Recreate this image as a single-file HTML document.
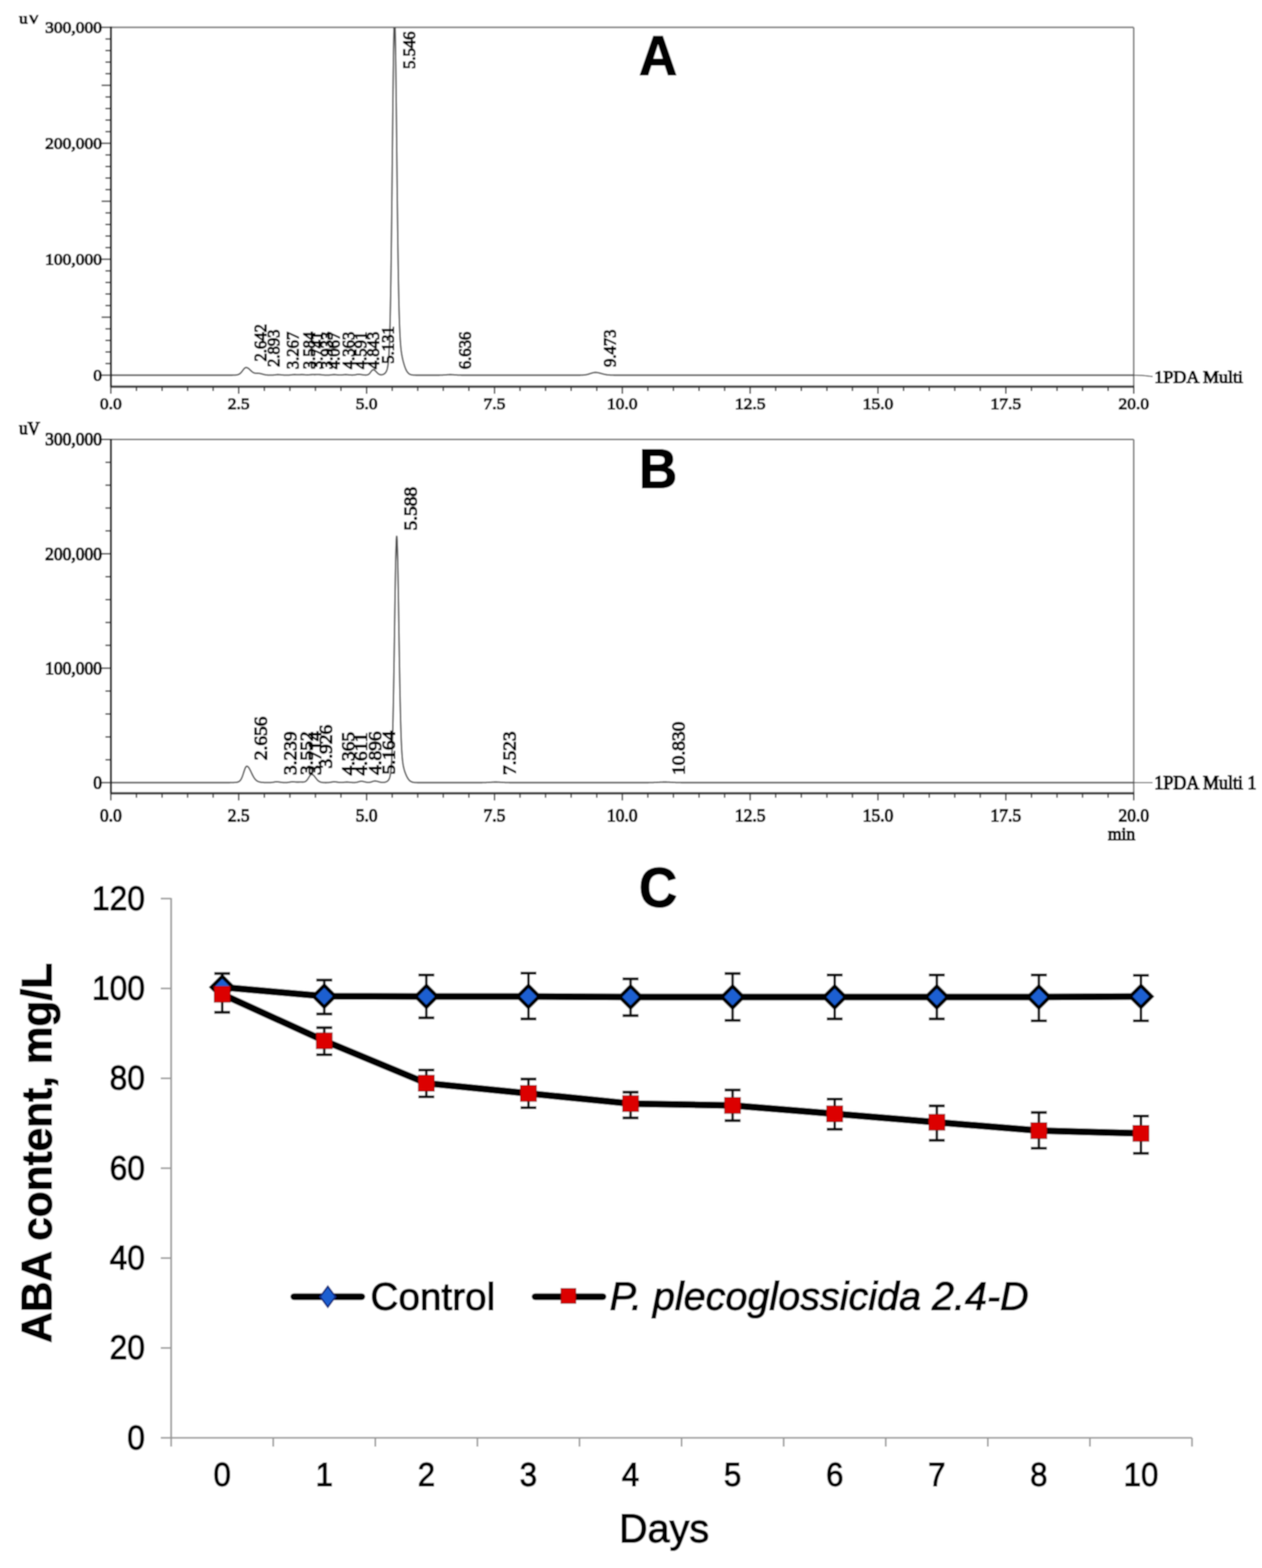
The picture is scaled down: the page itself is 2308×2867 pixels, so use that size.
<!DOCTYPE html>
<html><head><meta charset="utf-8"><title>ABA chromatograms and content</title>
<style>html,body{margin:0;padding:0;background:#fff;} svg{display:block;}</style>
</head><body>
<svg width="2308" height="2867" viewBox="0 0 2308 2867">
<defs><filter id="soft" x="0" y="0" width="1" height="1" filterUnits="objectBoundingBox"><feGaussianBlur stdDeviation="0.9"/></filter></defs>
<g filter="url(#soft)">
<rect width="2308" height="2867" fill="#fff"/>
<line x1="202.80" y1="50.00" x2="2073.40" y2="50.00" stroke="#7a7a7a" stroke-width="3"/>
<line x1="2073.40" y1="50.00" x2="2073.40" y2="707.00" stroke="#7a7a7a" stroke-width="3"/>
<clipPath id="clip50"><rect x="202.8" y="50.0" width="1870.6000000000001" height="657.0"/></clipPath>
<polyline points="202.8,686.0 203.3,686.0 203.8,686.0 204.3,686.0 204.8,686.0 205.3,686.0 205.8,686.0 206.3,686.0 206.8,686.0 207.3,686.0 207.8,686.0 208.3,686.0 208.8,686.0 209.3,686.0 209.8,686.0 210.3,686.0 210.8,686.0 211.3,686.0 211.8,686.0 212.3,686.0 212.8,686.0 213.3,686.0 213.8,686.0 214.3,686.0 214.8,686.0 215.3,686.0 215.8,686.0 216.3,686.0 216.8,686.0 217.3,686.0 217.8,686.0 218.3,686.0 218.8,686.0 219.3,686.0 219.8,686.0 220.3,686.0 220.8,686.0 221.3,686.0 221.8,686.0 222.3,686.0 222.8,686.0 223.3,686.0 223.8,686.0 224.3,686.0 224.8,686.0 225.3,686.0 225.8,686.0 226.3,686.0 226.8,686.0 227.3,686.0 227.8,686.0 228.3,686.0 228.8,686.0 229.3,686.0 229.8,686.0 230.3,686.0 230.8,686.0 231.3,686.0 231.8,686.0 232.3,686.0 232.8,686.0 233.3,686.0 233.8,686.0 234.3,686.0 234.8,686.0 235.3,686.0 235.8,686.0 236.3,686.0 236.8,686.0 237.3,686.0 237.8,686.0 238.3,686.0 238.8,686.0 239.3,686.0 239.8,686.0 240.3,686.0 240.8,686.0 241.3,686.0 241.8,686.0 242.3,686.0 242.8,686.0 243.3,686.0 243.8,686.0 244.3,686.0 244.8,686.0 245.3,686.0 245.8,686.0 246.3,686.0 246.8,686.0 247.3,686.0 247.8,686.0 248.3,686.0 248.8,686.0 249.3,686.0 249.8,686.0 250.3,686.0 250.8,686.0 251.3,686.0 251.8,686.0 252.3,686.0 252.8,686.0 253.3,686.0 253.8,686.0 254.3,686.0 254.8,686.0 255.3,686.0 255.8,686.0 256.3,686.0 256.8,686.0 257.3,686.0 257.8,686.0 258.3,686.0 258.8,686.0 259.3,686.0 259.8,686.0 260.3,686.0 260.8,686.0 261.3,686.0 261.8,686.0 262.3,686.0 262.8,686.0 263.3,686.0 263.8,686.0 264.3,686.0 264.8,686.0 265.3,686.0 265.8,686.0 266.3,686.0 266.8,686.0 267.3,686.0 267.8,686.0 268.3,686.0 268.8,686.0 269.3,686.0 269.8,686.0 270.3,686.0 270.8,686.0 271.3,686.0 271.8,686.0 272.3,686.0 272.8,686.0 273.3,686.0 273.8,686.0 274.3,686.0 274.8,686.0 275.3,686.0 275.8,686.0 276.3,686.0 276.8,686.0 277.3,686.0 277.8,686.0 278.3,686.0 278.8,686.0 279.3,686.0 279.8,686.0 280.3,686.0 280.8,686.0 281.3,686.0 281.8,686.0 282.3,686.0 282.8,686.0 283.3,686.0 283.8,686.0 284.3,686.0 284.8,686.0 285.3,686.0 285.8,686.0 286.3,686.0 286.8,686.0 287.3,686.0 287.8,686.0 288.3,686.0 288.8,686.0 289.3,686.0 289.8,686.0 290.3,686.0 290.8,686.0 291.3,686.0 291.8,686.0 292.3,686.0 292.8,686.0 293.3,686.0 293.8,686.0 294.3,686.0 294.8,686.0 295.3,686.0 295.8,686.0 296.3,686.0 296.8,686.0 297.3,686.0 297.8,686.0 298.3,686.0 298.8,686.0 299.3,686.0 299.8,686.0 300.3,686.0 300.8,686.0 301.3,686.0 301.8,686.0 302.3,686.0 302.8,686.0 303.3,686.0 303.8,686.0 304.3,686.0 304.8,686.0 305.3,686.0 305.8,686.0 306.3,686.0 306.8,686.0 307.3,686.0 307.8,686.0 308.3,686.0 308.8,686.0 309.3,686.0 309.8,686.0 310.3,686.0 310.8,686.0 311.3,686.0 311.8,686.0 312.3,686.0 312.8,686.0 313.3,686.0 313.8,686.0 314.3,686.0 314.8,686.0 315.3,686.0 315.8,686.0 316.3,686.0 316.8,686.0 317.3,686.0 317.8,686.0 318.3,686.0 318.8,686.0 319.3,686.0 319.8,686.0 320.3,686.0 320.8,686.0 321.3,686.0 321.8,686.0 322.3,686.0 322.8,686.0 323.3,686.0 323.8,686.0 324.3,686.0 324.8,686.0 325.3,686.0 325.8,686.0 326.3,686.0 326.8,686.0 327.3,686.0 327.8,686.0 328.3,686.0 328.8,686.0 329.3,686.0 329.8,686.0 330.3,686.0 330.8,686.0 331.3,686.0 331.8,686.0 332.3,686.0 332.8,686.0 333.3,686.0 333.8,686.0 334.3,686.0 334.8,686.0 335.3,686.0 335.8,686.0 336.3,686.0 336.8,686.0 337.3,686.0 337.8,686.0 338.3,686.0 338.8,686.0 339.3,686.0 339.8,686.0 340.3,686.0 340.8,686.0 341.3,686.0 341.8,686.0 342.3,686.0 342.8,686.0 343.3,686.0 343.8,686.0 344.3,686.0 344.8,686.0 345.3,686.0 345.8,686.0 346.3,686.0 346.8,686.0 347.3,686.0 347.8,686.0 348.3,686.0 348.8,686.0 349.3,686.0 349.8,686.0 350.3,686.0 350.8,686.0 351.3,686.0 351.8,686.0 352.3,686.0 352.8,686.0 353.3,686.0 353.8,686.0 354.3,686.0 354.8,686.0 355.3,686.0 355.8,686.0 356.3,686.0 356.8,686.0 357.3,686.0 357.8,686.0 358.3,686.0 358.8,686.0 359.3,686.0 359.8,686.0 360.3,686.0 360.8,686.0 361.3,686.0 361.8,686.0 362.3,686.0 362.8,686.0 363.3,686.0 363.8,686.0 364.3,686.0 364.8,686.0 365.3,686.0 365.8,686.0 366.3,686.0 366.8,686.0 367.3,686.0 367.8,686.0 368.3,686.0 368.8,686.0 369.3,686.0 369.8,686.0 370.3,686.0 370.8,686.0 371.3,686.0 371.8,686.0 372.3,686.0 372.8,686.0 373.3,686.0 373.8,686.0 374.3,686.0 374.8,686.0 375.3,686.0 375.8,686.0 376.3,686.0 376.8,686.0 377.3,686.0 377.8,686.0 378.3,686.0 378.8,686.0 379.3,686.0 379.8,686.0 380.3,686.0 380.8,686.0 381.3,686.0 381.8,686.0 382.3,686.0 382.8,686.0 383.3,686.0 383.8,686.0 384.3,686.0 384.8,686.0 385.3,686.0 385.8,686.0 386.3,686.0 386.8,686.0 387.3,686.0 387.8,686.0 388.3,686.0 388.8,686.0 389.3,686.0 389.8,686.0 390.3,686.0 390.8,686.0 391.3,686.0 391.8,686.0 392.3,686.0 392.8,686.0 393.3,686.0 393.8,686.0 394.3,686.0 394.8,686.0 395.3,686.0 395.8,686.0 396.3,686.0 396.8,686.0 397.3,686.0 397.8,686.0 398.3,686.0 398.8,686.0 399.3,686.0 399.8,686.0 400.3,686.0 400.8,686.0 401.3,686.0 401.8,686.0 402.3,686.0 402.8,686.0 403.3,686.0 403.8,686.0 404.3,686.0 404.8,686.0 405.3,686.0 405.8,686.0 406.3,686.0 406.8,686.0 407.3,686.0 407.8,686.0 408.3,686.0 408.8,686.0 409.3,686.0 409.8,686.0 410.3,686.0 410.8,686.0 411.3,686.0 411.8,686.0 412.3,686.0 412.8,686.0 413.3,686.0 413.8,686.0 414.3,686.0 414.8,686.0 415.3,686.0 415.8,686.0 416.3,686.0 416.8,686.0 417.3,686.0 417.8,686.0 418.3,686.0 418.8,686.0 419.3,686.0 419.8,686.0 420.3,686.0 420.8,686.0 421.3,686.0 421.8,686.0 422.3,686.0 422.8,686.0 423.3,686.0 423.8,686.0 424.3,686.0 424.8,686.0 425.3,686.0 425.8,685.9 426.3,685.9 426.8,685.9 427.3,685.9 427.8,685.9 428.3,685.9 428.8,685.9 429.3,685.9 429.8,685.8 430.3,685.8 430.8,685.8 431.3,685.7 431.8,685.7 432.3,685.6 432.8,685.5 433.3,685.5 433.8,685.4 434.3,685.3 434.8,685.1 435.3,685.0 435.8,684.8 436.3,684.6 436.8,684.4 437.3,684.1 437.8,683.8 438.3,683.5 438.8,683.1 439.3,682.7 439.8,682.3 440.3,681.8 440.8,681.2 441.3,680.7 441.8,680.1 442.3,679.5 442.8,678.8 443.3,678.2 443.8,677.5 444.3,676.8 444.8,676.2 445.3,675.5 445.8,674.9 446.3,674.3 446.8,673.8 447.3,673.3 447.8,672.9 448.3,672.5 448.8,672.3 449.3,672.1 449.8,672.0 450.3,672.0 450.8,672.0 451.3,672.1 451.8,672.3 452.3,672.5 452.8,672.7 453.3,673.0 453.8,673.3 454.3,673.6 454.8,674.0 455.3,674.4 455.8,674.9 456.3,675.3 456.8,675.8 457.3,676.3 457.8,676.7 458.3,677.2 458.8,677.7 459.3,678.2 459.8,678.6 460.3,679.1 460.8,679.5 461.3,679.9 461.8,680.2 462.3,680.6 462.8,680.9 463.3,681.2 463.8,681.4 464.3,681.7 464.8,681.9 465.3,682.0 465.8,682.1 466.3,682.3 466.8,682.3 467.3,682.4 467.8,682.4 468.3,682.5 468.8,682.5 469.3,682.5 469.8,682.5 470.3,682.5 470.8,682.5 471.3,682.5 471.8,682.5 472.3,682.5 472.8,682.6 473.3,682.6 473.8,682.7 474.3,682.7 474.8,682.8 475.3,682.9 475.8,683.0 476.3,683.1 476.8,683.2 477.3,683.3 477.8,683.4 478.3,683.6 478.8,683.7 479.3,683.8 479.8,684.0 480.3,684.1 480.8,684.2 481.3,684.4 481.8,684.5 482.3,684.6 482.8,684.8 483.3,684.9 483.8,685.0 484.3,685.1 484.8,685.2 485.3,685.3 485.8,685.4 486.3,685.4 486.8,685.5 487.3,685.6 487.8,685.6 488.3,685.7 488.8,685.7 489.3,685.8 489.8,685.8 490.3,685.8 490.8,685.9 491.3,685.9 491.8,685.9 492.3,685.9 492.8,685.9 493.3,685.9 493.8,685.9 494.3,685.9 494.8,685.9 495.3,685.9 495.8,685.9 496.3,685.9 496.8,685.9 497.3,685.9 497.8,685.9 498.3,685.9 498.8,685.8 499.3,685.8 499.8,685.8 500.3,685.7 500.8,685.7 501.3,685.6 501.8,685.6 502.3,685.5 502.8,685.5 503.3,685.4 503.8,685.3 504.3,685.3 504.8,685.2 505.3,685.2 505.8,685.1 506.3,685.1 506.8,685.0 507.3,685.0 507.8,685.0 508.3,685.0 508.8,685.0 509.3,685.0 509.8,685.0 510.3,685.1 510.8,685.1 511.3,685.1 511.8,685.2 512.3,685.2 512.8,685.2 513.3,685.3 513.8,685.3 514.3,685.4 514.8,685.4 515.3,685.5 515.8,685.5 516.3,685.6 516.8,685.6 517.3,685.7 517.8,685.7 518.3,685.7 518.8,685.8 519.3,685.8 519.8,685.8 520.3,685.9 520.8,685.9 521.3,685.9 521.8,685.9 522.3,685.9 522.8,685.9 523.3,685.9 523.8,685.9 524.3,685.9 524.8,685.9 525.3,685.9 525.8,685.9 526.3,685.9 526.8,685.9 527.3,685.9 527.8,685.9 528.3,685.8 528.8,685.8 529.3,685.8 529.8,685.7 530.3,685.7 530.8,685.6 531.3,685.6 531.8,685.5 532.3,685.5 532.8,685.4 533.3,685.4 533.8,685.3 534.3,685.2 534.8,685.2 535.3,685.1 535.8,685.1 536.3,685.1 536.8,685.0 537.3,685.0 537.8,685.0 538.3,685.0 538.8,685.0 539.3,685.0 539.8,685.0 540.3,685.0 540.8,685.0 541.3,685.1 541.8,685.1 542.3,685.1 542.8,685.1 543.3,685.2 543.8,685.2 544.3,685.2 544.8,685.2 545.3,685.2 545.8,685.2 546.3,685.2 546.8,685.2 547.3,685.1 547.8,685.1 548.3,685.1 548.8,685.1 549.3,685.0 549.8,685.0 550.3,685.0 550.8,685.0 551.3,685.0 551.8,684.9 552.3,684.9 552.8,685.0 553.3,685.0 553.8,685.0 554.3,685.0 554.8,685.0 555.3,685.1 555.8,685.1 556.3,685.1 556.8,685.2 557.3,685.2 557.8,685.3 558.3,685.3 558.8,685.3 559.3,685.4 559.8,685.4 560.3,685.4 560.8,685.5 561.3,685.5 561.8,685.5 562.3,685.5 562.8,685.5 563.3,685.5 563.8,685.4 564.3,685.4 564.8,685.4 565.3,685.3 565.8,685.3 566.3,685.2 566.8,685.2 567.3,685.1 567.8,685.1 568.3,685.1 568.8,685.0 569.3,685.0 569.8,685.0 570.3,685.0 570.8,684.9 571.3,684.9 571.8,684.9 572.3,684.9 572.8,684.9 573.3,684.9 573.8,685.0 574.3,685.0 574.8,685.0 575.3,685.0 575.8,685.0 576.3,685.0 576.8,685.0 577.3,685.0 577.8,684.9 578.3,684.9 578.8,684.9 579.3,684.9 579.8,684.9 580.3,684.9 580.8,684.9 581.3,684.9 581.8,684.9 582.3,684.9 582.8,684.9 583.3,684.9 583.8,684.9 584.3,684.9 584.8,685.0 585.3,685.0 585.8,685.0 586.3,685.1 586.8,685.1 587.3,685.2 587.8,685.2 588.3,685.3 588.8,685.3 589.3,685.4 589.8,685.4 590.3,685.5 590.8,685.5 591.3,685.6 591.8,685.6 592.3,685.7 592.8,685.7 593.3,685.8 593.8,685.8 594.3,685.8 594.8,685.8 595.3,685.9 595.8,685.9 596.3,685.9 596.8,685.9 597.3,685.9 597.8,685.9 598.3,685.9 598.8,685.9 599.3,685.9 599.8,685.9 600.3,685.9 600.8,685.9 601.3,685.8 601.8,685.8 602.3,685.8 602.8,685.7 603.3,685.7 603.8,685.6 604.3,685.6 604.8,685.5 605.3,685.5 605.8,685.4 606.3,685.3 606.8,685.3 607.3,685.2 607.8,685.2 608.3,685.1 608.8,685.1 609.3,685.0 609.8,685.0 610.3,685.0 610.8,685.0 611.3,685.0 611.8,685.0 612.3,685.0 612.8,685.0 613.3,685.1 613.8,685.1 614.3,685.1 614.8,685.2 615.3,685.2 615.8,685.3 616.3,685.3 616.8,685.4 617.3,685.4 617.8,685.5 618.3,685.5 618.8,685.6 619.3,685.6 619.8,685.6 620.3,685.7 620.8,685.7 621.3,685.7 621.8,685.7 622.3,685.7 622.8,685.7 623.3,685.7 623.8,685.7 624.3,685.6 624.8,685.6 625.3,685.6 625.8,685.5 626.3,685.5 626.8,685.4 627.3,685.4 627.8,685.3 628.3,685.2 628.8,685.2 629.3,685.1 629.8,685.1 630.3,685.1 630.8,685.0 631.3,685.0 631.8,685.0 632.3,685.0 632.8,685.0 633.3,685.0 633.8,685.0 634.3,685.1 634.8,685.1 635.3,685.1 635.8,685.2 636.3,685.2 636.8,685.3 637.3,685.3 637.8,685.4 638.3,685.4 638.8,685.4 639.3,685.5 639.8,685.5 640.3,685.6 640.8,685.6 641.3,685.7 641.8,685.7 642.3,685.7 642.8,685.7 643.3,685.8 643.8,685.8 644.3,685.8 644.8,685.8 645.3,685.7 645.8,685.7 646.3,685.7 646.8,685.6 647.3,685.6 647.8,685.5 648.3,685.5 648.8,685.4 649.3,685.3 649.8,685.3 650.3,685.2 650.8,685.1 651.3,685.0 651.8,684.9 652.3,684.8 652.8,684.7 653.3,684.7 653.8,684.6 654.3,684.6 654.8,684.5 655.3,684.5 655.8,684.5 656.3,684.5 656.8,684.5 657.3,684.5 657.8,684.6 658.3,684.6 658.8,684.7 659.3,684.7 659.8,684.8 660.3,684.9 660.8,684.9 661.3,685.0 661.8,685.1 662.3,685.2 662.8,685.2 663.3,685.3 663.8,685.4 664.3,685.5 664.8,685.5 665.3,685.6 665.8,685.6 666.3,685.7 666.8,685.7 667.3,685.7 667.8,685.8 668.3,685.8 668.8,685.8 669.3,685.8 669.8,685.7 670.3,685.7 670.8,685.6 671.3,685.5 671.8,685.4 672.3,685.3 672.8,685.1 673.3,684.9 673.8,684.6 674.3,684.2 674.8,683.9 675.3,683.4 675.8,682.9 676.3,682.4 676.8,681.8 677.3,681.1 677.8,680.5 678.3,679.8 678.8,679.1 679.3,678.5 679.8,677.9 680.3,677.3 680.8,676.9 681.3,676.5 681.8,676.2 682.3,676.0 682.8,676.0 683.3,676.1 683.8,676.2 684.3,676.4 684.8,676.7 685.3,677.1 685.8,677.5 686.3,677.9 686.8,678.4 687.3,678.9 687.8,679.5 688.3,680.0 688.8,680.6 689.3,681.1 689.8,681.6 690.3,682.1 690.8,682.6 691.3,683.0 691.8,683.4 692.3,683.8 692.8,684.1 693.3,684.3 693.8,684.6 694.3,684.8 694.8,684.9 695.3,685.1 695.8,685.2 696.3,685.2 696.8,685.3 697.3,685.3 697.8,685.2 698.3,685.2 698.8,685.1 699.3,685.0 699.8,684.9 700.3,684.8 700.8,684.6 701.3,684.4 701.8,684.1 702.3,683.8 702.8,683.5 703.3,683.1 703.8,682.7 704.3,682.2 704.8,681.7 705.3,681.0 705.8,680.3 706.3,679.5 706.8,678.5 707.3,677.3 707.8,675.9 708.3,674.1 708.8,671.9 709.3,669.1 709.8,665.5 710.3,660.9 710.8,655.0 711.3,647.5 711.8,638.0 712.3,626.0 712.8,611.2 713.3,593.0 713.8,571.0 714.3,545.0 714.8,514.7 715.3,480.1 715.8,441.4 716.3,399.0 716.8,353.6 717.3,306.2 717.8,258.1 718.3,210.7 718.8,165.7 719.3,124.8 719.8,89.6 720.3,61.5 720.8,41.9 721.3,31.5 721.8,30.8 722.3,39.8 722.8,57.9 723.3,84.4 723.8,117.9 724.3,157.1 724.8,200.2 725.3,245.6 725.8,291.7 726.3,337.1 726.8,380.5 727.3,421.0 727.8,458.0 728.3,490.9 728.8,519.8 729.3,544.6 729.8,565.5 730.3,583.0 730.8,597.3 731.3,609.1 731.8,618.5 732.3,626.2 732.8,632.5 733.3,637.6 733.8,641.8 734.3,645.4 734.8,648.6 735.3,651.3 735.8,653.8 736.3,656.1 736.8,658.2 737.3,660.3 737.8,662.2 738.3,664.0 738.8,665.7 739.3,667.4 739.8,668.9 740.3,670.4 740.8,671.8 741.3,673.1 741.8,674.3 742.3,675.4 742.8,676.5 743.3,677.5 743.8,678.4 744.3,679.2 744.8,679.9 745.3,680.6 745.8,681.3 746.3,681.8 746.8,682.3 747.3,682.8 747.8,683.2 748.3,683.6 748.8,683.9 749.3,684.2 749.8,684.4 750.3,684.6 750.8,684.8 751.3,685.0 751.8,685.2 752.3,685.3 752.8,685.4 753.3,685.5 753.8,685.6 754.3,685.6 754.8,685.7 755.3,685.7 755.8,685.8 756.3,685.8 756.8,685.9 757.3,685.9 757.8,685.9 758.3,685.9 758.8,685.9 759.3,685.9 759.8,686.0 760.3,686.0 760.8,686.0 761.3,686.0 761.8,686.0 762.3,686.0 762.8,686.0 763.3,686.0 763.8,686.0 764.3,686.0 764.8,686.0 765.3,686.0 765.8,686.0 766.3,686.0 766.8,686.0 767.3,686.0 767.8,686.0 768.3,686.0 768.8,686.0 769.3,686.0 769.8,686.0 770.3,686.0 770.8,686.0 771.3,686.0 771.8,686.0 772.3,686.0 772.8,686.0 773.3,686.0 773.8,686.0 774.3,686.0 774.8,686.0 775.3,686.0 775.8,686.0 776.3,686.0 776.8,686.0 777.3,686.0 777.8,686.0 778.3,686.0 778.8,686.0 779.3,686.0 779.8,686.0 780.3,686.0 780.8,686.0 781.3,686.0 781.8,686.0 782.3,686.0 782.8,686.0 783.3,686.0 783.8,686.0 784.3,686.0 784.8,686.0 785.3,686.0 785.8,686.0 786.3,686.0 786.8,686.0 787.3,686.0 787.8,686.0 788.3,686.0 788.8,686.0 789.3,686.0 789.8,686.0 790.3,686.0 790.8,686.0 791.3,686.0 791.8,686.0 792.3,686.0 792.8,686.0 793.3,686.0 793.8,686.0 794.3,686.0 794.8,686.0 795.3,686.0 795.8,686.0 796.3,686.0 796.8,686.0 797.3,686.0 797.8,686.0 798.3,686.0 798.8,686.0 799.3,686.0 799.8,686.0 800.3,686.0 800.8,686.0 801.3,686.0 801.8,686.0 802.3,686.0 802.8,686.0 803.3,686.0 803.8,686.0 804.3,685.9 804.8,685.9 805.3,685.9 805.8,685.9 806.3,685.9 806.8,685.9 807.3,685.9 807.8,685.9 808.3,685.8 808.8,685.8 809.3,685.8 809.8,685.8 810.3,685.7 810.8,685.7 811.3,685.7 811.8,685.7 812.3,685.6 812.8,685.6 813.3,685.6 813.8,685.5 814.3,685.5 814.8,685.4 815.3,685.4 815.8,685.4 816.3,685.3 816.8,685.3 817.3,685.3 817.8,685.2 818.3,685.2 818.8,685.2 819.3,685.1 819.8,685.1 820.3,685.1 820.8,685.1 821.3,685.0 821.8,685.0 822.3,685.0 822.8,685.0 823.3,685.0 823.8,685.0 824.3,685.0 824.8,685.0 825.3,685.0 825.8,685.0 826.3,685.1 826.8,685.1 827.3,685.1 827.8,685.1 828.3,685.2 828.8,685.2 829.3,685.2 829.8,685.3 830.3,685.3 830.8,685.3 831.3,685.4 831.8,685.4 832.3,685.5 832.8,685.5 833.3,685.5 833.8,685.6 834.3,685.6 834.8,685.6 835.3,685.7 835.8,685.7 836.3,685.7 836.8,685.8 837.3,685.8 837.8,685.8 838.3,685.8 838.8,685.8 839.3,685.9 839.8,685.9 840.3,685.9 840.8,685.9 841.3,685.9 841.8,685.9 842.3,685.9 842.8,685.9 843.3,686.0 843.8,686.0 844.3,686.0 844.8,686.0 845.3,686.0 845.8,686.0 846.3,686.0 846.8,686.0 847.3,686.0 847.8,686.0 848.3,686.0 848.8,686.0 849.3,686.0 849.8,686.0 850.3,686.0 850.8,686.0 851.3,686.0 851.8,686.0 852.3,686.0 852.8,686.0 853.3,686.0 853.8,686.0 854.3,686.0 854.8,686.0 855.3,686.0 855.8,686.0 856.3,686.0 856.8,686.0 857.3,686.0 857.8,686.0 858.3,686.0 858.8,686.0 859.3,686.0 859.8,686.0 860.3,686.0 860.8,686.0 861.3,686.0 861.8,686.0 862.3,686.0 862.8,686.0 863.3,686.0 863.8,686.0 864.3,686.0 864.8,686.0 865.3,686.0 865.8,686.0 866.3,686.0 866.8,686.0 867.3,686.0 867.8,686.0 868.3,686.0 868.8,686.0 869.3,686.0 869.8,686.0 870.3,686.0 870.8,686.0 871.3,686.0 871.8,686.0 872.3,686.0 872.8,686.0 873.3,686.0 873.8,686.0 874.3,686.0 874.8,686.0 875.3,686.0 875.8,686.0 876.3,686.0 876.8,686.0 877.3,686.0 877.8,686.0 878.3,686.0 878.8,686.0 879.3,686.0 879.8,686.0 880.3,686.0 880.8,686.0 881.3,686.0 881.8,686.0 882.3,686.0 882.8,686.0 883.3,686.0 883.8,686.0 884.3,686.0 884.8,686.0 885.3,686.0 885.8,686.0 886.3,686.0 886.8,686.0 887.3,686.0 887.8,686.0 888.3,686.0 888.8,686.0 889.3,686.0 889.8,686.0 890.3,686.0 890.8,686.0 891.3,686.0 891.8,686.0 892.3,686.0 892.8,686.0 893.3,686.0 893.8,686.0 894.3,686.0 894.8,686.0 895.3,686.0 895.8,686.0 896.3,686.0 896.8,686.0 897.3,686.0 897.8,686.0 898.3,686.0 898.8,686.0 899.3,686.0 899.8,686.0 900.3,686.0 900.8,686.0 901.3,686.0 901.8,686.0 902.3,686.0 902.8,686.0 903.3,686.0 903.8,686.0 904.3,686.0 904.8,686.0 905.3,686.0 905.8,686.0 906.3,686.0 906.8,686.0 907.3,686.0 907.8,686.0 908.3,686.0 908.8,686.0 909.3,686.0 909.8,686.0 910.3,686.0 910.8,686.0 911.3,686.0 911.8,686.0 912.3,686.0 912.8,686.0 913.3,686.0 913.8,686.0 914.3,686.0 914.8,686.0 915.3,686.0 915.8,686.0 916.3,686.0 916.8,686.0 917.3,686.0 917.8,686.0 918.3,686.0 918.8,686.0 919.3,686.0 919.8,686.0 920.3,686.0 920.8,686.0 921.3,686.0 921.8,686.0 922.3,686.0 922.8,686.0 923.3,686.0 923.8,686.0 924.3,686.0 924.8,686.0 925.3,686.0 925.8,686.0 926.3,686.0 926.8,686.0 927.3,686.0 927.8,686.0 928.3,686.0 928.8,686.0 929.3,686.0 929.8,686.0 930.3,686.0 930.8,686.0 931.3,686.0 931.8,686.0 932.3,686.0 932.8,686.0 933.3,686.0 933.8,686.0 934.3,686.0 934.8,686.0 935.3,686.0 935.8,686.0 936.3,686.0 936.8,686.0 937.3,686.0 937.8,686.0 938.3,686.0 938.8,686.0 939.3,686.0 939.8,686.0 940.3,686.0 940.8,686.0 941.3,686.0 941.8,686.0 942.3,686.0 942.8,686.0 943.3,686.0 943.8,686.0 944.3,686.0 944.8,686.0 945.3,686.0 945.8,686.0 946.3,686.0 946.8,686.0 947.3,686.0 947.8,686.0 948.3,686.0 948.8,686.0 949.3,686.0 949.8,686.0 950.3,686.0 950.8,686.0 951.3,686.0 951.8,686.0 952.3,686.0 952.8,686.0 953.3,686.0 953.8,686.0 954.3,686.0 954.8,686.0 955.3,686.0 955.8,686.0 956.3,686.0 956.8,686.0 957.3,686.0 957.8,686.0 958.3,686.0 958.8,686.0 959.3,686.0 959.8,686.0 960.3,686.0 960.8,686.0 961.3,686.0 961.8,686.0 962.3,686.0 962.8,686.0 963.3,686.0 963.8,686.0 964.3,686.0 964.8,686.0 965.3,686.0 965.8,686.0 966.3,686.0 966.8,686.0 967.3,686.0 967.8,686.0 968.3,686.0 968.8,686.0 969.3,686.0 969.8,686.0 970.3,686.0 970.8,686.0 971.3,686.0 971.8,686.0 972.3,686.0 972.8,686.0 973.3,686.0 973.8,686.0 974.3,686.0 974.8,686.0 975.3,686.0 975.8,686.0 976.3,686.0 976.8,686.0 977.3,686.0 977.8,686.0 978.3,686.0 978.8,686.0 979.3,686.0 979.8,686.0 980.3,686.0 980.8,686.0 981.3,686.0 981.8,686.0 982.3,686.0 982.8,686.0 983.3,686.0 983.8,686.0 984.3,686.0 984.8,686.0 985.3,686.0 985.8,686.0 986.3,686.0 986.8,686.0 987.3,686.0 987.8,686.0 988.3,686.0 988.8,686.0 989.3,686.0 989.8,686.0 990.3,686.0 990.8,686.0 991.3,686.0 991.8,686.0 992.3,686.0 992.8,686.0 993.3,686.0 993.8,686.0 994.3,686.0 994.8,686.0 995.3,686.0 995.8,686.0 996.3,686.0 996.8,686.0 997.3,686.0 997.8,686.0 998.3,686.0 998.8,686.0 999.3,686.0 999.8,686.0 1000.3,686.0 1000.8,686.0 1001.3,686.0 1001.8,686.0 1002.3,686.0 1002.8,686.0 1003.3,686.0 1003.8,686.0 1004.3,686.0 1004.8,686.0 1005.3,686.0 1005.8,686.0 1006.3,686.0 1006.8,686.0 1007.3,686.0 1007.8,686.0 1008.3,686.0 1008.8,686.0 1009.3,686.0 1009.8,686.0 1010.3,686.0 1010.8,686.0 1011.3,686.0 1011.8,686.0 1012.3,686.0 1012.8,686.0 1013.3,686.0 1013.8,686.0 1014.3,686.0 1014.8,686.0 1015.3,686.0 1015.8,686.0 1016.3,686.0 1016.8,686.0 1017.3,686.0 1017.8,686.0 1018.3,686.0 1018.8,686.0 1019.3,686.0 1019.8,686.0 1020.3,686.0 1020.8,686.0 1021.3,686.0 1021.8,686.0 1022.3,686.0 1022.8,686.0 1023.3,686.0 1023.8,686.0 1024.3,686.0 1024.8,686.0 1025.3,686.0 1025.8,686.0 1026.3,686.0 1026.8,686.0 1027.3,686.0 1027.8,686.0 1028.3,686.0 1028.8,686.0 1029.3,686.0 1029.8,686.0 1030.3,686.0 1030.8,686.0 1031.3,686.0 1031.8,686.0 1032.3,686.0 1032.8,686.0 1033.3,686.0 1033.8,686.0 1034.3,686.0 1034.8,686.0 1035.3,686.0 1035.8,686.0 1036.3,686.0 1036.8,686.0 1037.3,686.0 1037.8,686.0 1038.3,686.0 1038.8,686.0 1039.3,686.0 1039.8,686.0 1040.3,686.0 1040.8,686.0 1041.3,686.0 1041.8,686.0 1042.3,686.0 1042.8,686.0 1043.3,686.0 1043.8,686.0 1044.3,686.0 1044.8,686.0 1045.3,686.0 1045.8,686.0 1046.3,686.0 1046.8,686.0 1047.3,686.0 1047.8,686.0 1048.3,686.0 1048.8,686.0 1049.3,686.0 1049.8,686.0 1050.3,686.0 1050.8,686.0 1051.3,686.0 1051.8,686.0 1052.3,686.0 1052.8,686.0 1053.3,686.0 1053.8,686.0 1054.3,686.0 1054.8,686.0 1055.3,686.0 1055.8,686.0 1056.3,686.0 1056.8,686.0 1057.3,686.0 1057.8,686.0 1058.3,686.0 1058.8,686.0 1059.3,686.0 1059.8,686.0 1060.3,686.0 1060.8,686.0 1061.3,686.0 1061.8,685.9 1062.3,685.9 1062.8,685.9 1063.3,685.9 1063.8,685.9 1064.3,685.9 1064.8,685.9 1065.3,685.8 1065.8,685.8 1066.3,685.8 1066.8,685.7 1067.3,685.7 1067.8,685.7 1068.3,685.6 1068.8,685.6 1069.3,685.5 1069.8,685.5 1070.3,685.4 1070.8,685.3 1071.3,685.2 1071.8,685.2 1072.3,685.1 1072.8,685.0 1073.3,684.9 1073.8,684.8 1074.3,684.6 1074.8,684.5 1075.3,684.4 1075.8,684.2 1076.3,684.1 1076.8,683.9 1077.3,683.8 1077.8,683.6 1078.3,683.5 1078.8,683.3 1079.3,683.1 1079.8,683.0 1080.3,682.8 1080.8,682.6 1081.3,682.5 1081.8,682.3 1082.3,682.2 1082.8,682.0 1083.3,681.9 1083.8,681.7 1084.3,681.6 1084.8,681.5 1085.3,681.4 1085.8,681.3 1086.3,681.2 1086.8,681.1 1087.3,681.1 1087.8,681.0 1088.3,681.0 1088.8,681.0 1089.3,681.0 1089.8,681.0 1090.3,681.0 1090.8,681.1 1091.3,681.1 1091.8,681.2 1092.3,681.2 1092.8,681.3 1093.3,681.4 1093.8,681.5 1094.3,681.6 1094.8,681.7 1095.3,681.8 1095.8,681.9 1096.3,682.0 1096.8,682.2 1097.3,682.3 1097.8,682.4 1098.3,682.6 1098.8,682.7 1099.3,682.8 1099.8,683.0 1100.3,683.1 1100.8,683.2 1101.3,683.4 1101.8,683.5 1102.3,683.6 1102.8,683.8 1103.3,683.9 1103.8,684.0 1104.3,684.1 1104.8,684.3 1105.3,684.4 1105.8,684.5 1106.3,684.6 1106.8,684.7 1107.3,684.8 1107.8,684.9 1108.3,685.0 1108.8,685.0 1109.3,685.1 1109.8,685.2 1110.3,685.3 1110.8,685.3 1111.3,685.4 1111.8,685.4 1112.3,685.5 1112.8,685.5 1113.3,685.6 1113.8,685.6 1114.3,685.7 1114.8,685.7 1115.3,685.7 1115.8,685.8 1116.3,685.8 1116.8,685.8 1117.3,685.8 1117.8,685.8 1118.3,685.9 1118.8,685.9 1119.3,685.9 1119.8,685.9 1120.3,685.9 1120.8,685.9 1121.3,685.9 1121.8,685.9 1122.3,686.0 1122.8,686.0 1123.3,686.0 1123.8,686.0 1124.3,686.0 1124.8,686.0 1125.3,686.0 1125.8,686.0 1126.3,686.0 1126.8,686.0 1127.3,686.0 1127.8,686.0 1128.3,686.0 1128.8,686.0 1129.3,686.0 1129.8,686.0 1130.3,686.0 1130.8,686.0 1131.3,686.0 1131.8,686.0 1132.3,686.0 1132.8,686.0 1133.3,686.0 1133.8,686.0 1134.3,686.0 1134.8,686.0 1135.3,686.0 1135.8,686.0 1136.3,686.0 1136.8,686.0 1137.3,686.0 1137.8,686.0 1138.3,686.0 1138.8,686.0 1139.3,686.0 1139.8,686.0 1140.3,686.0 1140.8,686.0 1141.3,686.0 1141.8,686.0 1142.3,686.0 1142.8,686.0 1143.3,686.0 1143.8,686.0 1144.3,686.0 1144.8,686.0 1145.3,686.0 1145.8,686.0 1146.3,686.0 1146.8,686.0 1147.3,686.0 1147.8,686.0 1148.3,686.0 1148.8,686.0 1149.3,686.0 1149.8,686.0 1150.3,686.0 1150.8,686.0 1151.3,686.0 1151.8,686.0 1152.3,686.0 1152.8,686.0 1153.3,686.0 1153.8,686.0 1154.3,686.0 1154.8,686.0 1155.3,686.0 1155.8,686.0 1156.3,686.0 1156.8,686.0 1157.3,686.0 1157.8,686.0 1158.3,686.0 1158.8,686.0 1159.3,686.0 1159.8,686.0 1160.3,686.0 1160.8,686.0 1161.3,686.0 1161.8,686.0 1162.3,686.0 1162.8,686.0 1163.3,686.0 1163.8,686.0 1164.3,686.0 1164.8,686.0 1165.3,686.0 1165.8,686.0 1166.3,686.0 1166.8,686.0 1167.3,686.0 1167.8,686.0 1168.3,686.0 1168.8,686.0 1169.3,686.0 1169.8,686.0 1170.3,686.0 1170.8,686.0 1171.3,686.0 1171.8,686.0 1172.3,686.0 1172.8,686.0 1173.3,686.0 1173.8,686.0 1174.3,686.0 1174.8,686.0 1175.3,686.0 1175.8,686.0 1176.3,686.0 1176.8,686.0 1177.3,686.0 1177.8,686.0 1178.3,686.0 1178.8,686.0 1179.3,686.0 1179.8,686.0 1180.3,686.0 1180.8,686.0 1181.3,686.0 1181.8,686.0 1182.3,686.0 1182.8,686.0 1183.3,686.0 1183.8,686.0 1184.3,686.0 1184.8,686.0 1185.3,686.0 1185.8,686.0 1186.3,686.0 1186.8,686.0 1187.3,686.0 1187.8,686.0 1188.3,686.0 1188.8,686.0 1189.3,686.0 1189.8,686.0 1190.3,686.0 1190.8,686.0 1191.3,686.0 1191.8,686.0 1192.3,686.0 1192.8,686.0 1193.3,686.0 1193.8,686.0 1194.3,686.0 1194.8,686.0 1195.3,686.0 1195.8,686.0 1196.3,686.0 1196.8,686.0 1197.3,686.0 1197.8,686.0 1198.3,686.0 1198.8,686.0 1199.3,686.0 1199.8,686.0 1200.3,686.0 1200.8,686.0 1201.3,686.0 1201.8,686.0 1202.3,686.0 1202.8,686.0 1203.3,686.0 1203.8,686.0 1204.3,686.0 1204.8,686.0 1205.3,686.0 1205.8,686.0 1206.3,686.0 1206.8,686.0 1207.3,686.0 1207.8,686.0 1208.3,686.0 1208.8,686.0 1209.3,686.0 1209.8,686.0 1210.3,686.0 1210.8,686.0 1211.3,686.0 1211.8,686.0 1212.3,686.0 1212.8,686.0 1213.3,686.0 1213.8,686.0 1214.3,686.0 1214.8,686.0 1215.3,686.0 1215.8,686.0 1216.3,686.0 1216.8,686.0 1217.3,686.0 1217.8,686.0 1218.3,686.0 1218.8,686.0 1219.3,686.0 1219.8,686.0 1220.3,686.0 1220.8,686.0 1221.3,686.0 1221.8,686.0 1222.3,686.0 1222.8,686.0 1223.3,686.0 1223.8,686.0 1224.3,686.0 1224.8,686.0 1225.3,686.0 1225.8,686.0 1226.3,686.0 1226.8,686.0 1227.3,686.0 1227.8,686.0 1228.3,686.0 1228.8,686.0 1229.3,686.0 1229.8,686.0 1230.3,686.0 1230.8,686.0 1231.3,686.0 1231.8,686.0 1232.3,686.0 1232.8,686.0 1233.3,686.0 1233.8,686.0 1234.3,686.0 1234.8,686.0 1235.3,686.0 1235.8,686.0 1236.3,686.0 1236.8,686.0 1237.3,686.0 1237.8,686.0 1238.3,686.0 1238.8,686.0 1239.3,686.0 1239.8,686.0 1240.3,686.0 1240.8,686.0 1241.3,686.0 1241.8,686.0 1242.3,686.0 1242.8,686.0 1243.3,686.0 1243.8,686.0 1244.3,686.0 1244.8,686.0 1245.3,686.0 1245.8,686.0 1246.3,686.0 1246.8,686.0 1247.3,686.0 1247.8,686.0 1248.3,686.0 1248.8,686.0 1249.3,686.0 1249.8,686.0 1250.3,686.0 1250.8,686.0 1251.3,686.0 1251.8,686.0 1252.3,686.0 1252.8,686.0 1253.3,686.0 1253.8,686.0 1254.3,686.0 1254.8,686.0 1255.3,686.0 1255.8,686.0 1256.3,686.0 1256.8,686.0 1257.3,686.0 1257.8,686.0 1258.3,686.0 1258.8,686.0 1259.3,686.0 1259.8,686.0 1260.3,686.0 1260.8,686.0 1261.3,686.0 1261.8,686.0 1262.3,686.0 1262.8,686.0 1263.3,686.0 1263.8,686.0 1264.3,686.0 1264.8,686.0 1265.3,686.0 1265.8,686.0 1266.3,686.0 1266.8,686.0 1267.3,686.0 1267.8,686.0 1268.3,686.0 1268.8,686.0 1269.3,686.0 1269.8,686.0 1270.3,686.0 1270.8,686.0 1271.3,686.0 1271.8,686.0 1272.3,686.0 1272.8,686.0 1273.3,686.0 1273.8,686.0 1274.3,686.0 1274.8,686.0 1275.3,686.0 1275.8,686.0 1276.3,686.0 1276.8,686.0 1277.3,686.0 1277.8,686.0 1278.3,686.0 1278.8,686.0 1279.3,686.0 1279.8,686.0 1280.3,686.0 1280.8,686.0 1281.3,686.0 1281.8,686.0 1282.3,686.0 1282.8,686.0 1283.3,686.0 1283.8,686.0 1284.3,686.0 1284.8,686.0 1285.3,686.0 1285.8,686.0 1286.3,686.0 1286.8,686.0 1287.3,686.0 1287.8,686.0 1288.3,686.0 1288.8,686.0 1289.3,686.0 1289.8,686.0 1290.3,686.0 1290.8,686.0 1291.3,686.0 1291.8,686.0 1292.3,686.0 1292.8,686.0 1293.3,686.0 1293.8,686.0 1294.3,686.0 1294.8,686.0 1295.3,686.0 1295.8,686.0 1296.3,686.0 1296.8,686.0 1297.3,686.0 1297.8,686.0 1298.3,686.0 1298.8,686.0 1299.3,686.0 1299.8,686.0 1300.3,686.0 1300.8,686.0 1301.3,686.0 1301.8,686.0 1302.3,686.0 1302.8,686.0 1303.3,686.0 1303.8,686.0 1304.3,686.0 1304.8,686.0 1305.3,686.0 1305.8,686.0 1306.3,686.0 1306.8,686.0 1307.3,686.0 1307.8,686.0 1308.3,686.0 1308.8,686.0 1309.3,686.0 1309.8,686.0 1310.3,686.0 1310.8,686.0 1311.3,686.0 1311.8,686.0 1312.3,686.0 1312.8,686.0 1313.3,686.0 1313.8,686.0 1314.3,686.0 1314.8,686.0 1315.3,686.0 1315.8,686.0 1316.3,686.0 1316.8,686.0 1317.3,686.0 1317.8,686.0 1318.3,686.0 1318.8,686.0 1319.3,686.0 1319.8,686.0 1320.3,686.0 1320.8,686.0 1321.3,686.0 1321.8,686.0 1322.3,686.0 1322.8,686.0 1323.3,686.0 1323.8,686.0 1324.3,686.0 1324.8,686.0 1325.3,686.0 1325.8,686.0 1326.3,686.0 1326.8,686.0 1327.3,686.0 1327.8,686.0 1328.3,686.0 1328.8,686.0 1329.3,686.0 1329.8,686.0 1330.3,686.0 1330.8,686.0 1331.3,686.0 1331.8,686.0 1332.3,686.0 1332.8,686.0 1333.3,686.0 1333.8,686.0 1334.3,686.0 1334.8,686.0 1335.3,686.0 1335.8,686.0 1336.3,686.0 1336.8,686.0 1337.3,686.0 1337.8,686.0 1338.3,686.0 1338.8,686.0 1339.3,686.0 1339.8,686.0 1340.3,686.0 1340.8,686.0 1341.3,686.0 1341.8,686.0 1342.3,686.0 1342.8,686.0 1343.3,686.0 1343.8,686.0 1344.3,686.0 1344.8,686.0 1345.3,686.0 1345.8,686.0 1346.3,686.0 1346.8,686.0 1347.3,686.0 1347.8,686.0 1348.3,686.0 1348.8,686.0 1349.3,686.0 1349.8,686.0 1350.3,686.0 1350.8,686.0 1351.3,686.0 1351.8,686.0 1352.3,686.0 1352.8,686.0 1353.3,686.0 1353.8,686.0 1354.3,686.0 1354.8,686.0 1355.3,686.0 1355.8,686.0 1356.3,686.0 1356.8,686.0 1357.3,686.0 1357.8,686.0 1358.3,686.0 1358.8,686.0 1359.3,686.0 1359.8,686.0 1360.3,686.0 1360.8,686.0 1361.3,686.0 1361.8,686.0 1362.3,686.0 1362.8,686.0 1363.3,686.0 1363.8,686.0 1364.3,686.0 1364.8,686.0 1365.3,686.0 1365.8,686.0 1366.3,686.0 1366.8,686.0 1367.3,686.0 1367.8,686.0 1368.3,686.0 1368.8,686.0 1369.3,686.0 1369.8,686.0 1370.3,686.0 1370.8,686.0 1371.3,686.0 1371.8,686.0 1372.3,686.0 1372.8,686.0 1373.3,686.0 1373.8,686.0 1374.3,686.0 1374.8,686.0 1375.3,686.0 1375.8,686.0 1376.3,686.0 1376.8,686.0 1377.3,686.0 1377.8,686.0 1378.3,686.0 1378.8,686.0 1379.3,686.0 1379.8,686.0 1380.3,686.0 1380.8,686.0 1381.3,686.0 1381.8,686.0 1382.3,686.0 1382.8,686.0 1383.3,686.0 1383.8,686.0 1384.3,686.0 1384.8,686.0 1385.3,686.0 1385.8,686.0 1386.3,686.0 1386.8,686.0 1387.3,686.0 1387.8,686.0 1388.3,686.0 1388.8,686.0 1389.3,686.0 1389.8,686.0 1390.3,686.0 1390.8,686.0 1391.3,686.0 1391.8,686.0 1392.3,686.0 1392.8,686.0 1393.3,686.0 1393.8,686.0 1394.3,686.0 1394.8,686.0 1395.3,686.0 1395.8,686.0 1396.3,686.0 1396.8,686.0 1397.3,686.0 1397.8,686.0 1398.3,686.0 1398.8,686.0 1399.3,686.0 1399.8,686.0 1400.3,686.0 1400.8,686.0 1401.3,686.0 1401.8,686.0 1402.3,686.0 1402.8,686.0 1403.3,686.0 1403.8,686.0 1404.3,686.0 1404.8,686.0 1405.3,686.0 1405.8,686.0 1406.3,686.0 1406.8,686.0 1407.3,686.0 1407.8,686.0 1408.3,686.0 1408.8,686.0 1409.3,686.0 1409.8,686.0 1410.3,686.0 1410.8,686.0 1411.3,686.0 1411.8,686.0 1412.3,686.0 1412.8,686.0 1413.3,686.0 1413.8,686.0 1414.3,686.0 1414.8,686.0 1415.3,686.0 1415.8,686.0 1416.3,686.0 1416.8,686.0 1417.3,686.0 1417.8,686.0 1418.3,686.0 1418.8,686.0 1419.3,686.0 1419.8,686.0 1420.3,686.0 1420.8,686.0 1421.3,686.0 1421.8,686.0 1422.3,686.0 1422.8,686.0 1423.3,686.0 1423.8,686.0 1424.3,686.0 1424.8,686.0 1425.3,686.0 1425.8,686.0 1426.3,686.0 1426.8,686.0 1427.3,686.0 1427.8,686.0 1428.3,686.0 1428.8,686.0 1429.3,686.0 1429.8,686.0 1430.3,686.0 1430.8,686.0 1431.3,686.0 1431.8,686.0 1432.3,686.0 1432.8,686.0 1433.3,686.0 1433.8,686.0 1434.3,686.0 1434.8,686.0 1435.3,686.0 1435.8,686.0 1436.3,686.0 1436.8,686.0 1437.3,686.0 1437.8,686.0 1438.3,686.0 1438.8,686.0 1439.3,686.0 1439.8,686.0 1440.3,686.0 1440.8,686.0 1441.3,686.0 1441.8,686.0 1442.3,686.0 1442.8,686.0 1443.3,686.0 1443.8,686.0 1444.3,686.0 1444.8,686.0 1445.3,686.0 1445.8,686.0 1446.3,686.0 1446.8,686.0 1447.3,686.0 1447.8,686.0 1448.3,686.0 1448.8,686.0 1449.3,686.0 1449.8,686.0 1450.3,686.0 1450.8,686.0 1451.3,686.0 1451.8,686.0 1452.3,686.0 1452.8,686.0 1453.3,686.0 1453.8,686.0 1454.3,686.0 1454.8,686.0 1455.3,686.0 1455.8,686.0 1456.3,686.0 1456.8,686.0 1457.3,686.0 1457.8,686.0 1458.3,686.0 1458.8,686.0 1459.3,686.0 1459.8,686.0 1460.3,686.0 1460.8,686.0 1461.3,686.0 1461.8,686.0 1462.3,686.0 1462.8,686.0 1463.3,686.0 1463.8,686.0 1464.3,686.0 1464.8,686.0 1465.3,686.0 1465.8,686.0 1466.3,686.0 1466.8,686.0 1467.3,686.0 1467.8,686.0 1468.3,686.0 1468.8,686.0 1469.3,686.0 1469.8,686.0 1470.3,686.0 1470.8,686.0 1471.3,686.0 1471.8,686.0 1472.3,686.0 1472.8,686.0 1473.3,686.0 1473.8,686.0 1474.3,686.0 1474.8,686.0 1475.3,686.0 1475.8,686.0 1476.3,686.0 1476.8,686.0 1477.3,686.0 1477.8,686.0 1478.3,686.0 1478.8,686.0 1479.3,686.0 1479.8,686.0 1480.3,686.0 1480.8,686.0 1481.3,686.0 1481.8,686.0 1482.3,686.0 1482.8,686.0 1483.3,686.0 1483.8,686.0 1484.3,686.0 1484.8,686.0 1485.3,686.0 1485.8,686.0 1486.3,686.0 1486.8,686.0 1487.3,686.0 1487.8,686.0 1488.3,686.0 1488.8,686.0 1489.3,686.0 1489.8,686.0 1490.3,686.0 1490.8,686.0 1491.3,686.0 1491.8,686.0 1492.3,686.0 1492.8,686.0 1493.3,686.0 1493.8,686.0 1494.3,686.0 1494.8,686.0 1495.3,686.0 1495.8,686.0 1496.3,686.0 1496.8,686.0 1497.3,686.0 1497.8,686.0 1498.3,686.0 1498.8,686.0 1499.3,686.0 1499.8,686.0 1500.3,686.0 1500.8,686.0 1501.3,686.0 1501.8,686.0 1502.3,686.0 1502.8,686.0 1503.3,686.0 1503.8,686.0 1504.3,686.0 1504.8,686.0 1505.3,686.0 1505.8,686.0 1506.3,686.0 1506.8,686.0 1507.3,686.0 1507.8,686.0 1508.3,686.0 1508.8,686.0 1509.3,686.0 1509.8,686.0 1510.3,686.0 1510.8,686.0 1511.3,686.0 1511.8,686.0 1512.3,686.0 1512.8,686.0 1513.3,686.0 1513.8,686.0 1514.3,686.0 1514.8,686.0 1515.3,686.0 1515.8,686.0 1516.3,686.0 1516.8,686.0 1517.3,686.0 1517.8,686.0 1518.3,686.0 1518.8,686.0 1519.3,686.0 1519.8,686.0 1520.3,686.0 1520.8,686.0 1521.3,686.0 1521.8,686.0 1522.3,686.0 1522.8,686.0 1523.3,686.0 1523.8,686.0 1524.3,686.0 1524.8,686.0 1525.3,686.0 1525.8,686.0 1526.3,686.0 1526.8,686.0 1527.3,686.0 1527.8,686.0 1528.3,686.0 1528.8,686.0 1529.3,686.0 1529.8,686.0 1530.3,686.0 1530.8,686.0 1531.3,686.0 1531.8,686.0 1532.3,686.0 1532.8,686.0 1533.3,686.0 1533.8,686.0 1534.3,686.0 1534.8,686.0 1535.3,686.0 1535.8,686.0 1536.3,686.0 1536.8,686.0 1537.3,686.0 1537.8,686.0 1538.3,686.0 1538.8,686.0 1539.3,686.0 1539.8,686.0 1540.3,686.0 1540.8,686.0 1541.3,686.0 1541.8,686.0 1542.3,686.0 1542.8,686.0 1543.3,686.0 1543.8,686.0 1544.3,686.0 1544.8,686.0 1545.3,686.0 1545.8,686.0 1546.3,686.0 1546.8,686.0 1547.3,686.0 1547.8,686.0 1548.3,686.0 1548.8,686.0 1549.3,686.0 1549.8,686.0 1550.3,686.0 1550.8,686.0 1551.3,686.0 1551.8,686.0 1552.3,686.0 1552.8,686.0 1553.3,686.0 1553.8,686.0 1554.3,686.0 1554.8,686.0 1555.3,686.0 1555.8,686.0 1556.3,686.0 1556.8,686.0 1557.3,686.0 1557.8,686.0 1558.3,686.0 1558.8,686.0 1559.3,686.0 1559.8,686.0 1560.3,686.0 1560.8,686.0 1561.3,686.0 1561.8,686.0 1562.3,686.0 1562.8,686.0 1563.3,686.0 1563.8,686.0 1564.3,686.0 1564.8,686.0 1565.3,686.0 1565.8,686.0 1566.3,686.0 1566.8,686.0 1567.3,686.0 1567.8,686.0 1568.3,686.0 1568.8,686.0 1569.3,686.0 1569.8,686.0 1570.3,686.0 1570.8,686.0 1571.3,686.0 1571.8,686.0 1572.3,686.0 1572.8,686.0 1573.3,686.0 1573.8,686.0 1574.3,686.0 1574.8,686.0 1575.3,686.0 1575.8,686.0 1576.3,686.0 1576.8,686.0 1577.3,686.0 1577.8,686.0 1578.3,686.0 1578.8,686.0 1579.3,686.0 1579.8,686.0 1580.3,686.0 1580.8,686.0 1581.3,686.0 1581.8,686.0 1582.3,686.0 1582.8,686.0 1583.3,686.0 1583.8,686.0 1584.3,686.0 1584.8,686.0 1585.3,686.0 1585.8,686.0 1586.3,686.0 1586.8,686.0 1587.3,686.0 1587.8,686.0 1588.3,686.0 1588.8,686.0 1589.3,686.0 1589.8,686.0 1590.3,686.0 1590.8,686.0 1591.3,686.0 1591.8,686.0 1592.3,686.0 1592.8,686.0 1593.3,686.0 1593.8,686.0 1594.3,686.0 1594.8,686.0 1595.3,686.0 1595.8,686.0 1596.3,686.0 1596.8,686.0 1597.3,686.0 1597.8,686.0 1598.3,686.0 1598.8,686.0 1599.3,686.0 1599.8,686.0 1600.3,686.0 1600.8,686.0 1601.3,686.0 1601.8,686.0 1602.3,686.0 1602.8,686.0 1603.3,686.0 1603.8,686.0 1604.3,686.0 1604.8,686.0 1605.3,686.0 1605.8,686.0 1606.3,686.0 1606.8,686.0 1607.3,686.0 1607.8,686.0 1608.3,686.0 1608.8,686.0 1609.3,686.0 1609.8,686.0 1610.3,686.0 1610.8,686.0 1611.3,686.0 1611.8,686.0 1612.3,686.0 1612.8,686.0 1613.3,686.0 1613.8,686.0 1614.3,686.0 1614.8,686.0 1615.3,686.0 1615.8,686.0 1616.3,686.0 1616.8,686.0 1617.3,686.0 1617.8,686.0 1618.3,686.0 1618.8,686.0 1619.3,686.0 1619.8,686.0 1620.3,686.0 1620.8,686.0 1621.3,686.0 1621.8,686.0 1622.3,686.0 1622.8,686.0 1623.3,686.0 1623.8,686.0 1624.3,686.0 1624.8,686.0 1625.3,686.0 1625.8,686.0 1626.3,686.0 1626.8,686.0 1627.3,686.0 1627.8,686.0 1628.3,686.0 1628.8,686.0 1629.3,686.0 1629.8,686.0 1630.3,686.0 1630.8,686.0 1631.3,686.0 1631.8,686.0 1632.3,686.0 1632.8,686.0 1633.3,686.0 1633.8,686.0 1634.3,686.0 1634.8,686.0 1635.3,686.0 1635.8,686.0 1636.3,686.0 1636.8,686.0 1637.3,686.0 1637.8,686.0 1638.3,686.0 1638.8,686.0 1639.3,686.0 1639.8,686.0 1640.3,686.0 1640.8,686.0 1641.3,686.0 1641.8,686.0 1642.3,686.0 1642.8,686.0 1643.3,686.0 1643.8,686.0 1644.3,686.0 1644.8,686.0 1645.3,686.0 1645.8,686.0 1646.3,686.0 1646.8,686.0 1647.3,686.0 1647.8,686.0 1648.3,686.0 1648.8,686.0 1649.3,686.0 1649.8,686.0 1650.3,686.0 1650.8,686.0 1651.3,686.0 1651.8,686.0 1652.3,686.0 1652.8,686.0 1653.3,686.0 1653.8,686.0 1654.3,686.0 1654.8,686.0 1655.3,686.0 1655.8,686.0 1656.3,686.0 1656.8,686.0 1657.3,686.0 1657.8,686.0 1658.3,686.0 1658.8,686.0 1659.3,686.0 1659.8,686.0 1660.3,686.0 1660.8,686.0 1661.3,686.0 1661.8,686.0 1662.3,686.0 1662.8,686.0 1663.3,686.0 1663.8,686.0 1664.3,686.0 1664.8,686.0 1665.3,686.0 1665.8,686.0 1666.3,686.0 1666.8,686.0 1667.3,686.0 1667.8,686.0 1668.3,686.0 1668.8,686.0 1669.3,686.0 1669.8,686.0 1670.3,686.0 1670.8,686.0 1671.3,686.0 1671.8,686.0 1672.3,686.0 1672.8,686.0 1673.3,686.0 1673.8,686.0 1674.3,686.0 1674.8,686.0 1675.3,686.0 1675.8,686.0 1676.3,686.0 1676.8,686.0 1677.3,686.0 1677.8,686.0 1678.3,686.0 1678.8,686.0 1679.3,686.0 1679.8,686.0 1680.3,686.0 1680.8,686.0 1681.3,686.0 1681.8,686.0 1682.3,686.0 1682.8,686.0 1683.3,686.0 1683.8,686.0 1684.3,686.0 1684.8,686.0 1685.3,686.0 1685.8,686.0 1686.3,686.0 1686.8,686.0 1687.3,686.0 1687.8,686.0 1688.3,686.0 1688.8,686.0 1689.3,686.0 1689.8,686.0 1690.3,686.0 1690.8,686.0 1691.3,686.0 1691.8,686.0 1692.3,686.0 1692.8,686.0 1693.3,686.0 1693.8,686.0 1694.3,686.0 1694.8,686.0 1695.3,686.0 1695.8,686.0 1696.3,686.0 1696.8,686.0 1697.3,686.0 1697.8,686.0 1698.3,686.0 1698.8,686.0 1699.3,686.0 1699.8,686.0 1700.3,686.0 1700.8,686.0 1701.3,686.0 1701.8,686.0 1702.3,686.0 1702.8,686.0 1703.3,686.0 1703.8,686.0 1704.3,686.0 1704.8,686.0 1705.3,686.0 1705.8,686.0 1706.3,686.0 1706.8,686.0 1707.3,686.0 1707.8,686.0 1708.3,686.0 1708.8,686.0 1709.3,686.0 1709.8,686.0 1710.3,686.0 1710.8,686.0 1711.3,686.0 1711.8,686.0 1712.3,686.0 1712.8,686.0 1713.3,686.0 1713.8,686.0 1714.3,686.0 1714.8,686.0 1715.3,686.0 1715.8,686.0 1716.3,686.0 1716.8,686.0 1717.3,686.0 1717.8,686.0 1718.3,686.0 1718.8,686.0 1719.3,686.0 1719.8,686.0 1720.3,686.0 1720.8,686.0 1721.3,686.0 1721.8,686.0 1722.3,686.0 1722.8,686.0 1723.3,686.0 1723.8,686.0 1724.3,686.0 1724.8,686.0 1725.3,686.0 1725.8,686.0 1726.3,686.0 1726.8,686.0 1727.3,686.0 1727.8,686.0 1728.3,686.0 1728.8,686.0 1729.3,686.0 1729.8,686.0 1730.3,686.0 1730.8,686.0 1731.3,686.0 1731.8,686.0 1732.3,686.0 1732.8,686.0 1733.3,686.0 1733.8,686.0 1734.3,686.0 1734.8,686.0 1735.3,686.0 1735.8,686.0 1736.3,686.0 1736.8,686.0 1737.3,686.0 1737.8,686.0 1738.3,686.0 1738.8,686.0 1739.3,686.0 1739.8,686.0 1740.3,686.0 1740.8,686.0 1741.3,686.0 1741.8,686.0 1742.3,686.0 1742.8,686.0 1743.3,686.0 1743.8,686.0 1744.3,686.0 1744.8,686.0 1745.3,686.0 1745.8,686.0 1746.3,686.0 1746.8,686.0 1747.3,686.0 1747.8,686.0 1748.3,686.0 1748.8,686.0 1749.3,686.0 1749.8,686.0 1750.3,686.0 1750.8,686.0 1751.3,686.0 1751.8,686.0 1752.3,686.0 1752.8,686.0 1753.3,686.0 1753.8,686.0 1754.3,686.0 1754.8,686.0 1755.3,686.0 1755.8,686.0 1756.3,686.0 1756.8,686.0 1757.3,686.0 1757.8,686.0 1758.3,686.0 1758.8,686.0 1759.3,686.0 1759.8,686.0 1760.3,686.0 1760.8,686.0 1761.3,686.0 1761.8,686.0 1762.3,686.0 1762.8,686.0 1763.3,686.0 1763.8,686.0 1764.3,686.0 1764.8,686.0 1765.3,686.0 1765.8,686.0 1766.3,686.0 1766.8,686.0 1767.3,686.0 1767.8,686.0 1768.3,686.0 1768.8,686.0 1769.3,686.0 1769.8,686.0 1770.3,686.0 1770.8,686.0 1771.3,686.0 1771.8,686.0 1772.3,686.0 1772.8,686.0 1773.3,686.0 1773.8,686.0 1774.3,686.0 1774.8,686.0 1775.3,686.0 1775.8,686.0 1776.3,686.0 1776.8,686.0 1777.3,686.0 1777.8,686.0 1778.3,686.0 1778.8,686.0 1779.3,686.0 1779.8,686.0 1780.3,686.0 1780.8,686.0 1781.3,686.0 1781.8,686.0 1782.3,686.0 1782.8,686.0 1783.3,686.0 1783.8,686.0 1784.3,686.0 1784.8,686.0 1785.3,686.0 1785.8,686.0 1786.3,686.0 1786.8,686.0 1787.3,686.0 1787.8,686.0 1788.3,686.0 1788.8,686.0 1789.3,686.0 1789.8,686.0 1790.3,686.0 1790.8,686.0 1791.3,686.0 1791.8,686.0 1792.3,686.0 1792.8,686.0 1793.3,686.0 1793.8,686.0 1794.3,686.0 1794.8,686.0 1795.3,686.0 1795.8,686.0 1796.3,686.0 1796.8,686.0 1797.3,686.0 1797.8,686.0 1798.3,686.0 1798.8,686.0 1799.3,686.0 1799.8,686.0 1800.3,686.0 1800.8,686.0 1801.3,686.0 1801.8,686.0 1802.3,686.0 1802.8,686.0 1803.3,686.0 1803.8,686.0 1804.3,686.0 1804.8,686.0 1805.3,686.0 1805.8,686.0 1806.3,686.0 1806.8,686.0 1807.3,686.0 1807.8,686.0 1808.3,686.0 1808.8,686.0 1809.3,686.0 1809.8,686.0 1810.3,686.0 1810.8,686.0 1811.3,686.0 1811.8,686.0 1812.3,686.0 1812.8,686.0 1813.3,686.0 1813.8,686.0 1814.3,686.0 1814.8,686.0 1815.3,686.0 1815.8,686.0 1816.3,686.0 1816.8,686.0 1817.3,686.0 1817.8,686.0 1818.3,686.0 1818.8,686.0 1819.3,686.0 1819.8,686.0 1820.3,686.0 1820.8,686.0 1821.3,686.0 1821.8,686.0 1822.3,686.0 1822.8,686.0 1823.3,686.0 1823.8,686.0 1824.3,686.0 1824.8,686.0 1825.3,686.0 1825.8,686.0 1826.3,686.0 1826.8,686.0 1827.3,686.0 1827.8,686.0 1828.3,686.0 1828.8,686.0 1829.3,686.0 1829.8,686.0 1830.3,686.0 1830.8,686.0 1831.3,686.0 1831.8,686.0 1832.3,686.0 1832.8,686.0 1833.3,686.0 1833.8,686.0 1834.3,686.0 1834.8,686.0 1835.3,686.0 1835.8,686.0 1836.3,686.0 1836.8,686.0 1837.3,686.0 1837.8,686.0 1838.3,686.0 1838.8,686.0 1839.3,686.0 1839.8,686.0 1840.3,686.0 1840.8,686.0 1841.3,686.0 1841.8,686.0 1842.3,686.0 1842.8,686.0 1843.3,686.0 1843.8,686.0 1844.3,686.0 1844.8,686.0 1845.3,686.0 1845.8,686.0 1846.3,686.0 1846.8,686.0 1847.3,686.0 1847.8,686.0 1848.3,686.0 1848.8,686.0 1849.3,686.0 1849.8,686.0 1850.3,686.0 1850.8,686.0 1851.3,686.0 1851.8,686.0 1852.3,686.0 1852.8,686.0 1853.3,686.0 1853.8,686.0 1854.3,686.0 1854.8,686.0 1855.3,686.0 1855.8,686.0 1856.3,686.0 1856.8,686.0 1857.3,686.0 1857.8,686.0 1858.3,686.0 1858.8,686.0 1859.3,686.0 1859.8,686.0 1860.3,686.0 1860.8,686.0 1861.3,686.0 1861.8,686.0 1862.3,686.0 1862.8,686.0 1863.3,686.0 1863.8,686.0 1864.3,686.0 1864.8,686.0 1865.3,686.0 1865.8,686.0 1866.3,686.0 1866.8,686.0 1867.3,686.0 1867.8,686.0 1868.3,686.0 1868.8,686.0 1869.3,686.0 1869.8,686.0 1870.3,686.0 1870.8,686.0 1871.3,686.0 1871.8,686.0 1872.3,686.0 1872.8,686.0 1873.3,686.0 1873.8,686.0 1874.3,686.0 1874.8,686.0 1875.3,686.0 1875.8,686.0 1876.3,686.0 1876.8,686.0 1877.3,686.0 1877.8,686.0 1878.3,686.0 1878.8,686.0 1879.3,686.0 1879.8,686.0 1880.3,686.0 1880.8,686.0 1881.3,686.0 1881.8,686.0 1882.3,686.0 1882.8,686.0 1883.3,686.0 1883.8,686.0 1884.3,686.0 1884.8,686.0 1885.3,686.0 1885.8,686.0 1886.3,686.0 1886.8,686.0 1887.3,686.0 1887.8,686.0 1888.3,686.0 1888.8,686.0 1889.3,686.0 1889.8,686.0 1890.3,686.0 1890.8,686.0 1891.3,686.0 1891.8,686.0 1892.3,686.0 1892.8,686.0 1893.3,686.0 1893.8,686.0 1894.3,686.0 1894.8,686.0 1895.3,686.0 1895.8,686.0 1896.3,686.0 1896.8,686.0 1897.3,686.0 1897.8,686.0 1898.3,686.0 1898.8,686.0 1899.3,686.0 1899.8,686.0 1900.3,686.0 1900.8,686.0 1901.3,686.0 1901.8,686.0 1902.3,686.0 1902.8,686.0 1903.3,686.0 1903.8,686.0 1904.3,686.0 1904.8,686.0 1905.3,686.0 1905.8,686.0 1906.3,686.0 1906.8,686.0 1907.3,686.0 1907.8,686.0 1908.3,686.0 1908.8,686.0 1909.3,686.0 1909.8,686.0 1910.3,686.0 1910.8,686.0 1911.3,686.0 1911.8,686.0 1912.3,686.0 1912.8,686.0 1913.3,686.0 1913.8,686.0 1914.3,686.0 1914.8,686.0 1915.3,686.0 1915.8,686.0 1916.3,686.0 1916.8,686.0 1917.3,686.0 1917.8,686.0 1918.3,686.0 1918.8,686.0 1919.3,686.0 1919.8,686.0 1920.3,686.0 1920.8,686.0 1921.3,686.0 1921.8,686.0 1922.3,686.0 1922.8,686.0 1923.3,686.0 1923.8,686.0 1924.3,686.0 1924.8,686.0 1925.3,686.0 1925.8,686.0 1926.3,686.0 1926.8,686.0 1927.3,686.0 1927.8,686.0 1928.3,686.0 1928.8,686.0 1929.3,686.0 1929.8,686.0 1930.3,686.0 1930.8,686.0 1931.3,686.0 1931.8,686.0 1932.3,686.0 1932.8,686.0 1933.3,686.0 1933.8,686.0 1934.3,686.0 1934.8,686.0 1935.3,686.0 1935.8,686.0 1936.3,686.0 1936.8,686.0 1937.3,686.0 1937.8,686.0 1938.3,686.0 1938.8,686.0 1939.3,686.0 1939.8,686.0 1940.3,686.0 1940.8,686.0 1941.3,686.0 1941.8,686.0 1942.3,686.0 1942.8,686.0 1943.3,686.0 1943.8,686.0 1944.3,686.0 1944.8,686.0 1945.3,686.0 1945.8,686.0 1946.3,686.0 1946.8,686.0 1947.3,686.0 1947.8,686.0 1948.3,686.0 1948.8,686.0 1949.3,686.0 1949.8,686.0 1950.3,686.0 1950.8,686.0 1951.3,686.0 1951.8,686.0 1952.3,686.0 1952.8,686.0 1953.3,686.0 1953.8,686.0 1954.3,686.0 1954.8,686.0 1955.3,686.0 1955.8,686.0 1956.3,686.0 1956.8,686.0 1957.3,686.0 1957.8,686.0 1958.3,686.0 1958.8,686.0 1959.3,686.0 1959.8,686.0 1960.3,686.0 1960.8,686.0 1961.3,686.0 1961.8,686.0 1962.3,686.0 1962.8,686.0 1963.3,686.0 1963.8,686.0 1964.3,686.0 1964.8,686.0 1965.3,686.0 1965.8,686.0 1966.3,686.0 1966.8,686.0 1967.3,686.0 1967.8,686.0 1968.3,686.0 1968.8,686.0 1969.3,686.0 1969.8,686.0 1970.3,686.0 1970.8,686.0 1971.3,686.0 1971.8,686.0 1972.3,686.0 1972.8,686.0 1973.3,686.0 1973.8,686.0 1974.3,686.0 1974.8,686.0 1975.3,686.0 1975.8,686.0 1976.3,686.0 1976.8,686.0 1977.3,686.0 1977.8,686.0 1978.3,686.0 1978.8,686.0 1979.3,686.0 1979.8,686.0 1980.3,686.0 1980.8,686.0 1981.3,686.0 1981.8,686.0 1982.3,686.0 1982.8,686.0 1983.3,686.0 1983.8,686.0 1984.3,686.0 1984.8,686.0 1985.3,686.0 1985.8,686.0 1986.3,686.0 1986.8,686.0 1987.3,686.0 1987.8,686.0 1988.3,686.0 1988.8,686.0 1989.3,686.0 1989.8,686.0 1990.3,686.0 1990.8,686.0 1991.3,686.0 1991.8,686.0 1992.3,686.0 1992.8,686.0 1993.3,686.0 1993.8,686.0 1994.3,686.0 1994.8,686.0 1995.3,686.0 1995.8,686.0 1996.3,686.0 1996.8,686.0 1997.3,686.0 1997.8,686.0 1998.3,686.0 1998.8,686.0 1999.3,686.0 1999.8,686.0 2000.3,686.0 2000.8,686.0 2001.3,686.0 2001.8,686.0 2002.3,686.0 2002.8,686.0 2003.3,686.0 2003.8,686.0 2004.3,686.0 2004.8,686.0 2005.3,686.0 2005.8,686.0 2006.3,686.0 2006.8,686.0 2007.3,686.0 2007.8,686.0 2008.3,686.0 2008.8,686.0 2009.3,686.0 2009.8,686.0 2010.3,686.0 2010.8,686.0 2011.3,686.0 2011.8,686.0 2012.3,686.0 2012.8,686.0 2013.3,686.0 2013.8,686.0 2014.3,686.0 2014.8,686.0 2015.3,686.0 2015.8,686.0 2016.3,686.0 2016.8,686.0 2017.3,686.0 2017.8,686.0 2018.3,686.0 2018.8,686.0 2019.3,686.0 2019.8,686.0 2020.3,686.0 2020.8,686.0 2021.3,686.0 2021.8,686.0 2022.3,686.0 2022.8,686.0 2023.3,686.0 2023.8,686.0 2024.3,686.0 2024.8,686.0 2025.3,686.0 2025.8,686.0 2026.3,686.0 2026.8,686.0 2027.3,686.0 2027.8,686.0 2028.3,686.0 2028.8,686.0 2029.3,686.0 2029.8,686.0 2030.3,686.0 2030.8,686.0 2031.3,686.0 2031.8,686.0 2032.3,686.0 2032.8,686.0 2033.3,686.0 2033.8,686.0 2034.3,686.0 2034.8,686.0 2035.3,686.0 2035.8,686.0 2036.3,686.0 2036.8,686.0 2037.3,686.0 2037.8,686.0 2038.3,686.0 2038.8,686.0 2039.3,686.0 2039.8,686.0 2040.3,686.0 2040.8,686.0 2041.3,686.0 2041.8,686.0 2042.3,686.0 2042.8,686.0 2043.3,686.0 2043.8,686.0 2044.3,686.0 2044.8,686.0 2045.3,686.0 2045.8,686.0 2046.3,686.0 2046.8,686.0 2047.3,686.0 2047.8,686.0 2048.3,686.0 2048.8,686.0 2049.3,686.0 2049.8,686.0 2050.3,686.0 2050.8,686.0 2051.3,686.0 2051.8,686.0 2052.3,686.0 2052.8,686.0 2053.3,686.0 2053.8,686.0 2054.3,686.0 2054.8,686.0 2055.3,686.0 2055.8,686.0 2056.3,686.0 2056.8,686.0 2057.3,686.0 2057.8,686.0 2058.3,686.0 2058.8,686.0 2059.3,686.0 2059.8,686.0 2060.3,686.0 2060.8,686.0 2061.3,686.0 2061.8,686.0 2062.3,686.0 2062.8,686.0 2063.3,686.0 2063.8,686.0 2064.3,686.0 2064.8,686.0 2065.3,686.0 2065.8,686.0 2066.3,686.0 2066.8,686.0 2067.3,686.0 2067.8,686.0 2068.3,686.0 2068.8,686.0 2069.3,686.0 2069.8,686.0 2070.3,686.0 2070.8,686.0 2071.3,686.0 2071.8,686.0 2072.3,686.0 2072.8,686.0 2073.3,686.0" fill="none" stroke="#505050" stroke-width="2.8" stroke-linejoin="round" clip-path="url(#clip50)"/>
<polyline points="2073.4,686.0 2090.0,686.5 2108.0,688.5" fill="none" stroke="#4a4a4a" stroke-width="2.2" stroke-linejoin="round"/>
<line x1="202.80" y1="48.50" x2="202.80" y2="708.00" stroke="#151515" stroke-width="3.8"/>
<line x1="202.80" y1="707.00" x2="2074.90" y2="707.00" stroke="#3c3c3c" stroke-width="4.5"/>
<line x1="185.80" y1="686.00" x2="202.80" y2="686.00" stroke="#303030" stroke-width="2.6"/>
<line x1="192.80" y1="664.80" x2="202.80" y2="664.80" stroke="#303030" stroke-width="2.6"/>
<line x1="192.80" y1="643.60" x2="202.80" y2="643.60" stroke="#303030" stroke-width="2.6"/>
<line x1="192.80" y1="622.40" x2="202.80" y2="622.40" stroke="#303030" stroke-width="2.6"/>
<line x1="192.80" y1="601.20" x2="202.80" y2="601.20" stroke="#303030" stroke-width="2.6"/>
<line x1="185.80" y1="580.00" x2="202.80" y2="580.00" stroke="#303030" stroke-width="2.6"/>
<line x1="192.80" y1="558.80" x2="202.80" y2="558.80" stroke="#303030" stroke-width="2.6"/>
<line x1="192.80" y1="537.60" x2="202.80" y2="537.60" stroke="#303030" stroke-width="2.6"/>
<line x1="192.80" y1="516.40" x2="202.80" y2="516.40" stroke="#303030" stroke-width="2.6"/>
<line x1="192.80" y1="495.20" x2="202.80" y2="495.20" stroke="#303030" stroke-width="2.6"/>
<line x1="185.80" y1="474.00" x2="202.80" y2="474.00" stroke="#303030" stroke-width="2.6"/>
<line x1="192.80" y1="452.80" x2="202.80" y2="452.80" stroke="#303030" stroke-width="2.6"/>
<line x1="192.80" y1="431.60" x2="202.80" y2="431.60" stroke="#303030" stroke-width="2.6"/>
<line x1="192.80" y1="410.40" x2="202.80" y2="410.40" stroke="#303030" stroke-width="2.6"/>
<line x1="192.80" y1="389.20" x2="202.80" y2="389.20" stroke="#303030" stroke-width="2.6"/>
<line x1="185.80" y1="368.00" x2="202.80" y2="368.00" stroke="#303030" stroke-width="2.6"/>
<line x1="192.80" y1="346.80" x2="202.80" y2="346.80" stroke="#303030" stroke-width="2.6"/>
<line x1="192.80" y1="325.60" x2="202.80" y2="325.60" stroke="#303030" stroke-width="2.6"/>
<line x1="192.80" y1="304.40" x2="202.80" y2="304.40" stroke="#303030" stroke-width="2.6"/>
<line x1="192.80" y1="283.20" x2="202.80" y2="283.20" stroke="#303030" stroke-width="2.6"/>
<line x1="185.80" y1="262.00" x2="202.80" y2="262.00" stroke="#303030" stroke-width="2.6"/>
<line x1="192.80" y1="240.80" x2="202.80" y2="240.80" stroke="#303030" stroke-width="2.6"/>
<line x1="192.80" y1="219.60" x2="202.80" y2="219.60" stroke="#303030" stroke-width="2.6"/>
<line x1="192.80" y1="198.40" x2="202.80" y2="198.40" stroke="#303030" stroke-width="2.6"/>
<line x1="192.80" y1="177.20" x2="202.80" y2="177.20" stroke="#303030" stroke-width="2.6"/>
<line x1="185.80" y1="156.00" x2="202.80" y2="156.00" stroke="#303030" stroke-width="2.6"/>
<line x1="192.80" y1="134.80" x2="202.80" y2="134.80" stroke="#303030" stroke-width="2.6"/>
<line x1="192.80" y1="113.60" x2="202.80" y2="113.60" stroke="#303030" stroke-width="2.6"/>
<line x1="192.80" y1="92.40" x2="202.80" y2="92.40" stroke="#303030" stroke-width="2.6"/>
<line x1="192.80" y1="71.20" x2="202.80" y2="71.20" stroke="#303030" stroke-width="2.6"/>
<line x1="185.80" y1="50.00" x2="202.80" y2="50.00" stroke="#303030" stroke-width="2.6"/>
<line x1="202.80" y1="707.00" x2="202.80" y2="720.00" stroke="#303030" stroke-width="2.6"/>
<line x1="249.56" y1="707.00" x2="249.56" y2="715.00" stroke="#303030" stroke-width="2.6"/>
<line x1="296.33" y1="707.00" x2="296.33" y2="715.00" stroke="#303030" stroke-width="2.6"/>
<line x1="343.10" y1="707.00" x2="343.10" y2="715.00" stroke="#303030" stroke-width="2.6"/>
<line x1="389.86" y1="707.00" x2="389.86" y2="715.00" stroke="#303030" stroke-width="2.6"/>
<line x1="436.62" y1="707.00" x2="436.62" y2="720.00" stroke="#303030" stroke-width="2.6"/>
<line x1="483.39" y1="707.00" x2="483.39" y2="715.00" stroke="#303030" stroke-width="2.6"/>
<line x1="530.15" y1="707.00" x2="530.15" y2="715.00" stroke="#303030" stroke-width="2.6"/>
<line x1="576.92" y1="707.00" x2="576.92" y2="715.00" stroke="#303030" stroke-width="2.6"/>
<line x1="623.68" y1="707.00" x2="623.68" y2="715.00" stroke="#303030" stroke-width="2.6"/>
<line x1="670.45" y1="707.00" x2="670.45" y2="720.00" stroke="#303030" stroke-width="2.6"/>
<line x1="717.21" y1="707.00" x2="717.21" y2="715.00" stroke="#303030" stroke-width="2.6"/>
<line x1="763.98" y1="707.00" x2="763.98" y2="715.00" stroke="#303030" stroke-width="2.6"/>
<line x1="810.75" y1="707.00" x2="810.75" y2="715.00" stroke="#303030" stroke-width="2.6"/>
<line x1="857.51" y1="707.00" x2="857.51" y2="715.00" stroke="#303030" stroke-width="2.6"/>
<line x1="904.28" y1="707.00" x2="904.28" y2="720.00" stroke="#303030" stroke-width="2.6"/>
<line x1="951.04" y1="707.00" x2="951.04" y2="715.00" stroke="#303030" stroke-width="2.6"/>
<line x1="997.81" y1="707.00" x2="997.81" y2="715.00" stroke="#303030" stroke-width="2.6"/>
<line x1="1044.57" y1="707.00" x2="1044.57" y2="715.00" stroke="#303030" stroke-width="2.6"/>
<line x1="1091.34" y1="707.00" x2="1091.34" y2="715.00" stroke="#303030" stroke-width="2.6"/>
<line x1="1138.10" y1="707.00" x2="1138.10" y2="720.00" stroke="#303030" stroke-width="2.6"/>
<line x1="1184.87" y1="707.00" x2="1184.87" y2="715.00" stroke="#303030" stroke-width="2.6"/>
<line x1="1231.63" y1="707.00" x2="1231.63" y2="715.00" stroke="#303030" stroke-width="2.6"/>
<line x1="1278.39" y1="707.00" x2="1278.39" y2="715.00" stroke="#303030" stroke-width="2.6"/>
<line x1="1325.16" y1="707.00" x2="1325.16" y2="715.00" stroke="#303030" stroke-width="2.6"/>
<line x1="1371.92" y1="707.00" x2="1371.92" y2="720.00" stroke="#303030" stroke-width="2.6"/>
<line x1="1418.69" y1="707.00" x2="1418.69" y2="715.00" stroke="#303030" stroke-width="2.6"/>
<line x1="1465.45" y1="707.00" x2="1465.45" y2="715.00" stroke="#303030" stroke-width="2.6"/>
<line x1="1512.22" y1="707.00" x2="1512.22" y2="715.00" stroke="#303030" stroke-width="2.6"/>
<line x1="1558.98" y1="707.00" x2="1558.98" y2="715.00" stroke="#303030" stroke-width="2.6"/>
<line x1="1605.75" y1="707.00" x2="1605.75" y2="720.00" stroke="#303030" stroke-width="2.6"/>
<line x1="1652.51" y1="707.00" x2="1652.51" y2="715.00" stroke="#303030" stroke-width="2.6"/>
<line x1="1699.28" y1="707.00" x2="1699.28" y2="715.00" stroke="#303030" stroke-width="2.6"/>
<line x1="1746.05" y1="707.00" x2="1746.05" y2="715.00" stroke="#303030" stroke-width="2.6"/>
<line x1="1792.81" y1="707.00" x2="1792.81" y2="715.00" stroke="#303030" stroke-width="2.6"/>
<line x1="1839.58" y1="707.00" x2="1839.58" y2="720.00" stroke="#303030" stroke-width="2.6"/>
<line x1="1886.34" y1="707.00" x2="1886.34" y2="715.00" stroke="#303030" stroke-width="2.6"/>
<line x1="1933.11" y1="707.00" x2="1933.11" y2="715.00" stroke="#303030" stroke-width="2.6"/>
<line x1="1979.87" y1="707.00" x2="1979.87" y2="715.00" stroke="#303030" stroke-width="2.6"/>
<line x1="2026.63" y1="707.00" x2="2026.63" y2="715.00" stroke="#303030" stroke-width="2.6"/>
<line x1="2073.40" y1="707.00" x2="2073.40" y2="720.00" stroke="#303030" stroke-width="2.6"/>
<text transform="translate(186.50,59.58) scale(1.0,0.93)" font-family="'Liberation Serif', 'Times New Roman', serif" font-size="32" text-anchor="end" font-weight="normal" font-style="normal" fill="#000" stroke="#000" stroke-width="2.0">300,000</text>
<text transform="translate(186.50,271.58) scale(1.0,0.93)" font-family="'Liberation Serif', 'Times New Roman', serif" font-size="32" text-anchor="end" font-weight="normal" font-style="normal" fill="#000" stroke="#000" stroke-width="2.0">200,000</text>
<text transform="translate(186.50,483.58) scale(1.0,0.93)" font-family="'Liberation Serif', 'Times New Roman', serif" font-size="32" text-anchor="end" font-weight="normal" font-style="normal" fill="#000" stroke="#000" stroke-width="2.0">100,000</text>
<text transform="translate(186.50,695.58) scale(1.0,0.93)" font-family="'Liberation Serif', 'Times New Roman', serif" font-size="32" text-anchor="end" font-weight="normal" font-style="normal" fill="#000" stroke="#000" stroke-width="2.0">0</text>
<text transform="translate(202.80,748.00) scale(1.0,0.93)" font-family="'Liberation Serif', 'Times New Roman', serif" font-size="32" text-anchor="middle" font-weight="normal" font-style="normal" fill="#000" stroke="#000" stroke-width="2.0">0.0</text>
<text transform="translate(436.62,748.00) scale(1.0,0.93)" font-family="'Liberation Serif', 'Times New Roman', serif" font-size="32" text-anchor="middle" font-weight="normal" font-style="normal" fill="#000" stroke="#000" stroke-width="2.0">2.5</text>
<text transform="translate(670.45,748.00) scale(1.0,0.93)" font-family="'Liberation Serif', 'Times New Roman', serif" font-size="32" text-anchor="middle" font-weight="normal" font-style="normal" fill="#000" stroke="#000" stroke-width="2.0">5.0</text>
<text transform="translate(904.28,748.00) scale(1.0,0.93)" font-family="'Liberation Serif', 'Times New Roman', serif" font-size="32" text-anchor="middle" font-weight="normal" font-style="normal" fill="#000" stroke="#000" stroke-width="2.0">7.5</text>
<text transform="translate(1138.10,748.00) scale(1.0,0.93)" font-family="'Liberation Serif', 'Times New Roman', serif" font-size="32" text-anchor="middle" font-weight="normal" font-style="normal" fill="#000" stroke="#000" stroke-width="2.0">10.0</text>
<text transform="translate(1371.92,748.00) scale(1.0,0.93)" font-family="'Liberation Serif', 'Times New Roman', serif" font-size="32" text-anchor="middle" font-weight="normal" font-style="normal" fill="#000" stroke="#000" stroke-width="2.0">12.5</text>
<text transform="translate(1605.75,748.00) scale(1.0,0.93)" font-family="'Liberation Serif', 'Times New Roman', serif" font-size="32" text-anchor="middle" font-weight="normal" font-style="normal" fill="#000" stroke="#000" stroke-width="2.0">15.0</text>
<text transform="translate(1839.58,748.00) scale(1.0,0.93)" font-family="'Liberation Serif', 'Times New Roman', serif" font-size="32" text-anchor="middle" font-weight="normal" font-style="normal" fill="#000" stroke="#000" stroke-width="2.0">17.5</text>
<text transform="translate(2073.40,748.00) scale(1.0,0.93)" font-family="'Liberation Serif', 'Times New Roman', serif" font-size="32" text-anchor="middle" font-weight="normal" font-style="normal" fill="#000" stroke="#000" stroke-width="2.0">20.0</text>
<text transform="translate(2111.00,700.00) scale(1.0,0.93)" font-family="'Liberation Serif', 'Times New Roman', serif" font-size="33" text-anchor="start" font-weight="normal" font-style="normal" fill="#000" stroke="#000" stroke-width="2.0">1PDA Multi</text>
<text transform="translate(487.41,661.00) rotate(-90) scale(0.95,1.0)" font-family="'Liberation Serif', 'Times New Roman', serif" font-size="32" text-anchor="start" font-weight="normal" font-style="normal" fill="#000" stroke="#000" stroke-width="2.0">2.642</text>
<text transform="translate(510.88,671.00) rotate(-90) scale(0.95,1.0)" font-family="'Liberation Serif', 'Times New Roman', serif" font-size="32" text-anchor="start" font-weight="normal" font-style="normal" fill="#000" stroke="#000" stroke-width="2.0">2.893</text>
<text transform="translate(545.86,675.00) rotate(-90) scale(0.95,1.0)" font-family="'Liberation Serif', 'Times New Roman', serif" font-size="32" text-anchor="start" font-weight="normal" font-style="normal" fill="#000" stroke="#000" stroke-width="2.0">3.267</text>
<text transform="translate(575.51,675.00) rotate(-90) scale(0.95,1.0)" font-family="'Liberation Serif', 'Times New Roman', serif" font-size="32" text-anchor="start" font-weight="normal" font-style="normal" fill="#000" stroke="#000" stroke-width="2.0">3.584</text>
<text transform="translate(590.20,675.00) rotate(-90) scale(0.95,1.0)" font-family="'Liberation Serif', 'Times New Roman', serif" font-size="32" text-anchor="start" font-weight="normal" font-style="normal" fill="#000" stroke="#000" stroke-width="2.0">3.741</text>
<text transform="translate(608.15,675.00) rotate(-90) scale(0.95,1.0)" font-family="'Liberation Serif', 'Times New Roman', serif" font-size="32" text-anchor="start" font-weight="normal" font-style="normal" fill="#000" stroke="#000" stroke-width="2.0">3.933</text>
<text transform="translate(620.69,675.00) rotate(-90) scale(0.95,1.0)" font-family="'Liberation Serif', 'Times New Roman', serif" font-size="32" text-anchor="start" font-weight="normal" font-style="normal" fill="#000" stroke="#000" stroke-width="2.0">4.067</text>
<text transform="translate(648.37,675.00) rotate(-90) scale(0.95,1.0)" font-family="'Liberation Serif', 'Times New Roman', serif" font-size="32" text-anchor="start" font-weight="normal" font-style="normal" fill="#000" stroke="#000" stroke-width="2.0">4.363</text>
<text transform="translate(669.70,675.00) rotate(-90) scale(0.95,1.0)" font-family="'Liberation Serif', 'Times New Roman', serif" font-size="32" text-anchor="start" font-weight="normal" font-style="normal" fill="#000" stroke="#000" stroke-width="2.0">4.591</text>
<text transform="translate(693.27,675.00) rotate(-90) scale(0.95,1.0)" font-family="'Liberation Serif', 'Times New Roman', serif" font-size="32" text-anchor="start" font-weight="normal" font-style="normal" fill="#000" stroke="#000" stroke-width="2.0">4.843</text>
<text transform="translate(720.20,665.00) rotate(-90) scale(0.95,1.0)" font-family="'Liberation Serif', 'Times New Roman', serif" font-size="32" text-anchor="start" font-weight="normal" font-style="normal" fill="#000" stroke="#000" stroke-width="2.0">5.131</text>
<text transform="translate(759.02,126.00) rotate(-90) scale(0.95,1.0)" font-family="'Liberation Serif', 'Times New Roman', serif" font-size="32" text-anchor="start" font-weight="normal" font-style="normal" fill="#000" stroke="#000" stroke-width="2.0">5.546</text>
<text transform="translate(860.97,675.00) rotate(-90) scale(0.95,1.0)" font-family="'Liberation Serif', 'Times New Roman', serif" font-size="32" text-anchor="start" font-weight="normal" font-style="normal" fill="#000" stroke="#000" stroke-width="2.0">6.636</text>
<text transform="translate(1126.31,671.00) rotate(-90) scale(0.95,1.0)" font-family="'Liberation Serif', 'Times New Roman', serif" font-size="32" text-anchor="start" font-weight="normal" font-style="normal" fill="#000" stroke="#000" stroke-width="2.0">9.473</text>
<line x1="202.80" y1="803.40" x2="2073.40" y2="803.40" stroke="#7a7a7a" stroke-width="3"/>
<line x1="2073.40" y1="803.40" x2="2073.40" y2="1450.50" stroke="#7a7a7a" stroke-width="3"/>
<clipPath id="clip803"><rect x="202.8" y="803.4" width="1870.6000000000001" height="647.1"/></clipPath>
<polyline points="202.8,1431.0 203.3,1431.0 203.8,1431.0 204.3,1431.0 204.8,1431.0 205.3,1431.0 205.8,1431.0 206.3,1431.0 206.8,1431.0 207.3,1431.0 207.8,1431.0 208.3,1431.0 208.8,1431.0 209.3,1431.0 209.8,1431.0 210.3,1431.0 210.8,1431.0 211.3,1431.0 211.8,1431.0 212.3,1431.0 212.8,1431.0 213.3,1431.0 213.8,1431.0 214.3,1431.0 214.8,1431.0 215.3,1431.0 215.8,1431.0 216.3,1431.0 216.8,1431.0 217.3,1431.0 217.8,1431.0 218.3,1431.0 218.8,1431.0 219.3,1431.0 219.8,1431.0 220.3,1431.0 220.8,1431.0 221.3,1431.0 221.8,1431.0 222.3,1431.0 222.8,1431.0 223.3,1431.0 223.8,1431.0 224.3,1431.0 224.8,1431.0 225.3,1431.0 225.8,1431.0 226.3,1431.0 226.8,1431.0 227.3,1431.0 227.8,1431.0 228.3,1431.0 228.8,1431.0 229.3,1431.0 229.8,1431.0 230.3,1431.0 230.8,1431.0 231.3,1431.0 231.8,1431.0 232.3,1431.0 232.8,1431.0 233.3,1431.0 233.8,1431.0 234.3,1431.0 234.8,1431.0 235.3,1431.0 235.8,1431.0 236.3,1431.0 236.8,1431.0 237.3,1431.0 237.8,1431.0 238.3,1431.0 238.8,1431.0 239.3,1431.0 239.8,1431.0 240.3,1431.0 240.8,1431.0 241.3,1431.0 241.8,1431.0 242.3,1431.0 242.8,1431.0 243.3,1431.0 243.8,1431.0 244.3,1431.0 244.8,1431.0 245.3,1431.0 245.8,1431.0 246.3,1431.0 246.8,1431.0 247.3,1431.0 247.8,1431.0 248.3,1431.0 248.8,1431.0 249.3,1431.0 249.8,1431.0 250.3,1431.0 250.8,1431.0 251.3,1431.0 251.8,1431.0 252.3,1431.0 252.8,1431.0 253.3,1431.0 253.8,1431.0 254.3,1431.0 254.8,1431.0 255.3,1431.0 255.8,1431.0 256.3,1431.0 256.8,1431.0 257.3,1431.0 257.8,1431.0 258.3,1431.0 258.8,1431.0 259.3,1431.0 259.8,1431.0 260.3,1431.0 260.8,1431.0 261.3,1431.0 261.8,1431.0 262.3,1431.0 262.8,1431.0 263.3,1431.0 263.8,1431.0 264.3,1431.0 264.8,1431.0 265.3,1431.0 265.8,1431.0 266.3,1431.0 266.8,1431.0 267.3,1431.0 267.8,1431.0 268.3,1431.0 268.8,1431.0 269.3,1431.0 269.8,1431.0 270.3,1431.0 270.8,1431.0 271.3,1431.0 271.8,1431.0 272.3,1431.0 272.8,1431.0 273.3,1431.0 273.8,1431.0 274.3,1431.0 274.8,1431.0 275.3,1431.0 275.8,1431.0 276.3,1431.0 276.8,1431.0 277.3,1431.0 277.8,1431.0 278.3,1431.0 278.8,1431.0 279.3,1431.0 279.8,1431.0 280.3,1431.0 280.8,1431.0 281.3,1431.0 281.8,1431.0 282.3,1431.0 282.8,1431.0 283.3,1431.0 283.8,1431.0 284.3,1431.0 284.8,1431.0 285.3,1431.0 285.8,1431.0 286.3,1431.0 286.8,1431.0 287.3,1431.0 287.8,1431.0 288.3,1431.0 288.8,1431.0 289.3,1431.0 289.8,1431.0 290.3,1431.0 290.8,1431.0 291.3,1431.0 291.8,1431.0 292.3,1431.0 292.8,1431.0 293.3,1431.0 293.8,1431.0 294.3,1431.0 294.8,1431.0 295.3,1431.0 295.8,1431.0 296.3,1431.0 296.8,1431.0 297.3,1431.0 297.8,1431.0 298.3,1431.0 298.8,1431.0 299.3,1431.0 299.8,1431.0 300.3,1431.0 300.8,1431.0 301.3,1431.0 301.8,1431.0 302.3,1431.0 302.8,1431.0 303.3,1431.0 303.8,1431.0 304.3,1431.0 304.8,1431.0 305.3,1431.0 305.8,1431.0 306.3,1431.0 306.8,1431.0 307.3,1431.0 307.8,1431.0 308.3,1431.0 308.8,1431.0 309.3,1431.0 309.8,1431.0 310.3,1431.0 310.8,1431.0 311.3,1431.0 311.8,1431.0 312.3,1431.0 312.8,1431.0 313.3,1431.0 313.8,1431.0 314.3,1431.0 314.8,1431.0 315.3,1431.0 315.8,1431.0 316.3,1431.0 316.8,1431.0 317.3,1431.0 317.8,1431.0 318.3,1431.0 318.8,1431.0 319.3,1431.0 319.8,1431.0 320.3,1431.0 320.8,1431.0 321.3,1431.0 321.8,1431.0 322.3,1431.0 322.8,1431.0 323.3,1431.0 323.8,1431.0 324.3,1431.0 324.8,1431.0 325.3,1431.0 325.8,1431.0 326.3,1431.0 326.8,1431.0 327.3,1431.0 327.8,1431.0 328.3,1431.0 328.8,1431.0 329.3,1431.0 329.8,1431.0 330.3,1431.0 330.8,1431.0 331.3,1431.0 331.8,1431.0 332.3,1431.0 332.8,1431.0 333.3,1431.0 333.8,1431.0 334.3,1431.0 334.8,1431.0 335.3,1431.0 335.8,1431.0 336.3,1431.0 336.8,1431.0 337.3,1431.0 337.8,1431.0 338.3,1431.0 338.8,1431.0 339.3,1431.0 339.8,1431.0 340.3,1431.0 340.8,1431.0 341.3,1431.0 341.8,1431.0 342.3,1431.0 342.8,1431.0 343.3,1431.0 343.8,1431.0 344.3,1431.0 344.8,1431.0 345.3,1431.0 345.8,1431.0 346.3,1431.0 346.8,1431.0 347.3,1431.0 347.8,1431.0 348.3,1431.0 348.8,1431.0 349.3,1431.0 349.8,1431.0 350.3,1431.0 350.8,1431.0 351.3,1431.0 351.8,1431.0 352.3,1431.0 352.8,1431.0 353.3,1431.0 353.8,1431.0 354.3,1431.0 354.8,1431.0 355.3,1431.0 355.8,1431.0 356.3,1431.0 356.8,1431.0 357.3,1431.0 357.8,1431.0 358.3,1431.0 358.8,1431.0 359.3,1431.0 359.8,1431.0 360.3,1431.0 360.8,1431.0 361.3,1431.0 361.8,1431.0 362.3,1431.0 362.8,1431.0 363.3,1431.0 363.8,1431.0 364.3,1431.0 364.8,1431.0 365.3,1431.0 365.8,1431.0 366.3,1431.0 366.8,1431.0 367.3,1431.0 367.8,1431.0 368.3,1431.0 368.8,1431.0 369.3,1431.0 369.8,1431.0 370.3,1431.0 370.8,1431.0 371.3,1431.0 371.8,1431.0 372.3,1431.0 372.8,1431.0 373.3,1431.0 373.8,1431.0 374.3,1431.0 374.8,1431.0 375.3,1431.0 375.8,1431.0 376.3,1431.0 376.8,1431.0 377.3,1431.0 377.8,1431.0 378.3,1431.0 378.8,1431.0 379.3,1431.0 379.8,1431.0 380.3,1431.0 380.8,1431.0 381.3,1431.0 381.8,1431.0 382.3,1431.0 382.8,1431.0 383.3,1431.0 383.8,1431.0 384.3,1431.0 384.8,1431.0 385.3,1431.0 385.8,1431.0 386.3,1431.0 386.8,1431.0 387.3,1431.0 387.8,1431.0 388.3,1431.0 388.8,1431.0 389.3,1431.0 389.8,1431.0 390.3,1431.0 390.8,1431.0 391.3,1431.0 391.8,1431.0 392.3,1431.0 392.8,1431.0 393.3,1431.0 393.8,1431.0 394.3,1431.0 394.8,1431.0 395.3,1431.0 395.8,1431.0 396.3,1431.0 396.8,1431.0 397.3,1431.0 397.8,1431.0 398.3,1431.0 398.8,1431.0 399.3,1431.0 399.8,1431.0 400.3,1431.0 400.8,1431.0 401.3,1431.0 401.8,1431.0 402.3,1431.0 402.8,1431.0 403.3,1431.0 403.8,1431.0 404.3,1431.0 404.8,1431.0 405.3,1431.0 405.8,1431.0 406.3,1431.0 406.8,1431.0 407.3,1431.0 407.8,1431.0 408.3,1431.0 408.8,1431.0 409.3,1431.0 409.8,1431.0 410.3,1431.0 410.8,1431.0 411.3,1431.0 411.8,1431.0 412.3,1431.0 412.8,1431.0 413.3,1431.0 413.8,1431.0 414.3,1431.0 414.8,1431.0 415.3,1431.0 415.8,1431.0 416.3,1431.0 416.8,1431.0 417.3,1431.0 417.8,1431.0 418.3,1431.0 418.8,1431.0 419.3,1431.0 419.8,1431.0 420.3,1431.0 420.8,1430.9 421.3,1430.9 421.8,1430.9 422.3,1430.9 422.8,1430.9 423.3,1430.9 423.8,1430.9 424.3,1430.9 424.8,1430.9 425.3,1430.9 425.8,1430.8 426.3,1430.8 426.8,1430.8 427.3,1430.8 427.8,1430.8 428.3,1430.7 428.8,1430.7 429.3,1430.7 429.8,1430.6 430.3,1430.6 430.8,1430.6 431.3,1430.5 431.8,1430.5 432.3,1430.4 432.8,1430.3 433.3,1430.3 433.8,1430.2 434.3,1430.1 434.8,1429.9 435.3,1429.8 435.8,1429.6 436.3,1429.4 436.8,1429.1 437.3,1428.8 437.8,1428.5 438.3,1428.1 438.8,1427.6 439.3,1427.1 439.8,1426.5 440.3,1425.7 440.8,1424.9 441.3,1424.0 441.8,1423.0 442.3,1421.9 442.8,1420.8 443.3,1419.5 443.8,1418.1 444.3,1416.6 444.8,1415.1 445.3,1413.6 445.8,1412.0 446.3,1410.5 446.8,1409.0 447.3,1407.5 447.8,1406.1 448.3,1404.9 448.8,1403.7 449.3,1402.8 449.8,1402.0 450.3,1401.5 450.8,1401.1 451.3,1401.0 451.8,1401.0 452.3,1401.2 452.8,1401.4 453.3,1401.8 453.8,1402.2 454.3,1402.8 454.8,1403.4 455.3,1404.1 455.8,1404.9 456.3,1405.8 456.8,1406.7 457.3,1407.6 457.8,1408.6 458.3,1409.7 458.8,1410.7 459.3,1411.8 459.8,1412.8 460.3,1413.9 460.8,1415.0 461.3,1416.0 461.8,1417.0 462.3,1418.0 462.8,1418.9 463.3,1419.8 463.8,1420.7 464.3,1421.5 464.8,1422.3 465.3,1423.0 465.8,1423.7 466.3,1424.3 466.8,1424.9 467.3,1425.5 467.8,1426.0 468.3,1426.5 468.8,1426.9 469.3,1427.3 469.8,1427.6 470.3,1428.0 470.8,1428.3 471.3,1428.5 471.8,1428.8 472.3,1429.0 472.8,1429.2 473.3,1429.4 473.8,1429.5 474.3,1429.7 474.8,1429.8 475.3,1429.9 475.8,1430.0 476.3,1430.1 476.8,1430.2 477.3,1430.3 477.8,1430.3 478.3,1430.4 478.8,1430.5 479.3,1430.5 479.8,1430.6 480.3,1430.6 480.8,1430.6 481.3,1430.7 481.8,1430.7 482.3,1430.7 482.8,1430.8 483.3,1430.8 483.8,1430.8 484.3,1430.8 484.8,1430.8 485.3,1430.9 485.8,1430.9 486.3,1430.9 486.8,1430.9 487.3,1430.9 487.8,1430.9 488.3,1430.9 488.8,1430.9 489.3,1430.9 489.8,1430.9 490.3,1430.9 490.8,1430.9 491.3,1430.9 491.8,1430.9 492.3,1430.9 492.8,1430.9 493.3,1430.9 493.8,1430.9 494.3,1430.9 494.8,1430.8 495.3,1430.8 495.8,1430.8 496.3,1430.7 496.8,1430.7 497.3,1430.6 497.8,1430.6 498.3,1430.5 498.8,1430.4 499.3,1430.3 499.8,1430.3 500.3,1430.2 500.8,1430.1 501.3,1430.0 501.8,1429.9 502.3,1429.8 502.8,1429.7 503.3,1429.7 503.8,1429.6 504.3,1429.6 504.8,1429.5 505.3,1429.5 505.8,1429.5 506.3,1429.5 506.8,1429.5 507.3,1429.5 507.8,1429.6 508.3,1429.6 508.8,1429.7 509.3,1429.7 509.8,1429.8 510.3,1429.9 510.8,1429.9 511.3,1430.0 511.8,1430.1 512.3,1430.2 512.8,1430.2 513.3,1430.3 513.8,1430.4 514.3,1430.5 514.8,1430.5 515.3,1430.6 515.8,1430.6 516.3,1430.7 516.8,1430.7 517.3,1430.8 517.8,1430.8 518.3,1430.8 518.8,1430.9 519.3,1430.9 519.8,1430.9 520.3,1430.9 520.8,1430.9 521.3,1430.9 521.8,1430.9 522.3,1430.9 522.8,1430.9 523.3,1430.9 523.8,1430.9 524.3,1430.8 524.8,1430.8 525.3,1430.8 525.8,1430.7 526.3,1430.7 526.8,1430.6 527.3,1430.5 527.8,1430.5 528.3,1430.4 528.8,1430.3 529.3,1430.2 529.8,1430.1 530.3,1430.0 530.8,1429.9 531.3,1429.9 531.8,1429.8 532.3,1429.7 532.8,1429.6 533.3,1429.6 533.8,1429.5 534.3,1429.5 534.8,1429.5 535.3,1429.5 535.8,1429.5 536.3,1429.5 536.8,1429.5 537.3,1429.6 537.8,1429.6 538.3,1429.6 538.8,1429.7 539.3,1429.7 539.8,1429.8 540.3,1429.8 540.8,1429.9 541.3,1429.9 541.8,1430.0 542.3,1430.0 542.8,1430.0 543.3,1430.0 543.8,1430.0 544.3,1430.0 544.8,1430.0 545.3,1430.0 545.8,1430.0 546.3,1430.0 546.8,1430.0 547.3,1430.0 547.8,1429.9 548.3,1429.9 548.8,1429.9 549.3,1429.9 549.8,1429.9 550.3,1429.9 550.8,1429.9 551.3,1429.9 551.8,1429.9 552.3,1430.0 552.8,1430.0 553.3,1430.0 553.8,1430.0 554.3,1429.9 554.8,1429.9 555.3,1429.9 555.8,1429.8 556.3,1429.7 556.8,1429.6 557.3,1429.5 557.8,1429.3 558.3,1429.0 558.8,1428.8 559.3,1428.4 559.8,1428.0 560.3,1427.6 560.8,1427.1 561.3,1426.5 561.8,1425.9 562.3,1425.2 562.8,1424.5 563.3,1423.8 563.8,1423.0 564.3,1422.2 564.8,1421.4 565.3,1420.5 565.8,1419.8 566.3,1419.0 566.8,1418.3 567.3,1417.7 567.8,1417.1 568.3,1416.7 568.8,1416.3 569.3,1416.1 569.8,1416.0 570.3,1416.0 570.8,1416.1 571.3,1416.3 571.8,1416.5 572.3,1416.8 572.8,1417.2 573.3,1417.6 573.8,1418.1 574.3,1418.6 574.8,1419.1 575.3,1419.7 575.8,1420.4 576.3,1421.0 576.8,1421.6 577.3,1422.3 577.8,1422.9 578.3,1423.6 578.8,1424.2 579.3,1424.8 579.8,1425.4 580.3,1425.9 580.8,1426.4 581.3,1426.9 581.8,1427.4 582.3,1427.8 582.8,1428.2 583.3,1428.5 583.8,1428.9 584.3,1429.1 584.8,1429.4 585.3,1429.6 585.8,1429.8 586.3,1430.0 586.8,1430.2 587.3,1430.3 587.8,1430.4 588.3,1430.5 588.8,1430.6 589.3,1430.7 589.8,1430.7 590.3,1430.8 590.8,1430.8 591.3,1430.9 591.8,1430.9 592.3,1430.9 592.8,1430.9 593.3,1430.9 593.8,1430.9 594.3,1431.0 594.8,1431.0 595.3,1431.0 595.8,1431.0 596.3,1431.0 596.8,1431.0 597.3,1431.0 597.8,1430.9 598.3,1430.9 598.8,1430.9 599.3,1430.9 599.8,1430.9 600.3,1430.9 600.8,1430.8 601.3,1430.8 601.8,1430.7 602.3,1430.7 602.8,1430.6 603.3,1430.5 603.8,1430.5 604.3,1430.4 604.8,1430.3 605.3,1430.2 605.8,1430.1 606.3,1430.0 606.8,1430.0 607.3,1429.9 607.8,1429.8 608.3,1429.7 608.8,1429.6 609.3,1429.6 609.8,1429.5 610.3,1429.5 610.8,1429.5 611.3,1429.5 611.8,1429.5 612.3,1429.5 612.8,1429.6 613.3,1429.6 613.8,1429.6 614.3,1429.7 614.8,1429.8 615.3,1429.8 615.8,1429.9 616.3,1430.0 616.8,1430.0 617.3,1430.1 617.8,1430.2 618.3,1430.3 618.8,1430.3 619.3,1430.4 619.8,1430.5 620.3,1430.5 620.8,1430.6 621.3,1430.6 621.8,1430.6 622.3,1430.7 622.8,1430.7 623.3,1430.7 623.8,1430.7 624.3,1430.7 624.8,1430.7 625.3,1430.7 625.8,1430.7 626.3,1430.6 626.8,1430.6 627.3,1430.6 627.8,1430.5 628.3,1430.5 628.8,1430.4 629.3,1430.4 629.8,1430.3 630.3,1430.2 630.8,1430.2 631.3,1430.1 631.8,1430.1 632.3,1430.1 632.8,1430.0 633.3,1430.0 633.8,1430.0 634.3,1430.0 634.8,1430.0 635.3,1430.0 635.8,1430.0 636.3,1430.1 636.8,1430.1 637.3,1430.1 637.8,1430.2 638.3,1430.2 638.8,1430.3 639.3,1430.3 639.8,1430.4 640.3,1430.4 640.8,1430.5 641.3,1430.5 641.8,1430.6 642.3,1430.6 642.8,1430.6 643.3,1430.7 643.8,1430.7 644.3,1430.8 644.8,1430.8 645.3,1430.8 645.8,1430.8 646.3,1430.8 646.8,1430.8 647.3,1430.8 647.8,1430.8 648.3,1430.8 648.8,1430.8 649.3,1430.8 649.8,1430.7 650.3,1430.7 650.8,1430.6 651.3,1430.6 651.8,1430.5 652.3,1430.4 652.8,1430.3 653.3,1430.2 653.8,1430.0 654.3,1429.9 654.8,1429.8 655.3,1429.6 655.8,1429.5 656.3,1429.3 656.8,1429.2 657.3,1429.0 657.8,1428.9 658.3,1428.8 658.8,1428.7 659.3,1428.6 659.8,1428.5 660.3,1428.5 660.8,1428.5 661.3,1428.5 661.8,1428.5 662.3,1428.6 662.8,1428.6 663.3,1428.7 663.8,1428.8 664.3,1428.9 664.8,1429.0 665.3,1429.1 665.8,1429.3 666.3,1429.4 666.8,1429.5 667.3,1429.6 667.8,1429.7 668.3,1429.9 668.8,1430.0 669.3,1430.1 669.8,1430.2 670.3,1430.3 670.8,1430.4 671.3,1430.4 671.8,1430.5 672.3,1430.5 672.8,1430.6 673.3,1430.6 673.8,1430.6 674.3,1430.6 674.8,1430.6 675.3,1430.5 675.8,1430.5 676.3,1430.4 676.8,1430.3 677.3,1430.2 677.8,1430.1 678.3,1430.0 678.8,1429.8 679.3,1429.7 679.8,1429.5 680.3,1429.3 680.8,1429.2 681.3,1429.0 681.8,1428.8 682.3,1428.6 682.8,1428.5 683.3,1428.3 683.8,1428.2 684.3,1428.1 684.8,1428.1 685.3,1428.0 685.8,1428.0 686.3,1428.0 686.8,1428.0 687.3,1428.1 687.8,1428.2 688.3,1428.3 688.8,1428.4 689.3,1428.5 689.8,1428.6 690.3,1428.7 690.8,1428.9 691.3,1429.0 691.8,1429.2 692.3,1429.3 692.8,1429.5 693.3,1429.6 693.8,1429.8 694.3,1429.9 694.8,1430.0 695.3,1430.1 695.8,1430.2 696.3,1430.3 696.8,1430.4 697.3,1430.5 697.8,1430.5 698.3,1430.6 698.8,1430.6 699.3,1430.6 699.8,1430.6 700.3,1430.6 700.8,1430.6 701.3,1430.6 701.8,1430.5 702.3,1430.5 702.8,1430.4 703.3,1430.3 703.8,1430.3 704.3,1430.1 704.8,1430.0 705.3,1429.9 705.8,1429.7 706.3,1429.5 706.8,1429.2 707.3,1429.0 707.8,1428.7 708.3,1428.4 708.8,1428.0 709.3,1427.5 709.8,1427.0 710.3,1426.5 710.8,1425.8 711.3,1425.0 711.8,1424.0 712.3,1422.9 712.8,1421.4 713.3,1419.5 713.8,1417.1 714.3,1414.0 714.8,1410.0 715.3,1404.9 715.8,1398.5 716.3,1390.3 716.8,1380.2 717.3,1367.7 717.8,1352.6 718.3,1334.6 718.8,1313.6 719.3,1289.6 719.8,1262.7 720.3,1233.1 720.8,1201.5 721.3,1168.5 721.8,1135.0 722.3,1102.1 722.8,1071.0 723.3,1042.8 723.8,1018.7 724.3,999.8 724.8,986.9 725.3,980.6 725.8,981.1 726.3,988.4 726.8,1002.1 727.3,1021.5 727.8,1045.7 728.3,1073.6 728.8,1104.1 729.3,1135.9 729.8,1167.9 730.3,1199.2 730.8,1229.0 731.3,1256.5 731.8,1281.4 732.3,1303.4 732.8,1322.5 733.3,1338.8 733.8,1352.5 734.3,1363.8 734.8,1373.1 735.3,1380.5 735.8,1386.6 736.3,1391.5 736.8,1395.4 737.3,1398.7 737.8,1401.4 738.3,1403.7 738.8,1405.7 739.3,1407.5 739.8,1409.2 740.3,1410.7 740.8,1412.2 741.3,1413.5 741.8,1414.8 742.3,1416.1 742.8,1417.2 743.3,1418.3 743.8,1419.4 744.3,1420.4 744.8,1421.3 745.3,1422.2 745.8,1423.1 746.3,1423.8 746.8,1424.6 747.3,1425.2 747.8,1425.8 748.3,1426.4 748.8,1426.9 749.3,1427.4 749.8,1427.8 750.3,1428.2 750.8,1428.5 751.3,1428.8 751.8,1429.1 752.3,1429.4 752.8,1429.6 753.3,1429.8 753.8,1429.9 754.3,1430.1 754.8,1430.2 755.3,1430.3 755.8,1430.4 756.3,1430.5 756.8,1430.6 757.3,1430.7 757.8,1430.7 758.3,1430.8 758.8,1430.8 759.3,1430.8 759.8,1430.9 760.3,1430.9 760.8,1430.9 761.3,1430.9 761.8,1430.9 762.3,1430.9 762.8,1431.0 763.3,1431.0 763.8,1431.0 764.3,1431.0 764.8,1431.0 765.3,1431.0 765.8,1431.0 766.3,1431.0 766.8,1431.0 767.3,1431.0 767.8,1431.0 768.3,1431.0 768.8,1431.0 769.3,1431.0 769.8,1431.0 770.3,1431.0 770.8,1431.0 771.3,1431.0 771.8,1431.0 772.3,1431.0 772.8,1431.0 773.3,1431.0 773.8,1431.0 774.3,1431.0 774.8,1431.0 775.3,1431.0 775.8,1431.0 776.3,1431.0 776.8,1431.0 777.3,1431.0 777.8,1431.0 778.3,1431.0 778.8,1431.0 779.3,1431.0 779.8,1431.0 780.3,1431.0 780.8,1431.0 781.3,1431.0 781.8,1431.0 782.3,1431.0 782.8,1431.0 783.3,1431.0 783.8,1431.0 784.3,1431.0 784.8,1431.0 785.3,1431.0 785.8,1431.0 786.3,1431.0 786.8,1431.0 787.3,1431.0 787.8,1431.0 788.3,1431.0 788.8,1431.0 789.3,1431.0 789.8,1431.0 790.3,1431.0 790.8,1431.0 791.3,1431.0 791.8,1431.0 792.3,1431.0 792.8,1431.0 793.3,1431.0 793.8,1431.0 794.3,1431.0 794.8,1431.0 795.3,1431.0 795.8,1431.0 796.3,1431.0 796.8,1431.0 797.3,1431.0 797.8,1431.0 798.3,1431.0 798.8,1431.0 799.3,1431.0 799.8,1431.0 800.3,1431.0 800.8,1431.0 801.3,1431.0 801.8,1431.0 802.3,1431.0 802.8,1431.0 803.3,1431.0 803.8,1431.0 804.3,1431.0 804.8,1431.0 805.3,1431.0 805.8,1431.0 806.3,1431.0 806.8,1431.0 807.3,1431.0 807.8,1431.0 808.3,1431.0 808.8,1431.0 809.3,1431.0 809.8,1431.0 810.3,1431.0 810.8,1431.0 811.3,1431.0 811.8,1431.0 812.3,1431.0 812.8,1431.0 813.3,1431.0 813.8,1431.0 814.3,1431.0 814.8,1431.0 815.3,1431.0 815.8,1431.0 816.3,1431.0 816.8,1431.0 817.3,1431.0 817.8,1431.0 818.3,1431.0 818.8,1431.0 819.3,1431.0 819.8,1431.0 820.3,1431.0 820.8,1431.0 821.3,1431.0 821.8,1431.0 822.3,1431.0 822.8,1431.0 823.3,1431.0 823.8,1431.0 824.3,1431.0 824.8,1431.0 825.3,1431.0 825.8,1431.0 826.3,1431.0 826.8,1431.0 827.3,1431.0 827.8,1431.0 828.3,1431.0 828.8,1431.0 829.3,1431.0 829.8,1431.0 830.3,1431.0 830.8,1431.0 831.3,1431.0 831.8,1431.0 832.3,1431.0 832.8,1431.0 833.3,1431.0 833.8,1431.0 834.3,1431.0 834.8,1431.0 835.3,1431.0 835.8,1431.0 836.3,1431.0 836.8,1431.0 837.3,1431.0 837.8,1431.0 838.3,1431.0 838.8,1431.0 839.3,1431.0 839.8,1431.0 840.3,1431.0 840.8,1431.0 841.3,1431.0 841.8,1431.0 842.3,1431.0 842.8,1431.0 843.3,1431.0 843.8,1431.0 844.3,1431.0 844.8,1431.0 845.3,1431.0 845.8,1431.0 846.3,1431.0 846.8,1431.0 847.3,1431.0 847.8,1431.0 848.3,1431.0 848.8,1431.0 849.3,1431.0 849.8,1431.0 850.3,1431.0 850.8,1431.0 851.3,1431.0 851.8,1431.0 852.3,1431.0 852.8,1431.0 853.3,1431.0 853.8,1431.0 854.3,1431.0 854.8,1431.0 855.3,1431.0 855.8,1431.0 856.3,1431.0 856.8,1431.0 857.3,1431.0 857.8,1431.0 858.3,1431.0 858.8,1431.0 859.3,1431.0 859.8,1431.0 860.3,1431.0 860.8,1431.0 861.3,1431.0 861.8,1431.0 862.3,1431.0 862.8,1431.0 863.3,1431.0 863.8,1431.0 864.3,1431.0 864.8,1431.0 865.3,1431.0 865.8,1431.0 866.3,1431.0 866.8,1431.0 867.3,1431.0 867.8,1431.0 868.3,1431.0 868.8,1431.0 869.3,1431.0 869.8,1431.0 870.3,1431.0 870.8,1431.0 871.3,1431.0 871.8,1431.0 872.3,1431.0 872.8,1431.0 873.3,1431.0 873.8,1431.0 874.3,1431.0 874.8,1431.0 875.3,1431.0 875.8,1431.0 876.3,1431.0 876.8,1431.0 877.3,1431.0 877.8,1431.0 878.3,1431.0 878.8,1431.0 879.3,1431.0 879.8,1431.0 880.3,1431.0 880.8,1431.0 881.3,1431.0 881.8,1431.0 882.3,1430.9 882.8,1430.9 883.3,1430.9 883.8,1430.9 884.3,1430.9 884.8,1430.9 885.3,1430.9 885.8,1430.9 886.3,1430.9 886.8,1430.9 887.3,1430.8 887.8,1430.8 888.3,1430.8 888.8,1430.8 889.3,1430.8 889.8,1430.7 890.3,1430.7 890.8,1430.7 891.3,1430.7 891.8,1430.7 892.3,1430.6 892.8,1430.6 893.3,1430.6 893.8,1430.5 894.3,1430.5 894.8,1430.5 895.3,1430.5 895.8,1430.4 896.3,1430.4 896.8,1430.4 897.3,1430.3 897.8,1430.3 898.3,1430.3 898.8,1430.3 899.3,1430.2 899.8,1430.2 900.3,1430.2 900.8,1430.1 901.3,1430.1 901.8,1430.1 902.3,1430.1 902.8,1430.1 903.3,1430.0 903.8,1430.0 904.3,1430.0 904.8,1430.0 905.3,1430.0 905.8,1430.0 906.3,1430.0 906.8,1430.0 907.3,1430.0 907.8,1430.0 908.3,1430.0 908.8,1430.0 909.3,1430.0 909.8,1430.1 910.3,1430.1 910.8,1430.1 911.3,1430.1 911.8,1430.1 912.3,1430.2 912.8,1430.2 913.3,1430.2 913.8,1430.2 914.3,1430.3 914.8,1430.3 915.3,1430.3 915.8,1430.4 916.3,1430.4 916.8,1430.4 917.3,1430.4 917.8,1430.5 918.3,1430.5 918.8,1430.5 919.3,1430.6 919.8,1430.6 920.3,1430.6 920.8,1430.6 921.3,1430.7 921.8,1430.7 922.3,1430.7 922.8,1430.7 923.3,1430.8 923.8,1430.8 924.3,1430.8 924.8,1430.8 925.3,1430.8 925.8,1430.8 926.3,1430.9 926.8,1430.9 927.3,1430.9 927.8,1430.9 928.3,1430.9 928.8,1430.9 929.3,1430.9 929.8,1430.9 930.3,1430.9 930.8,1430.9 931.3,1431.0 931.8,1431.0 932.3,1431.0 932.8,1431.0 933.3,1431.0 933.8,1431.0 934.3,1431.0 934.8,1431.0 935.3,1431.0 935.8,1431.0 936.3,1431.0 936.8,1431.0 937.3,1431.0 937.8,1431.0 938.3,1431.0 938.8,1431.0 939.3,1431.0 939.8,1431.0 940.3,1431.0 940.8,1431.0 941.3,1431.0 941.8,1431.0 942.3,1431.0 942.8,1431.0 943.3,1431.0 943.8,1431.0 944.3,1431.0 944.8,1431.0 945.3,1431.0 945.8,1431.0 946.3,1431.0 946.8,1431.0 947.3,1431.0 947.8,1431.0 948.3,1431.0 948.8,1431.0 949.3,1431.0 949.8,1431.0 950.3,1431.0 950.8,1431.0 951.3,1431.0 951.8,1431.0 952.3,1431.0 952.8,1431.0 953.3,1431.0 953.8,1431.0 954.3,1431.0 954.8,1431.0 955.3,1431.0 955.8,1431.0 956.3,1431.0 956.8,1431.0 957.3,1431.0 957.8,1431.0 958.3,1431.0 958.8,1431.0 959.3,1431.0 959.8,1431.0 960.3,1431.0 960.8,1431.0 961.3,1431.0 961.8,1431.0 962.3,1431.0 962.8,1431.0 963.3,1431.0 963.8,1431.0 964.3,1431.0 964.8,1431.0 965.3,1431.0 965.8,1431.0 966.3,1431.0 966.8,1431.0 967.3,1431.0 967.8,1431.0 968.3,1431.0 968.8,1431.0 969.3,1431.0 969.8,1431.0 970.3,1431.0 970.8,1431.0 971.3,1431.0 971.8,1431.0 972.3,1431.0 972.8,1431.0 973.3,1431.0 973.8,1431.0 974.3,1431.0 974.8,1431.0 975.3,1431.0 975.8,1431.0 976.3,1431.0 976.8,1431.0 977.3,1431.0 977.8,1431.0 978.3,1431.0 978.8,1431.0 979.3,1431.0 979.8,1431.0 980.3,1431.0 980.8,1431.0 981.3,1431.0 981.8,1431.0 982.3,1431.0 982.8,1431.0 983.3,1431.0 983.8,1431.0 984.3,1431.0 984.8,1431.0 985.3,1431.0 985.8,1431.0 986.3,1431.0 986.8,1431.0 987.3,1431.0 987.8,1431.0 988.3,1431.0 988.8,1431.0 989.3,1431.0 989.8,1431.0 990.3,1431.0 990.8,1431.0 991.3,1431.0 991.8,1431.0 992.3,1431.0 992.8,1431.0 993.3,1431.0 993.8,1431.0 994.3,1431.0 994.8,1431.0 995.3,1431.0 995.8,1431.0 996.3,1431.0 996.8,1431.0 997.3,1431.0 997.8,1431.0 998.3,1431.0 998.8,1431.0 999.3,1431.0 999.8,1431.0 1000.3,1431.0 1000.8,1431.0 1001.3,1431.0 1001.8,1431.0 1002.3,1431.0 1002.8,1431.0 1003.3,1431.0 1003.8,1431.0 1004.3,1431.0 1004.8,1431.0 1005.3,1431.0 1005.8,1431.0 1006.3,1431.0 1006.8,1431.0 1007.3,1431.0 1007.8,1431.0 1008.3,1431.0 1008.8,1431.0 1009.3,1431.0 1009.8,1431.0 1010.3,1431.0 1010.8,1431.0 1011.3,1431.0 1011.8,1431.0 1012.3,1431.0 1012.8,1431.0 1013.3,1431.0 1013.8,1431.0 1014.3,1431.0 1014.8,1431.0 1015.3,1431.0 1015.8,1431.0 1016.3,1431.0 1016.8,1431.0 1017.3,1431.0 1017.8,1431.0 1018.3,1431.0 1018.8,1431.0 1019.3,1431.0 1019.8,1431.0 1020.3,1431.0 1020.8,1431.0 1021.3,1431.0 1021.8,1431.0 1022.3,1431.0 1022.8,1431.0 1023.3,1431.0 1023.8,1431.0 1024.3,1431.0 1024.8,1431.0 1025.3,1431.0 1025.8,1431.0 1026.3,1431.0 1026.8,1431.0 1027.3,1431.0 1027.8,1431.0 1028.3,1431.0 1028.8,1431.0 1029.3,1431.0 1029.8,1431.0 1030.3,1431.0 1030.8,1431.0 1031.3,1431.0 1031.8,1431.0 1032.3,1431.0 1032.8,1431.0 1033.3,1431.0 1033.8,1431.0 1034.3,1431.0 1034.8,1431.0 1035.3,1431.0 1035.8,1431.0 1036.3,1431.0 1036.8,1431.0 1037.3,1431.0 1037.8,1431.0 1038.3,1431.0 1038.8,1431.0 1039.3,1431.0 1039.8,1431.0 1040.3,1431.0 1040.8,1431.0 1041.3,1431.0 1041.8,1431.0 1042.3,1431.0 1042.8,1431.0 1043.3,1431.0 1043.8,1431.0 1044.3,1431.0 1044.8,1431.0 1045.3,1431.0 1045.8,1431.0 1046.3,1431.0 1046.8,1431.0 1047.3,1431.0 1047.8,1431.0 1048.3,1431.0 1048.8,1431.0 1049.3,1431.0 1049.8,1431.0 1050.3,1431.0 1050.8,1431.0 1051.3,1431.0 1051.8,1431.0 1052.3,1431.0 1052.8,1431.0 1053.3,1431.0 1053.8,1431.0 1054.3,1431.0 1054.8,1431.0 1055.3,1431.0 1055.8,1431.0 1056.3,1431.0 1056.8,1431.0 1057.3,1431.0 1057.8,1431.0 1058.3,1431.0 1058.8,1431.0 1059.3,1431.0 1059.8,1431.0 1060.3,1431.0 1060.8,1431.0 1061.3,1431.0 1061.8,1431.0 1062.3,1431.0 1062.8,1431.0 1063.3,1431.0 1063.8,1431.0 1064.3,1431.0 1064.8,1431.0 1065.3,1431.0 1065.8,1431.0 1066.3,1431.0 1066.8,1431.0 1067.3,1431.0 1067.8,1431.0 1068.3,1431.0 1068.8,1431.0 1069.3,1431.0 1069.8,1431.0 1070.3,1431.0 1070.8,1431.0 1071.3,1431.0 1071.8,1431.0 1072.3,1431.0 1072.8,1431.0 1073.3,1431.0 1073.8,1431.0 1074.3,1431.0 1074.8,1431.0 1075.3,1431.0 1075.8,1431.0 1076.3,1431.0 1076.8,1431.0 1077.3,1431.0 1077.8,1431.0 1078.3,1431.0 1078.8,1431.0 1079.3,1431.0 1079.8,1431.0 1080.3,1431.0 1080.8,1431.0 1081.3,1431.0 1081.8,1431.0 1082.3,1431.0 1082.8,1431.0 1083.3,1431.0 1083.8,1431.0 1084.3,1431.0 1084.8,1431.0 1085.3,1431.0 1085.8,1431.0 1086.3,1431.0 1086.8,1431.0 1087.3,1431.0 1087.8,1431.0 1088.3,1431.0 1088.8,1431.0 1089.3,1431.0 1089.8,1431.0 1090.3,1431.0 1090.8,1431.0 1091.3,1431.0 1091.8,1431.0 1092.3,1431.0 1092.8,1431.0 1093.3,1431.0 1093.8,1431.0 1094.3,1431.0 1094.8,1431.0 1095.3,1431.0 1095.8,1431.0 1096.3,1431.0 1096.8,1431.0 1097.3,1431.0 1097.8,1431.0 1098.3,1431.0 1098.8,1431.0 1099.3,1431.0 1099.8,1431.0 1100.3,1431.0 1100.8,1431.0 1101.3,1431.0 1101.8,1431.0 1102.3,1431.0 1102.8,1431.0 1103.3,1431.0 1103.8,1431.0 1104.3,1431.0 1104.8,1431.0 1105.3,1431.0 1105.8,1431.0 1106.3,1431.0 1106.8,1431.0 1107.3,1431.0 1107.8,1431.0 1108.3,1431.0 1108.8,1431.0 1109.3,1431.0 1109.8,1431.0 1110.3,1431.0 1110.8,1431.0 1111.3,1431.0 1111.8,1431.0 1112.3,1431.0 1112.8,1431.0 1113.3,1431.0 1113.8,1431.0 1114.3,1431.0 1114.8,1431.0 1115.3,1431.0 1115.8,1431.0 1116.3,1431.0 1116.8,1431.0 1117.3,1431.0 1117.8,1431.0 1118.3,1431.0 1118.8,1431.0 1119.3,1431.0 1119.8,1431.0 1120.3,1431.0 1120.8,1431.0 1121.3,1431.0 1121.8,1431.0 1122.3,1431.0 1122.8,1431.0 1123.3,1431.0 1123.8,1431.0 1124.3,1431.0 1124.8,1431.0 1125.3,1431.0 1125.8,1431.0 1126.3,1431.0 1126.8,1431.0 1127.3,1431.0 1127.8,1431.0 1128.3,1431.0 1128.8,1431.0 1129.3,1431.0 1129.8,1431.0 1130.3,1431.0 1130.8,1431.0 1131.3,1431.0 1131.8,1431.0 1132.3,1431.0 1132.8,1431.0 1133.3,1431.0 1133.8,1431.0 1134.3,1431.0 1134.8,1431.0 1135.3,1431.0 1135.8,1431.0 1136.3,1431.0 1136.8,1431.0 1137.3,1431.0 1137.8,1431.0 1138.3,1431.0 1138.8,1431.0 1139.3,1431.0 1139.8,1431.0 1140.3,1431.0 1140.8,1431.0 1141.3,1431.0 1141.8,1431.0 1142.3,1431.0 1142.8,1431.0 1143.3,1431.0 1143.8,1431.0 1144.3,1431.0 1144.8,1431.0 1145.3,1431.0 1145.8,1431.0 1146.3,1431.0 1146.8,1431.0 1147.3,1431.0 1147.8,1431.0 1148.3,1431.0 1148.8,1431.0 1149.3,1431.0 1149.8,1431.0 1150.3,1431.0 1150.8,1431.0 1151.3,1431.0 1151.8,1431.0 1152.3,1431.0 1152.8,1431.0 1153.3,1431.0 1153.8,1431.0 1154.3,1431.0 1154.8,1431.0 1155.3,1431.0 1155.8,1431.0 1156.3,1431.0 1156.8,1431.0 1157.3,1431.0 1157.8,1431.0 1158.3,1431.0 1158.8,1431.0 1159.3,1431.0 1159.8,1431.0 1160.3,1431.0 1160.8,1431.0 1161.3,1431.0 1161.8,1431.0 1162.3,1431.0 1162.8,1431.0 1163.3,1431.0 1163.8,1431.0 1164.3,1431.0 1164.8,1431.0 1165.3,1431.0 1165.8,1431.0 1166.3,1431.0 1166.8,1431.0 1167.3,1431.0 1167.8,1431.0 1168.3,1431.0 1168.8,1431.0 1169.3,1431.0 1169.8,1431.0 1170.3,1431.0 1170.8,1431.0 1171.3,1431.0 1171.8,1431.0 1172.3,1431.0 1172.8,1431.0 1173.3,1431.0 1173.8,1431.0 1174.3,1431.0 1174.8,1431.0 1175.3,1431.0 1175.8,1431.0 1176.3,1431.0 1176.8,1431.0 1177.3,1431.0 1177.8,1431.0 1178.3,1431.0 1178.8,1431.0 1179.3,1431.0 1179.8,1431.0 1180.3,1431.0 1180.8,1431.0 1181.3,1431.0 1181.8,1431.0 1182.3,1431.0 1182.8,1431.0 1183.3,1431.0 1183.8,1431.0 1184.3,1431.0 1184.8,1431.0 1185.3,1431.0 1185.8,1431.0 1186.3,1431.0 1186.8,1430.9 1187.3,1430.9 1187.8,1430.9 1188.3,1430.9 1188.8,1430.9 1189.3,1430.9 1189.8,1430.9 1190.3,1430.9 1190.8,1430.9 1191.3,1430.9 1191.8,1430.9 1192.3,1430.9 1192.8,1430.8 1193.3,1430.8 1193.8,1430.8 1194.3,1430.8 1194.8,1430.8 1195.3,1430.8 1195.8,1430.7 1196.3,1430.7 1196.8,1430.7 1197.3,1430.7 1197.8,1430.7 1198.3,1430.7 1198.8,1430.6 1199.3,1430.6 1199.8,1430.6 1200.3,1430.6 1200.8,1430.5 1201.3,1430.5 1201.8,1430.5 1202.3,1430.5 1202.8,1430.4 1203.3,1430.4 1203.8,1430.4 1204.3,1430.4 1204.8,1430.3 1205.3,1430.3 1205.8,1430.3 1206.3,1430.3 1206.8,1430.2 1207.3,1430.2 1207.8,1430.2 1208.3,1430.2 1208.8,1430.2 1209.3,1430.1 1209.8,1430.1 1210.3,1430.1 1210.8,1430.1 1211.3,1430.1 1211.8,1430.1 1212.3,1430.0 1212.8,1430.0 1213.3,1430.0 1213.8,1430.0 1214.3,1430.0 1214.8,1430.0 1215.3,1430.0 1215.8,1430.0 1216.3,1430.0 1216.8,1430.0 1217.3,1430.0 1217.8,1430.0 1218.3,1430.0 1218.8,1430.0 1219.3,1430.0 1219.8,1430.1 1220.3,1430.1 1220.8,1430.1 1221.3,1430.1 1221.8,1430.1 1222.3,1430.1 1222.8,1430.2 1223.3,1430.2 1223.8,1430.2 1224.3,1430.2 1224.8,1430.2 1225.3,1430.3 1225.8,1430.3 1226.3,1430.3 1226.8,1430.3 1227.3,1430.4 1227.8,1430.4 1228.3,1430.4 1228.8,1430.4 1229.3,1430.5 1229.8,1430.5 1230.3,1430.5 1230.8,1430.5 1231.3,1430.6 1231.8,1430.6 1232.3,1430.6 1232.8,1430.6 1233.3,1430.7 1233.8,1430.7 1234.3,1430.7 1234.8,1430.7 1235.3,1430.7 1235.8,1430.8 1236.3,1430.8 1236.8,1430.8 1237.3,1430.8 1237.8,1430.8 1238.3,1430.8 1238.8,1430.8 1239.3,1430.9 1239.8,1430.9 1240.3,1430.9 1240.8,1430.9 1241.3,1430.9 1241.8,1430.9 1242.3,1430.9 1242.8,1430.9 1243.3,1430.9 1243.8,1430.9 1244.3,1430.9 1244.8,1430.9 1245.3,1431.0 1245.8,1431.0 1246.3,1431.0 1246.8,1431.0 1247.3,1431.0 1247.8,1431.0 1248.3,1431.0 1248.8,1431.0 1249.3,1431.0 1249.8,1431.0 1250.3,1431.0 1250.8,1431.0 1251.3,1431.0 1251.8,1431.0 1252.3,1431.0 1252.8,1431.0 1253.3,1431.0 1253.8,1431.0 1254.3,1431.0 1254.8,1431.0 1255.3,1431.0 1255.8,1431.0 1256.3,1431.0 1256.8,1431.0 1257.3,1431.0 1257.8,1431.0 1258.3,1431.0 1258.8,1431.0 1259.3,1431.0 1259.8,1431.0 1260.3,1431.0 1260.8,1431.0 1261.3,1431.0 1261.8,1431.0 1262.3,1431.0 1262.8,1431.0 1263.3,1431.0 1263.8,1431.0 1264.3,1431.0 1264.8,1431.0 1265.3,1431.0 1265.8,1431.0 1266.3,1431.0 1266.8,1431.0 1267.3,1431.0 1267.8,1431.0 1268.3,1431.0 1268.8,1431.0 1269.3,1431.0 1269.8,1431.0 1270.3,1431.0 1270.8,1431.0 1271.3,1431.0 1271.8,1431.0 1272.3,1431.0 1272.8,1431.0 1273.3,1431.0 1273.8,1431.0 1274.3,1431.0 1274.8,1431.0 1275.3,1431.0 1275.8,1431.0 1276.3,1431.0 1276.8,1431.0 1277.3,1431.0 1277.8,1431.0 1278.3,1431.0 1278.8,1431.0 1279.3,1431.0 1279.8,1431.0 1280.3,1431.0 1280.8,1431.0 1281.3,1431.0 1281.8,1431.0 1282.3,1431.0 1282.8,1431.0 1283.3,1431.0 1283.8,1431.0 1284.3,1431.0 1284.8,1431.0 1285.3,1431.0 1285.8,1431.0 1286.3,1431.0 1286.8,1431.0 1287.3,1431.0 1287.8,1431.0 1288.3,1431.0 1288.8,1431.0 1289.3,1431.0 1289.8,1431.0 1290.3,1431.0 1290.8,1431.0 1291.3,1431.0 1291.8,1431.0 1292.3,1431.0 1292.8,1431.0 1293.3,1431.0 1293.8,1431.0 1294.3,1431.0 1294.8,1431.0 1295.3,1431.0 1295.8,1431.0 1296.3,1431.0 1296.8,1431.0 1297.3,1431.0 1297.8,1431.0 1298.3,1431.0 1298.8,1431.0 1299.3,1431.0 1299.8,1431.0 1300.3,1431.0 1300.8,1431.0 1301.3,1431.0 1301.8,1431.0 1302.3,1431.0 1302.8,1431.0 1303.3,1431.0 1303.8,1431.0 1304.3,1431.0 1304.8,1431.0 1305.3,1431.0 1305.8,1431.0 1306.3,1431.0 1306.8,1431.0 1307.3,1431.0 1307.8,1431.0 1308.3,1431.0 1308.8,1431.0 1309.3,1431.0 1309.8,1431.0 1310.3,1431.0 1310.8,1431.0 1311.3,1431.0 1311.8,1431.0 1312.3,1431.0 1312.8,1431.0 1313.3,1431.0 1313.8,1431.0 1314.3,1431.0 1314.8,1431.0 1315.3,1431.0 1315.8,1431.0 1316.3,1431.0 1316.8,1431.0 1317.3,1431.0 1317.8,1431.0 1318.3,1431.0 1318.8,1431.0 1319.3,1431.0 1319.8,1431.0 1320.3,1431.0 1320.8,1431.0 1321.3,1431.0 1321.8,1431.0 1322.3,1431.0 1322.8,1431.0 1323.3,1431.0 1323.8,1431.0 1324.3,1431.0 1324.8,1431.0 1325.3,1431.0 1325.8,1431.0 1326.3,1431.0 1326.8,1431.0 1327.3,1431.0 1327.8,1431.0 1328.3,1431.0 1328.8,1431.0 1329.3,1431.0 1329.8,1431.0 1330.3,1431.0 1330.8,1431.0 1331.3,1431.0 1331.8,1431.0 1332.3,1431.0 1332.8,1431.0 1333.3,1431.0 1333.8,1431.0 1334.3,1431.0 1334.8,1431.0 1335.3,1431.0 1335.8,1431.0 1336.3,1431.0 1336.8,1431.0 1337.3,1431.0 1337.8,1431.0 1338.3,1431.0 1338.8,1431.0 1339.3,1431.0 1339.8,1431.0 1340.3,1431.0 1340.8,1431.0 1341.3,1431.0 1341.8,1431.0 1342.3,1431.0 1342.8,1431.0 1343.3,1431.0 1343.8,1431.0 1344.3,1431.0 1344.8,1431.0 1345.3,1431.0 1345.8,1431.0 1346.3,1431.0 1346.8,1431.0 1347.3,1431.0 1347.8,1431.0 1348.3,1431.0 1348.8,1431.0 1349.3,1431.0 1349.8,1431.0 1350.3,1431.0 1350.8,1431.0 1351.3,1431.0 1351.8,1431.0 1352.3,1431.0 1352.8,1431.0 1353.3,1431.0 1353.8,1431.0 1354.3,1431.0 1354.8,1431.0 1355.3,1431.0 1355.8,1431.0 1356.3,1431.0 1356.8,1431.0 1357.3,1431.0 1357.8,1431.0 1358.3,1431.0 1358.8,1431.0 1359.3,1431.0 1359.8,1431.0 1360.3,1431.0 1360.8,1431.0 1361.3,1431.0 1361.8,1431.0 1362.3,1431.0 1362.8,1431.0 1363.3,1431.0 1363.8,1431.0 1364.3,1431.0 1364.8,1431.0 1365.3,1431.0 1365.8,1431.0 1366.3,1431.0 1366.8,1431.0 1367.3,1431.0 1367.8,1431.0 1368.3,1431.0 1368.8,1431.0 1369.3,1431.0 1369.8,1431.0 1370.3,1431.0 1370.8,1431.0 1371.3,1431.0 1371.8,1431.0 1372.3,1431.0 1372.8,1431.0 1373.3,1431.0 1373.8,1431.0 1374.3,1431.0 1374.8,1431.0 1375.3,1431.0 1375.8,1431.0 1376.3,1431.0 1376.8,1431.0 1377.3,1431.0 1377.8,1431.0 1378.3,1431.0 1378.8,1431.0 1379.3,1431.0 1379.8,1431.0 1380.3,1431.0 1380.8,1431.0 1381.3,1431.0 1381.8,1431.0 1382.3,1431.0 1382.8,1431.0 1383.3,1431.0 1383.8,1431.0 1384.3,1431.0 1384.8,1431.0 1385.3,1431.0 1385.8,1431.0 1386.3,1431.0 1386.8,1431.0 1387.3,1431.0 1387.8,1431.0 1388.3,1431.0 1388.8,1431.0 1389.3,1431.0 1389.8,1431.0 1390.3,1431.0 1390.8,1431.0 1391.3,1431.0 1391.8,1431.0 1392.3,1431.0 1392.8,1431.0 1393.3,1431.0 1393.8,1431.0 1394.3,1431.0 1394.8,1431.0 1395.3,1431.0 1395.8,1431.0 1396.3,1431.0 1396.8,1431.0 1397.3,1431.0 1397.8,1431.0 1398.3,1431.0 1398.8,1431.0 1399.3,1431.0 1399.8,1431.0 1400.3,1431.0 1400.8,1431.0 1401.3,1431.0 1401.8,1431.0 1402.3,1431.0 1402.8,1431.0 1403.3,1431.0 1403.8,1431.0 1404.3,1431.0 1404.8,1431.0 1405.3,1431.0 1405.8,1431.0 1406.3,1431.0 1406.8,1431.0 1407.3,1431.0 1407.8,1431.0 1408.3,1431.0 1408.8,1431.0 1409.3,1431.0 1409.8,1431.0 1410.3,1431.0 1410.8,1431.0 1411.3,1431.0 1411.8,1431.0 1412.3,1431.0 1412.8,1431.0 1413.3,1431.0 1413.8,1431.0 1414.3,1431.0 1414.8,1431.0 1415.3,1431.0 1415.8,1431.0 1416.3,1431.0 1416.8,1431.0 1417.3,1431.0 1417.8,1431.0 1418.3,1431.0 1418.8,1431.0 1419.3,1431.0 1419.8,1431.0 1420.3,1431.0 1420.8,1431.0 1421.3,1431.0 1421.8,1431.0 1422.3,1431.0 1422.8,1431.0 1423.3,1431.0 1423.8,1431.0 1424.3,1431.0 1424.8,1431.0 1425.3,1431.0 1425.8,1431.0 1426.3,1431.0 1426.8,1431.0 1427.3,1431.0 1427.8,1431.0 1428.3,1431.0 1428.8,1431.0 1429.3,1431.0 1429.8,1431.0 1430.3,1431.0 1430.8,1431.0 1431.3,1431.0 1431.8,1431.0 1432.3,1431.0 1432.8,1431.0 1433.3,1431.0 1433.8,1431.0 1434.3,1431.0 1434.8,1431.0 1435.3,1431.0 1435.8,1431.0 1436.3,1431.0 1436.8,1431.0 1437.3,1431.0 1437.8,1431.0 1438.3,1431.0 1438.8,1431.0 1439.3,1431.0 1439.8,1431.0 1440.3,1431.0 1440.8,1431.0 1441.3,1431.0 1441.8,1431.0 1442.3,1431.0 1442.8,1431.0 1443.3,1431.0 1443.8,1431.0 1444.3,1431.0 1444.8,1431.0 1445.3,1431.0 1445.8,1431.0 1446.3,1431.0 1446.8,1431.0 1447.3,1431.0 1447.8,1431.0 1448.3,1431.0 1448.8,1431.0 1449.3,1431.0 1449.8,1431.0 1450.3,1431.0 1450.8,1431.0 1451.3,1431.0 1451.8,1431.0 1452.3,1431.0 1452.8,1431.0 1453.3,1431.0 1453.8,1431.0 1454.3,1431.0 1454.8,1431.0 1455.3,1431.0 1455.8,1431.0 1456.3,1431.0 1456.8,1431.0 1457.3,1431.0 1457.8,1431.0 1458.3,1431.0 1458.8,1431.0 1459.3,1431.0 1459.8,1431.0 1460.3,1431.0 1460.8,1431.0 1461.3,1431.0 1461.8,1431.0 1462.3,1431.0 1462.8,1431.0 1463.3,1431.0 1463.8,1431.0 1464.3,1431.0 1464.8,1431.0 1465.3,1431.0 1465.8,1431.0 1466.3,1431.0 1466.8,1431.0 1467.3,1431.0 1467.8,1431.0 1468.3,1431.0 1468.8,1431.0 1469.3,1431.0 1469.8,1431.0 1470.3,1431.0 1470.8,1431.0 1471.3,1431.0 1471.8,1431.0 1472.3,1431.0 1472.8,1431.0 1473.3,1431.0 1473.8,1431.0 1474.3,1431.0 1474.8,1431.0 1475.3,1431.0 1475.8,1431.0 1476.3,1431.0 1476.8,1431.0 1477.3,1431.0 1477.8,1431.0 1478.3,1431.0 1478.8,1431.0 1479.3,1431.0 1479.8,1431.0 1480.3,1431.0 1480.8,1431.0 1481.3,1431.0 1481.8,1431.0 1482.3,1431.0 1482.8,1431.0 1483.3,1431.0 1483.8,1431.0 1484.3,1431.0 1484.8,1431.0 1485.3,1431.0 1485.8,1431.0 1486.3,1431.0 1486.8,1431.0 1487.3,1431.0 1487.8,1431.0 1488.3,1431.0 1488.8,1431.0 1489.3,1431.0 1489.8,1431.0 1490.3,1431.0 1490.8,1431.0 1491.3,1431.0 1491.8,1431.0 1492.3,1431.0 1492.8,1431.0 1493.3,1431.0 1493.8,1431.0 1494.3,1431.0 1494.8,1431.0 1495.3,1431.0 1495.8,1431.0 1496.3,1431.0 1496.8,1431.0 1497.3,1431.0 1497.8,1431.0 1498.3,1431.0 1498.8,1431.0 1499.3,1431.0 1499.8,1431.0 1500.3,1431.0 1500.8,1431.0 1501.3,1431.0 1501.8,1431.0 1502.3,1431.0 1502.8,1431.0 1503.3,1431.0 1503.8,1431.0 1504.3,1431.0 1504.8,1431.0 1505.3,1431.0 1505.8,1431.0 1506.3,1431.0 1506.8,1431.0 1507.3,1431.0 1507.8,1431.0 1508.3,1431.0 1508.8,1431.0 1509.3,1431.0 1509.8,1431.0 1510.3,1431.0 1510.8,1431.0 1511.3,1431.0 1511.8,1431.0 1512.3,1431.0 1512.8,1431.0 1513.3,1431.0 1513.8,1431.0 1514.3,1431.0 1514.8,1431.0 1515.3,1431.0 1515.8,1431.0 1516.3,1431.0 1516.8,1431.0 1517.3,1431.0 1517.8,1431.0 1518.3,1431.0 1518.8,1431.0 1519.3,1431.0 1519.8,1431.0 1520.3,1431.0 1520.8,1431.0 1521.3,1431.0 1521.8,1431.0 1522.3,1431.0 1522.8,1431.0 1523.3,1431.0 1523.8,1431.0 1524.3,1431.0 1524.8,1431.0 1525.3,1431.0 1525.8,1431.0 1526.3,1431.0 1526.8,1431.0 1527.3,1431.0 1527.8,1431.0 1528.3,1431.0 1528.8,1431.0 1529.3,1431.0 1529.8,1431.0 1530.3,1431.0 1530.8,1431.0 1531.3,1431.0 1531.8,1431.0 1532.3,1431.0 1532.8,1431.0 1533.3,1431.0 1533.8,1431.0 1534.3,1431.0 1534.8,1431.0 1535.3,1431.0 1535.8,1431.0 1536.3,1431.0 1536.8,1431.0 1537.3,1431.0 1537.8,1431.0 1538.3,1431.0 1538.8,1431.0 1539.3,1431.0 1539.8,1431.0 1540.3,1431.0 1540.8,1431.0 1541.3,1431.0 1541.8,1431.0 1542.3,1431.0 1542.8,1431.0 1543.3,1431.0 1543.8,1431.0 1544.3,1431.0 1544.8,1431.0 1545.3,1431.0 1545.8,1431.0 1546.3,1431.0 1546.8,1431.0 1547.3,1431.0 1547.8,1431.0 1548.3,1431.0 1548.8,1431.0 1549.3,1431.0 1549.8,1431.0 1550.3,1431.0 1550.8,1431.0 1551.3,1431.0 1551.8,1431.0 1552.3,1431.0 1552.8,1431.0 1553.3,1431.0 1553.8,1431.0 1554.3,1431.0 1554.8,1431.0 1555.3,1431.0 1555.8,1431.0 1556.3,1431.0 1556.8,1431.0 1557.3,1431.0 1557.8,1431.0 1558.3,1431.0 1558.8,1431.0 1559.3,1431.0 1559.8,1431.0 1560.3,1431.0 1560.8,1431.0 1561.3,1431.0 1561.8,1431.0 1562.3,1431.0 1562.8,1431.0 1563.3,1431.0 1563.8,1431.0 1564.3,1431.0 1564.8,1431.0 1565.3,1431.0 1565.8,1431.0 1566.3,1431.0 1566.8,1431.0 1567.3,1431.0 1567.8,1431.0 1568.3,1431.0 1568.8,1431.0 1569.3,1431.0 1569.8,1431.0 1570.3,1431.0 1570.8,1431.0 1571.3,1431.0 1571.8,1431.0 1572.3,1431.0 1572.8,1431.0 1573.3,1431.0 1573.8,1431.0 1574.3,1431.0 1574.8,1431.0 1575.3,1431.0 1575.8,1431.0 1576.3,1431.0 1576.8,1431.0 1577.3,1431.0 1577.8,1431.0 1578.3,1431.0 1578.8,1431.0 1579.3,1431.0 1579.8,1431.0 1580.3,1431.0 1580.8,1431.0 1581.3,1431.0 1581.8,1431.0 1582.3,1431.0 1582.8,1431.0 1583.3,1431.0 1583.8,1431.0 1584.3,1431.0 1584.8,1431.0 1585.3,1431.0 1585.8,1431.0 1586.3,1431.0 1586.8,1431.0 1587.3,1431.0 1587.8,1431.0 1588.3,1431.0 1588.8,1431.0 1589.3,1431.0 1589.8,1431.0 1590.3,1431.0 1590.8,1431.0 1591.3,1431.0 1591.8,1431.0 1592.3,1431.0 1592.8,1431.0 1593.3,1431.0 1593.8,1431.0 1594.3,1431.0 1594.8,1431.0 1595.3,1431.0 1595.8,1431.0 1596.3,1431.0 1596.8,1431.0 1597.3,1431.0 1597.8,1431.0 1598.3,1431.0 1598.8,1431.0 1599.3,1431.0 1599.8,1431.0 1600.3,1431.0 1600.8,1431.0 1601.3,1431.0 1601.8,1431.0 1602.3,1431.0 1602.8,1431.0 1603.3,1431.0 1603.8,1431.0 1604.3,1431.0 1604.8,1431.0 1605.3,1431.0 1605.8,1431.0 1606.3,1431.0 1606.8,1431.0 1607.3,1431.0 1607.8,1431.0 1608.3,1431.0 1608.8,1431.0 1609.3,1431.0 1609.8,1431.0 1610.3,1431.0 1610.8,1431.0 1611.3,1431.0 1611.8,1431.0 1612.3,1431.0 1612.8,1431.0 1613.3,1431.0 1613.8,1431.0 1614.3,1431.0 1614.8,1431.0 1615.3,1431.0 1615.8,1431.0 1616.3,1431.0 1616.8,1431.0 1617.3,1431.0 1617.8,1431.0 1618.3,1431.0 1618.8,1431.0 1619.3,1431.0 1619.8,1431.0 1620.3,1431.0 1620.8,1431.0 1621.3,1431.0 1621.8,1431.0 1622.3,1431.0 1622.8,1431.0 1623.3,1431.0 1623.8,1431.0 1624.3,1431.0 1624.8,1431.0 1625.3,1431.0 1625.8,1431.0 1626.3,1431.0 1626.8,1431.0 1627.3,1431.0 1627.8,1431.0 1628.3,1431.0 1628.8,1431.0 1629.3,1431.0 1629.8,1431.0 1630.3,1431.0 1630.8,1431.0 1631.3,1431.0 1631.8,1431.0 1632.3,1431.0 1632.8,1431.0 1633.3,1431.0 1633.8,1431.0 1634.3,1431.0 1634.8,1431.0 1635.3,1431.0 1635.8,1431.0 1636.3,1431.0 1636.8,1431.0 1637.3,1431.0 1637.8,1431.0 1638.3,1431.0 1638.8,1431.0 1639.3,1431.0 1639.8,1431.0 1640.3,1431.0 1640.8,1431.0 1641.3,1431.0 1641.8,1431.0 1642.3,1431.0 1642.8,1431.0 1643.3,1431.0 1643.8,1431.0 1644.3,1431.0 1644.8,1431.0 1645.3,1431.0 1645.8,1431.0 1646.3,1431.0 1646.8,1431.0 1647.3,1431.0 1647.8,1431.0 1648.3,1431.0 1648.8,1431.0 1649.3,1431.0 1649.8,1431.0 1650.3,1431.0 1650.8,1431.0 1651.3,1431.0 1651.8,1431.0 1652.3,1431.0 1652.8,1431.0 1653.3,1431.0 1653.8,1431.0 1654.3,1431.0 1654.8,1431.0 1655.3,1431.0 1655.8,1431.0 1656.3,1431.0 1656.8,1431.0 1657.3,1431.0 1657.8,1431.0 1658.3,1431.0 1658.8,1431.0 1659.3,1431.0 1659.8,1431.0 1660.3,1431.0 1660.8,1431.0 1661.3,1431.0 1661.8,1431.0 1662.3,1431.0 1662.8,1431.0 1663.3,1431.0 1663.8,1431.0 1664.3,1431.0 1664.8,1431.0 1665.3,1431.0 1665.8,1431.0 1666.3,1431.0 1666.8,1431.0 1667.3,1431.0 1667.8,1431.0 1668.3,1431.0 1668.8,1431.0 1669.3,1431.0 1669.8,1431.0 1670.3,1431.0 1670.8,1431.0 1671.3,1431.0 1671.8,1431.0 1672.3,1431.0 1672.8,1431.0 1673.3,1431.0 1673.8,1431.0 1674.3,1431.0 1674.8,1431.0 1675.3,1431.0 1675.8,1431.0 1676.3,1431.0 1676.8,1431.0 1677.3,1431.0 1677.8,1431.0 1678.3,1431.0 1678.8,1431.0 1679.3,1431.0 1679.8,1431.0 1680.3,1431.0 1680.8,1431.0 1681.3,1431.0 1681.8,1431.0 1682.3,1431.0 1682.8,1431.0 1683.3,1431.0 1683.8,1431.0 1684.3,1431.0 1684.8,1431.0 1685.3,1431.0 1685.8,1431.0 1686.3,1431.0 1686.8,1431.0 1687.3,1431.0 1687.8,1431.0 1688.3,1431.0 1688.8,1431.0 1689.3,1431.0 1689.8,1431.0 1690.3,1431.0 1690.8,1431.0 1691.3,1431.0 1691.8,1431.0 1692.3,1431.0 1692.8,1431.0 1693.3,1431.0 1693.8,1431.0 1694.3,1431.0 1694.8,1431.0 1695.3,1431.0 1695.8,1431.0 1696.3,1431.0 1696.8,1431.0 1697.3,1431.0 1697.8,1431.0 1698.3,1431.0 1698.8,1431.0 1699.3,1431.0 1699.8,1431.0 1700.3,1431.0 1700.8,1431.0 1701.3,1431.0 1701.8,1431.0 1702.3,1431.0 1702.8,1431.0 1703.3,1431.0 1703.8,1431.0 1704.3,1431.0 1704.8,1431.0 1705.3,1431.0 1705.8,1431.0 1706.3,1431.0 1706.8,1431.0 1707.3,1431.0 1707.8,1431.0 1708.3,1431.0 1708.8,1431.0 1709.3,1431.0 1709.8,1431.0 1710.3,1431.0 1710.8,1431.0 1711.3,1431.0 1711.8,1431.0 1712.3,1431.0 1712.8,1431.0 1713.3,1431.0 1713.8,1431.0 1714.3,1431.0 1714.8,1431.0 1715.3,1431.0 1715.8,1431.0 1716.3,1431.0 1716.8,1431.0 1717.3,1431.0 1717.8,1431.0 1718.3,1431.0 1718.8,1431.0 1719.3,1431.0 1719.8,1431.0 1720.3,1431.0 1720.8,1431.0 1721.3,1431.0 1721.8,1431.0 1722.3,1431.0 1722.8,1431.0 1723.3,1431.0 1723.8,1431.0 1724.3,1431.0 1724.8,1431.0 1725.3,1431.0 1725.8,1431.0 1726.3,1431.0 1726.8,1431.0 1727.3,1431.0 1727.8,1431.0 1728.3,1431.0 1728.8,1431.0 1729.3,1431.0 1729.8,1431.0 1730.3,1431.0 1730.8,1431.0 1731.3,1431.0 1731.8,1431.0 1732.3,1431.0 1732.8,1431.0 1733.3,1431.0 1733.8,1431.0 1734.3,1431.0 1734.8,1431.0 1735.3,1431.0 1735.8,1431.0 1736.3,1431.0 1736.8,1431.0 1737.3,1431.0 1737.8,1431.0 1738.3,1431.0 1738.8,1431.0 1739.3,1431.0 1739.8,1431.0 1740.3,1431.0 1740.8,1431.0 1741.3,1431.0 1741.8,1431.0 1742.3,1431.0 1742.8,1431.0 1743.3,1431.0 1743.8,1431.0 1744.3,1431.0 1744.8,1431.0 1745.3,1431.0 1745.8,1431.0 1746.3,1431.0 1746.8,1431.0 1747.3,1431.0 1747.8,1431.0 1748.3,1431.0 1748.8,1431.0 1749.3,1431.0 1749.8,1431.0 1750.3,1431.0 1750.8,1431.0 1751.3,1431.0 1751.8,1431.0 1752.3,1431.0 1752.8,1431.0 1753.3,1431.0 1753.8,1431.0 1754.3,1431.0 1754.8,1431.0 1755.3,1431.0 1755.8,1431.0 1756.3,1431.0 1756.8,1431.0 1757.3,1431.0 1757.8,1431.0 1758.3,1431.0 1758.8,1431.0 1759.3,1431.0 1759.8,1431.0 1760.3,1431.0 1760.8,1431.0 1761.3,1431.0 1761.8,1431.0 1762.3,1431.0 1762.8,1431.0 1763.3,1431.0 1763.8,1431.0 1764.3,1431.0 1764.8,1431.0 1765.3,1431.0 1765.8,1431.0 1766.3,1431.0 1766.8,1431.0 1767.3,1431.0 1767.8,1431.0 1768.3,1431.0 1768.8,1431.0 1769.3,1431.0 1769.8,1431.0 1770.3,1431.0 1770.8,1431.0 1771.3,1431.0 1771.8,1431.0 1772.3,1431.0 1772.8,1431.0 1773.3,1431.0 1773.8,1431.0 1774.3,1431.0 1774.8,1431.0 1775.3,1431.0 1775.8,1431.0 1776.3,1431.0 1776.8,1431.0 1777.3,1431.0 1777.8,1431.0 1778.3,1431.0 1778.8,1431.0 1779.3,1431.0 1779.8,1431.0 1780.3,1431.0 1780.8,1431.0 1781.3,1431.0 1781.8,1431.0 1782.3,1431.0 1782.8,1431.0 1783.3,1431.0 1783.8,1431.0 1784.3,1431.0 1784.8,1431.0 1785.3,1431.0 1785.8,1431.0 1786.3,1431.0 1786.8,1431.0 1787.3,1431.0 1787.8,1431.0 1788.3,1431.0 1788.8,1431.0 1789.3,1431.0 1789.8,1431.0 1790.3,1431.0 1790.8,1431.0 1791.3,1431.0 1791.8,1431.0 1792.3,1431.0 1792.8,1431.0 1793.3,1431.0 1793.8,1431.0 1794.3,1431.0 1794.8,1431.0 1795.3,1431.0 1795.8,1431.0 1796.3,1431.0 1796.8,1431.0 1797.3,1431.0 1797.8,1431.0 1798.3,1431.0 1798.8,1431.0 1799.3,1431.0 1799.8,1431.0 1800.3,1431.0 1800.8,1431.0 1801.3,1431.0 1801.8,1431.0 1802.3,1431.0 1802.8,1431.0 1803.3,1431.0 1803.8,1431.0 1804.3,1431.0 1804.8,1431.0 1805.3,1431.0 1805.8,1431.0 1806.3,1431.0 1806.8,1431.0 1807.3,1431.0 1807.8,1431.0 1808.3,1431.0 1808.8,1431.0 1809.3,1431.0 1809.8,1431.0 1810.3,1431.0 1810.8,1431.0 1811.3,1431.0 1811.8,1431.0 1812.3,1431.0 1812.8,1431.0 1813.3,1431.0 1813.8,1431.0 1814.3,1431.0 1814.8,1431.0 1815.3,1431.0 1815.8,1431.0 1816.3,1431.0 1816.8,1431.0 1817.3,1431.0 1817.8,1431.0 1818.3,1431.0 1818.8,1431.0 1819.3,1431.0 1819.8,1431.0 1820.3,1431.0 1820.8,1431.0 1821.3,1431.0 1821.8,1431.0 1822.3,1431.0 1822.8,1431.0 1823.3,1431.0 1823.8,1431.0 1824.3,1431.0 1824.8,1431.0 1825.3,1431.0 1825.8,1431.0 1826.3,1431.0 1826.8,1431.0 1827.3,1431.0 1827.8,1431.0 1828.3,1431.0 1828.8,1431.0 1829.3,1431.0 1829.8,1431.0 1830.3,1431.0 1830.8,1431.0 1831.3,1431.0 1831.8,1431.0 1832.3,1431.0 1832.8,1431.0 1833.3,1431.0 1833.8,1431.0 1834.3,1431.0 1834.8,1431.0 1835.3,1431.0 1835.8,1431.0 1836.3,1431.0 1836.8,1431.0 1837.3,1431.0 1837.8,1431.0 1838.3,1431.0 1838.8,1431.0 1839.3,1431.0 1839.8,1431.0 1840.3,1431.0 1840.8,1431.0 1841.3,1431.0 1841.8,1431.0 1842.3,1431.0 1842.8,1431.0 1843.3,1431.0 1843.8,1431.0 1844.3,1431.0 1844.8,1431.0 1845.3,1431.0 1845.8,1431.0 1846.3,1431.0 1846.8,1431.0 1847.3,1431.0 1847.8,1431.0 1848.3,1431.0 1848.8,1431.0 1849.3,1431.0 1849.8,1431.0 1850.3,1431.0 1850.8,1431.0 1851.3,1431.0 1851.8,1431.0 1852.3,1431.0 1852.8,1431.0 1853.3,1431.0 1853.8,1431.0 1854.3,1431.0 1854.8,1431.0 1855.3,1431.0 1855.8,1431.0 1856.3,1431.0 1856.8,1431.0 1857.3,1431.0 1857.8,1431.0 1858.3,1431.0 1858.8,1431.0 1859.3,1431.0 1859.8,1431.0 1860.3,1431.0 1860.8,1431.0 1861.3,1431.0 1861.8,1431.0 1862.3,1431.0 1862.8,1431.0 1863.3,1431.0 1863.8,1431.0 1864.3,1431.0 1864.8,1431.0 1865.3,1431.0 1865.8,1431.0 1866.3,1431.0 1866.8,1431.0 1867.3,1431.0 1867.8,1431.0 1868.3,1431.0 1868.8,1431.0 1869.3,1431.0 1869.8,1431.0 1870.3,1431.0 1870.8,1431.0 1871.3,1431.0 1871.8,1431.0 1872.3,1431.0 1872.8,1431.0 1873.3,1431.0 1873.8,1431.0 1874.3,1431.0 1874.8,1431.0 1875.3,1431.0 1875.8,1431.0 1876.3,1431.0 1876.8,1431.0 1877.3,1431.0 1877.8,1431.0 1878.3,1431.0 1878.8,1431.0 1879.3,1431.0 1879.8,1431.0 1880.3,1431.0 1880.8,1431.0 1881.3,1431.0 1881.8,1431.0 1882.3,1431.0 1882.8,1431.0 1883.3,1431.0 1883.8,1431.0 1884.3,1431.0 1884.8,1431.0 1885.3,1431.0 1885.8,1431.0 1886.3,1431.0 1886.8,1431.0 1887.3,1431.0 1887.8,1431.0 1888.3,1431.0 1888.8,1431.0 1889.3,1431.0 1889.8,1431.0 1890.3,1431.0 1890.8,1431.0 1891.3,1431.0 1891.8,1431.0 1892.3,1431.0 1892.8,1431.0 1893.3,1431.0 1893.8,1431.0 1894.3,1431.0 1894.8,1431.0 1895.3,1431.0 1895.8,1431.0 1896.3,1431.0 1896.8,1431.0 1897.3,1431.0 1897.8,1431.0 1898.3,1431.0 1898.8,1431.0 1899.3,1431.0 1899.8,1431.0 1900.3,1431.0 1900.8,1431.0 1901.3,1431.0 1901.8,1431.0 1902.3,1431.0 1902.8,1431.0 1903.3,1431.0 1903.8,1431.0 1904.3,1431.0 1904.8,1431.0 1905.3,1431.0 1905.8,1431.0 1906.3,1431.0 1906.8,1431.0 1907.3,1431.0 1907.8,1431.0 1908.3,1431.0 1908.8,1431.0 1909.3,1431.0 1909.8,1431.0 1910.3,1431.0 1910.8,1431.0 1911.3,1431.0 1911.8,1431.0 1912.3,1431.0 1912.8,1431.0 1913.3,1431.0 1913.8,1431.0 1914.3,1431.0 1914.8,1431.0 1915.3,1431.0 1915.8,1431.0 1916.3,1431.0 1916.8,1431.0 1917.3,1431.0 1917.8,1431.0 1918.3,1431.0 1918.8,1431.0 1919.3,1431.0 1919.8,1431.0 1920.3,1431.0 1920.8,1431.0 1921.3,1431.0 1921.8,1431.0 1922.3,1431.0 1922.8,1431.0 1923.3,1431.0 1923.8,1431.0 1924.3,1431.0 1924.8,1431.0 1925.3,1431.0 1925.8,1431.0 1926.3,1431.0 1926.8,1431.0 1927.3,1431.0 1927.8,1431.0 1928.3,1431.0 1928.8,1431.0 1929.3,1431.0 1929.8,1431.0 1930.3,1431.0 1930.8,1431.0 1931.3,1431.0 1931.8,1431.0 1932.3,1431.0 1932.8,1431.0 1933.3,1431.0 1933.8,1431.0 1934.3,1431.0 1934.8,1431.0 1935.3,1431.0 1935.8,1431.0 1936.3,1431.0 1936.8,1431.0 1937.3,1431.0 1937.8,1431.0 1938.3,1431.0 1938.8,1431.0 1939.3,1431.0 1939.8,1431.0 1940.3,1431.0 1940.8,1431.0 1941.3,1431.0 1941.8,1431.0 1942.3,1431.0 1942.8,1431.0 1943.3,1431.0 1943.8,1431.0 1944.3,1431.0 1944.8,1431.0 1945.3,1431.0 1945.8,1431.0 1946.3,1431.0 1946.8,1431.0 1947.3,1431.0 1947.8,1431.0 1948.3,1431.0 1948.8,1431.0 1949.3,1431.0 1949.8,1431.0 1950.3,1431.0 1950.8,1431.0 1951.3,1431.0 1951.8,1431.0 1952.3,1431.0 1952.8,1431.0 1953.3,1431.0 1953.8,1431.0 1954.3,1431.0 1954.8,1431.0 1955.3,1431.0 1955.8,1431.0 1956.3,1431.0 1956.8,1431.0 1957.3,1431.0 1957.8,1431.0 1958.3,1431.0 1958.8,1431.0 1959.3,1431.0 1959.8,1431.0 1960.3,1431.0 1960.8,1431.0 1961.3,1431.0 1961.8,1431.0 1962.3,1431.0 1962.8,1431.0 1963.3,1431.0 1963.8,1431.0 1964.3,1431.0 1964.8,1431.0 1965.3,1431.0 1965.8,1431.0 1966.3,1431.0 1966.8,1431.0 1967.3,1431.0 1967.8,1431.0 1968.3,1431.0 1968.8,1431.0 1969.3,1431.0 1969.8,1431.0 1970.3,1431.0 1970.8,1431.0 1971.3,1431.0 1971.8,1431.0 1972.3,1431.0 1972.8,1431.0 1973.3,1431.0 1973.8,1431.0 1974.3,1431.0 1974.8,1431.0 1975.3,1431.0 1975.8,1431.0 1976.3,1431.0 1976.8,1431.0 1977.3,1431.0 1977.8,1431.0 1978.3,1431.0 1978.8,1431.0 1979.3,1431.0 1979.8,1431.0 1980.3,1431.0 1980.8,1431.0 1981.3,1431.0 1981.8,1431.0 1982.3,1431.0 1982.8,1431.0 1983.3,1431.0 1983.8,1431.0 1984.3,1431.0 1984.8,1431.0 1985.3,1431.0 1985.8,1431.0 1986.3,1431.0 1986.8,1431.0 1987.3,1431.0 1987.8,1431.0 1988.3,1431.0 1988.8,1431.0 1989.3,1431.0 1989.8,1431.0 1990.3,1431.0 1990.8,1431.0 1991.3,1431.0 1991.8,1431.0 1992.3,1431.0 1992.8,1431.0 1993.3,1431.0 1993.8,1431.0 1994.3,1431.0 1994.8,1431.0 1995.3,1431.0 1995.8,1431.0 1996.3,1431.0 1996.8,1431.0 1997.3,1431.0 1997.8,1431.0 1998.3,1431.0 1998.8,1431.0 1999.3,1431.0 1999.8,1431.0 2000.3,1431.0 2000.8,1431.0 2001.3,1431.0 2001.8,1431.0 2002.3,1431.0 2002.8,1431.0 2003.3,1431.0 2003.8,1431.0 2004.3,1431.0 2004.8,1431.0 2005.3,1431.0 2005.8,1431.0 2006.3,1431.0 2006.8,1431.0 2007.3,1431.0 2007.8,1431.0 2008.3,1431.0 2008.8,1431.0 2009.3,1431.0 2009.8,1431.0 2010.3,1431.0 2010.8,1431.0 2011.3,1431.0 2011.8,1431.0 2012.3,1431.0 2012.8,1431.0 2013.3,1431.0 2013.8,1431.0 2014.3,1431.0 2014.8,1431.0 2015.3,1431.0 2015.8,1431.0 2016.3,1431.0 2016.8,1431.0 2017.3,1431.0 2017.8,1431.0 2018.3,1431.0 2018.8,1431.0 2019.3,1431.0 2019.8,1431.0 2020.3,1431.0 2020.8,1431.0 2021.3,1431.0 2021.8,1431.0 2022.3,1431.0 2022.8,1431.0 2023.3,1431.0 2023.8,1431.0 2024.3,1431.0 2024.8,1431.0 2025.3,1431.0 2025.8,1431.0 2026.3,1431.0 2026.8,1431.0 2027.3,1431.0 2027.8,1431.0 2028.3,1431.0 2028.8,1431.0 2029.3,1431.0 2029.8,1431.0 2030.3,1431.0 2030.8,1431.0 2031.3,1431.0 2031.8,1431.0 2032.3,1431.0 2032.8,1431.0 2033.3,1431.0 2033.8,1431.0 2034.3,1431.0 2034.8,1431.0 2035.3,1431.0 2035.8,1431.0 2036.3,1431.0 2036.8,1431.0 2037.3,1431.0 2037.8,1431.0 2038.3,1431.0 2038.8,1431.0 2039.3,1431.0 2039.8,1431.0 2040.3,1431.0 2040.8,1431.0 2041.3,1431.0 2041.8,1431.0 2042.3,1431.0 2042.8,1431.0 2043.3,1431.0 2043.8,1431.0 2044.3,1431.0 2044.8,1431.0 2045.3,1431.0 2045.8,1431.0 2046.3,1431.0 2046.8,1431.0 2047.3,1431.0 2047.8,1431.0 2048.3,1431.0 2048.8,1431.0 2049.3,1431.0 2049.8,1431.0 2050.3,1431.0 2050.8,1431.0 2051.3,1431.0 2051.8,1431.0 2052.3,1431.0 2052.8,1431.0 2053.3,1431.0 2053.8,1431.0 2054.3,1431.0 2054.8,1431.0 2055.3,1431.0 2055.8,1431.0 2056.3,1431.0 2056.8,1431.0 2057.3,1431.0 2057.8,1431.0 2058.3,1431.0 2058.8,1431.0 2059.3,1431.0 2059.8,1431.0 2060.3,1431.0 2060.8,1431.0 2061.3,1431.0 2061.8,1431.0 2062.3,1431.0 2062.8,1431.0 2063.3,1431.0 2063.8,1431.0 2064.3,1431.0 2064.8,1431.0 2065.3,1431.0 2065.8,1431.0 2066.3,1431.0 2066.8,1431.0 2067.3,1431.0 2067.8,1431.0 2068.3,1431.0 2068.8,1431.0 2069.3,1431.0 2069.8,1431.0 2070.3,1431.0 2070.8,1431.0 2071.3,1431.0 2071.8,1431.0 2072.3,1431.0 2072.8,1431.0 2073.3,1431.0" fill="none" stroke="#505050" stroke-width="2.8" stroke-linejoin="round" clip-path="url(#clip803)"/>
<polyline points="2073.4,1431.0 2108.0,1431.0" fill="none" stroke="#4a4a4a" stroke-width="2.2" stroke-linejoin="round"/>
<line x1="202.80" y1="801.90" x2="202.80" y2="1451.50" stroke="#151515" stroke-width="3.8"/>
<line x1="202.80" y1="1450.50" x2="2074.90" y2="1450.50" stroke="#3c3c3c" stroke-width="4.5"/>
<line x1="185.80" y1="1431.00" x2="202.80" y2="1431.00" stroke="#303030" stroke-width="2.6"/>
<line x1="192.80" y1="1389.16" x2="202.80" y2="1389.16" stroke="#303030" stroke-width="2.6"/>
<line x1="192.80" y1="1347.32" x2="202.80" y2="1347.32" stroke="#303030" stroke-width="2.6"/>
<line x1="192.80" y1="1305.48" x2="202.80" y2="1305.48" stroke="#303030" stroke-width="2.6"/>
<line x1="192.80" y1="1263.64" x2="202.80" y2="1263.64" stroke="#303030" stroke-width="2.6"/>
<line x1="185.80" y1="1221.80" x2="202.80" y2="1221.80" stroke="#303030" stroke-width="2.6"/>
<line x1="192.80" y1="1179.96" x2="202.80" y2="1179.96" stroke="#303030" stroke-width="2.6"/>
<line x1="192.80" y1="1138.12" x2="202.80" y2="1138.12" stroke="#303030" stroke-width="2.6"/>
<line x1="192.80" y1="1096.28" x2="202.80" y2="1096.28" stroke="#303030" stroke-width="2.6"/>
<line x1="192.80" y1="1054.44" x2="202.80" y2="1054.44" stroke="#303030" stroke-width="2.6"/>
<line x1="185.80" y1="1012.60" x2="202.80" y2="1012.60" stroke="#303030" stroke-width="2.6"/>
<line x1="192.80" y1="970.76" x2="202.80" y2="970.76" stroke="#303030" stroke-width="2.6"/>
<line x1="192.80" y1="928.92" x2="202.80" y2="928.92" stroke="#303030" stroke-width="2.6"/>
<line x1="192.80" y1="887.08" x2="202.80" y2="887.08" stroke="#303030" stroke-width="2.6"/>
<line x1="192.80" y1="845.24" x2="202.80" y2="845.24" stroke="#303030" stroke-width="2.6"/>
<line x1="185.80" y1="803.40" x2="202.80" y2="803.40" stroke="#303030" stroke-width="2.6"/>
<line x1="202.80" y1="1450.50" x2="202.80" y2="1463.50" stroke="#303030" stroke-width="2.6"/>
<line x1="249.56" y1="1450.50" x2="249.56" y2="1458.50" stroke="#303030" stroke-width="2.6"/>
<line x1="296.33" y1="1450.50" x2="296.33" y2="1458.50" stroke="#303030" stroke-width="2.6"/>
<line x1="343.10" y1="1450.50" x2="343.10" y2="1458.50" stroke="#303030" stroke-width="2.6"/>
<line x1="389.86" y1="1450.50" x2="389.86" y2="1458.50" stroke="#303030" stroke-width="2.6"/>
<line x1="436.62" y1="1450.50" x2="436.62" y2="1463.50" stroke="#303030" stroke-width="2.6"/>
<line x1="483.39" y1="1450.50" x2="483.39" y2="1458.50" stroke="#303030" stroke-width="2.6"/>
<line x1="530.15" y1="1450.50" x2="530.15" y2="1458.50" stroke="#303030" stroke-width="2.6"/>
<line x1="576.92" y1="1450.50" x2="576.92" y2="1458.50" stroke="#303030" stroke-width="2.6"/>
<line x1="623.68" y1="1450.50" x2="623.68" y2="1458.50" stroke="#303030" stroke-width="2.6"/>
<line x1="670.45" y1="1450.50" x2="670.45" y2="1463.50" stroke="#303030" stroke-width="2.6"/>
<line x1="717.21" y1="1450.50" x2="717.21" y2="1458.50" stroke="#303030" stroke-width="2.6"/>
<line x1="763.98" y1="1450.50" x2="763.98" y2="1458.50" stroke="#303030" stroke-width="2.6"/>
<line x1="810.75" y1="1450.50" x2="810.75" y2="1458.50" stroke="#303030" stroke-width="2.6"/>
<line x1="857.51" y1="1450.50" x2="857.51" y2="1458.50" stroke="#303030" stroke-width="2.6"/>
<line x1="904.28" y1="1450.50" x2="904.28" y2="1463.50" stroke="#303030" stroke-width="2.6"/>
<line x1="951.04" y1="1450.50" x2="951.04" y2="1458.50" stroke="#303030" stroke-width="2.6"/>
<line x1="997.81" y1="1450.50" x2="997.81" y2="1458.50" stroke="#303030" stroke-width="2.6"/>
<line x1="1044.57" y1="1450.50" x2="1044.57" y2="1458.50" stroke="#303030" stroke-width="2.6"/>
<line x1="1091.34" y1="1450.50" x2="1091.34" y2="1458.50" stroke="#303030" stroke-width="2.6"/>
<line x1="1138.10" y1="1450.50" x2="1138.10" y2="1463.50" stroke="#303030" stroke-width="2.6"/>
<line x1="1184.87" y1="1450.50" x2="1184.87" y2="1458.50" stroke="#303030" stroke-width="2.6"/>
<line x1="1231.63" y1="1450.50" x2="1231.63" y2="1458.50" stroke="#303030" stroke-width="2.6"/>
<line x1="1278.39" y1="1450.50" x2="1278.39" y2="1458.50" stroke="#303030" stroke-width="2.6"/>
<line x1="1325.16" y1="1450.50" x2="1325.16" y2="1458.50" stroke="#303030" stroke-width="2.6"/>
<line x1="1371.92" y1="1450.50" x2="1371.92" y2="1463.50" stroke="#303030" stroke-width="2.6"/>
<line x1="1418.69" y1="1450.50" x2="1418.69" y2="1458.50" stroke="#303030" stroke-width="2.6"/>
<line x1="1465.45" y1="1450.50" x2="1465.45" y2="1458.50" stroke="#303030" stroke-width="2.6"/>
<line x1="1512.22" y1="1450.50" x2="1512.22" y2="1458.50" stroke="#303030" stroke-width="2.6"/>
<line x1="1558.98" y1="1450.50" x2="1558.98" y2="1458.50" stroke="#303030" stroke-width="2.6"/>
<line x1="1605.75" y1="1450.50" x2="1605.75" y2="1463.50" stroke="#303030" stroke-width="2.6"/>
<line x1="1652.51" y1="1450.50" x2="1652.51" y2="1458.50" stroke="#303030" stroke-width="2.6"/>
<line x1="1699.28" y1="1450.50" x2="1699.28" y2="1458.50" stroke="#303030" stroke-width="2.6"/>
<line x1="1746.05" y1="1450.50" x2="1746.05" y2="1458.50" stroke="#303030" stroke-width="2.6"/>
<line x1="1792.81" y1="1450.50" x2="1792.81" y2="1458.50" stroke="#303030" stroke-width="2.6"/>
<line x1="1839.58" y1="1450.50" x2="1839.58" y2="1463.50" stroke="#303030" stroke-width="2.6"/>
<line x1="1886.34" y1="1450.50" x2="1886.34" y2="1458.50" stroke="#303030" stroke-width="2.6"/>
<line x1="1933.11" y1="1450.50" x2="1933.11" y2="1458.50" stroke="#303030" stroke-width="2.6"/>
<line x1="1979.87" y1="1450.50" x2="1979.87" y2="1458.50" stroke="#303030" stroke-width="2.6"/>
<line x1="2026.63" y1="1450.50" x2="2026.63" y2="1458.50" stroke="#303030" stroke-width="2.6"/>
<line x1="2073.40" y1="1450.50" x2="2073.40" y2="1463.50" stroke="#303030" stroke-width="2.6"/>
<text transform="translate(186.50,814.32) scale(1.0,1.06)" font-family="'Liberation Serif', 'Times New Roman', serif" font-size="32" text-anchor="end" font-weight="normal" font-style="normal" fill="#000" stroke="#000" stroke-width="2.0">300,000</text>
<text transform="translate(186.50,1023.52) scale(1.0,1.06)" font-family="'Liberation Serif', 'Times New Roman', serif" font-size="32" text-anchor="end" font-weight="normal" font-style="normal" fill="#000" stroke="#000" stroke-width="2.0">200,000</text>
<text transform="translate(186.50,1232.72) scale(1.0,1.06)" font-family="'Liberation Serif', 'Times New Roman', serif" font-size="32" text-anchor="end" font-weight="normal" font-style="normal" fill="#000" stroke="#000" stroke-width="2.0">100,000</text>
<text transform="translate(186.50,1441.92) scale(1.0,1.06)" font-family="'Liberation Serif', 'Times New Roman', serif" font-size="32" text-anchor="end" font-weight="normal" font-style="normal" fill="#000" stroke="#000" stroke-width="2.0">0</text>
<text transform="translate(202.80,1501.50) scale(1.0,1.06)" font-family="'Liberation Serif', 'Times New Roman', serif" font-size="32" text-anchor="middle" font-weight="normal" font-style="normal" fill="#000" stroke="#000" stroke-width="2.0">0.0</text>
<text transform="translate(436.62,1501.50) scale(1.0,1.06)" font-family="'Liberation Serif', 'Times New Roman', serif" font-size="32" text-anchor="middle" font-weight="normal" font-style="normal" fill="#000" stroke="#000" stroke-width="2.0">2.5</text>
<text transform="translate(670.45,1501.50) scale(1.0,1.06)" font-family="'Liberation Serif', 'Times New Roman', serif" font-size="32" text-anchor="middle" font-weight="normal" font-style="normal" fill="#000" stroke="#000" stroke-width="2.0">5.0</text>
<text transform="translate(904.28,1501.50) scale(1.0,1.06)" font-family="'Liberation Serif', 'Times New Roman', serif" font-size="32" text-anchor="middle" font-weight="normal" font-style="normal" fill="#000" stroke="#000" stroke-width="2.0">7.5</text>
<text transform="translate(1138.10,1501.50) scale(1.0,1.06)" font-family="'Liberation Serif', 'Times New Roman', serif" font-size="32" text-anchor="middle" font-weight="normal" font-style="normal" fill="#000" stroke="#000" stroke-width="2.0">10.0</text>
<text transform="translate(1371.92,1501.50) scale(1.0,1.06)" font-family="'Liberation Serif', 'Times New Roman', serif" font-size="32" text-anchor="middle" font-weight="normal" font-style="normal" fill="#000" stroke="#000" stroke-width="2.0">12.5</text>
<text transform="translate(1605.75,1501.50) scale(1.0,1.06)" font-family="'Liberation Serif', 'Times New Roman', serif" font-size="32" text-anchor="middle" font-weight="normal" font-style="normal" fill="#000" stroke="#000" stroke-width="2.0">15.0</text>
<text transform="translate(1839.58,1501.50) scale(1.0,1.06)" font-family="'Liberation Serif', 'Times New Roman', serif" font-size="32" text-anchor="middle" font-weight="normal" font-style="normal" fill="#000" stroke="#000" stroke-width="2.0">17.5</text>
<text transform="translate(2073.40,1501.50) scale(1.0,1.06)" font-family="'Liberation Serif', 'Times New Roman', serif" font-size="32" text-anchor="middle" font-weight="normal" font-style="normal" fill="#000" stroke="#000" stroke-width="2.0">20.0</text>
<text transform="translate(2111.00,1442.50) scale(1.0,1.06)" font-family="'Liberation Serif', 'Times New Roman', serif" font-size="33" text-anchor="start" font-weight="normal" font-style="normal" fill="#000" stroke="#000" stroke-width="2.0">1PDA Multi 1</text>
<text transform="translate(487.72,1390.00) rotate(-90) scale(1.06,1.0)" font-family="'Liberation Serif', 'Times New Roman', serif" font-size="33.5" text-anchor="start" font-weight="normal" font-style="normal" fill="#000" stroke="#000" stroke-width="2.0">2.656</text>
<text transform="translate(542.24,1417.00) rotate(-90) scale(1.06,1.0)" font-family="'Liberation Serif', 'Times New Roman', serif" font-size="33.5" text-anchor="start" font-weight="normal" font-style="normal" fill="#000" stroke="#000" stroke-width="2.0">3.239</text>
<text transform="translate(571.52,1417.00) rotate(-90) scale(1.06,1.0)" font-family="'Liberation Serif', 'Times New Roman', serif" font-size="33.5" text-anchor="start" font-weight="normal" font-style="normal" fill="#000" stroke="#000" stroke-width="2.0">3.552</text>
<text transform="translate(586.67,1417.00) rotate(-90) scale(1.06,1.0)" font-family="'Liberation Serif', 'Times New Roman', serif" font-size="33.5" text-anchor="start" font-weight="normal" font-style="normal" fill="#000" stroke="#000" stroke-width="2.0">3.714</text>
<text transform="translate(606.50,1405.00) rotate(-90) scale(1.06,1.0)" font-family="'Liberation Serif', 'Times New Roman', serif" font-size="33.5" text-anchor="start" font-weight="normal" font-style="normal" fill="#000" stroke="#000" stroke-width="2.0">3.926</text>
<text transform="translate(647.56,1418.00) rotate(-90) scale(1.06,1.0)" font-family="'Liberation Serif', 'Times New Roman', serif" font-size="33.5" text-anchor="start" font-weight="normal" font-style="normal" fill="#000" stroke="#000" stroke-width="2.0">4.365</text>
<text transform="translate(670.57,1418.00) rotate(-90) scale(1.06,1.0)" font-family="'Liberation Serif', 'Times New Roman', serif" font-size="33.5" text-anchor="start" font-weight="normal" font-style="normal" fill="#000" stroke="#000" stroke-width="2.0">4.611</text>
<text transform="translate(697.22,1417.00) rotate(-90) scale(1.06,1.0)" font-family="'Liberation Serif', 'Times New Roman', serif" font-size="33.5" text-anchor="start" font-weight="normal" font-style="normal" fill="#000" stroke="#000" stroke-width="2.0">4.896</text>
<text transform="translate(722.29,1416.00) rotate(-90) scale(1.06,1.0)" font-family="'Liberation Serif', 'Times New Roman', serif" font-size="33.5" text-anchor="start" font-weight="normal" font-style="normal" fill="#000" stroke="#000" stroke-width="2.0">5.164</text>
<text transform="translate(761.95,970.00) rotate(-90) scale(1.06,1.0)" font-family="'Liberation Serif', 'Times New Roman', serif" font-size="33.5" text-anchor="start" font-weight="normal" font-style="normal" fill="#000" stroke="#000" stroke-width="2.0">5.588</text>
<text transform="translate(942.93,1417.00) rotate(-90) scale(1.06,1.0)" font-family="'Liberation Serif', 'Times New Roman', serif" font-size="33.5" text-anchor="start" font-weight="normal" font-style="normal" fill="#000" stroke="#000" stroke-width="2.0">7.523</text>
<text transform="translate(1252.23,1417.00) rotate(-90) scale(1.06,1.0)" font-family="'Liberation Serif', 'Times New Roman', serif" font-size="33.5" text-anchor="start" font-weight="normal" font-style="normal" fill="#000" stroke="#000" stroke-width="2.0">10.830</text>
<clipPath id="uvclip"><rect x="0" y="27.5" width="200" height="40"/></clipPath>
<g clip-path="url(#uvclip)">
<text transform="translate(35.00,42.50) scale(1.0,0.9)" font-family="'Liberation Serif', 'Times New Roman', serif" font-size="31" text-anchor="start" font-weight="normal" font-style="normal" fill="#000" stroke="#000" stroke-width="2.0">uV</text>
</g>
<text transform="translate(35.00,794.00) scale(1.0,1.06)" font-family="'Liberation Serif', 'Times New Roman', serif" font-size="31" text-anchor="start" font-weight="normal" font-style="normal" fill="#000" stroke="#000" stroke-width="2.0">uV</text>
<text transform="translate(2076.00,1536.00) scale(1.0,1.06)" font-family="'Liberation Serif', 'Times New Roman', serif" font-size="32" text-anchor="end" font-weight="normal" font-style="normal" fill="#000" stroke="#000" stroke-width="2.0">min</text>
<text transform="translate(1203.50,137.00) scale(1.0,1.05)" font-family="'Liberation Sans', Arial, sans-serif" font-size="97" text-anchor="middle" font-weight="bold" font-style="normal" fill="#000" stroke="#000" stroke-width="1.9">A</text>
<text transform="translate(1203.50,892.00) scale(1.0,1.05)" font-family="'Liberation Sans', Arial, sans-serif" font-size="97" text-anchor="middle" font-weight="bold" font-style="normal" fill="#000" stroke="#000" stroke-width="1.9">B</text>
<text transform="translate(1203.50,1658.00) scale(1.0,1.06)" font-family="'Liberation Sans', Arial, sans-serif" font-size="97" text-anchor="middle" font-weight="bold" font-style="normal" fill="#000" stroke="#000" stroke-width="1.9">C</text>
<line x1="313.00" y1="1642.00" x2="313.00" y2="2630.50" stroke="#9a9a9a" stroke-width="3.2"/>
<line x1="311.50" y1="2629.00" x2="2180.00" y2="2629.00" stroke="#9a9a9a" stroke-width="3.2"/>
<line x1="294.00" y1="2629.00" x2="313.00" y2="2629.00" stroke="#9a9a9a" stroke-width="3"/>
<text transform="translate(265.00,2649.50) scale(1.0,1.07)" font-family="'Liberation Sans', Arial, sans-serif" font-size="58" text-anchor="end" font-weight="normal" font-style="normal" fill="#000" stroke="#000" stroke-width="1.9">0</text>
<line x1="294.00" y1="2464.67" x2="313.00" y2="2464.67" stroke="#9a9a9a" stroke-width="3"/>
<text transform="translate(265.00,2485.17) scale(1.0,1.07)" font-family="'Liberation Sans', Arial, sans-serif" font-size="58" text-anchor="end" font-weight="normal" font-style="normal" fill="#000" stroke="#000" stroke-width="1.9">20</text>
<line x1="294.00" y1="2300.33" x2="313.00" y2="2300.33" stroke="#9a9a9a" stroke-width="3"/>
<text transform="translate(265.00,2320.83) scale(1.0,1.07)" font-family="'Liberation Sans', Arial, sans-serif" font-size="58" text-anchor="end" font-weight="normal" font-style="normal" fill="#000" stroke="#000" stroke-width="1.9">40</text>
<line x1="294.00" y1="2136.00" x2="313.00" y2="2136.00" stroke="#9a9a9a" stroke-width="3"/>
<text transform="translate(265.00,2156.50) scale(1.0,1.07)" font-family="'Liberation Sans', Arial, sans-serif" font-size="58" text-anchor="end" font-weight="normal" font-style="normal" fill="#000" stroke="#000" stroke-width="1.9">60</text>
<line x1="294.00" y1="1971.67" x2="313.00" y2="1971.67" stroke="#9a9a9a" stroke-width="3"/>
<text transform="translate(265.00,1992.17) scale(1.0,1.07)" font-family="'Liberation Sans', Arial, sans-serif" font-size="58" text-anchor="end" font-weight="normal" font-style="normal" fill="#000" stroke="#000" stroke-width="1.9">80</text>
<line x1="294.00" y1="1807.33" x2="313.00" y2="1807.33" stroke="#9a9a9a" stroke-width="3"/>
<text transform="translate(265.00,1827.83) scale(1.0,1.07)" font-family="'Liberation Sans', Arial, sans-serif" font-size="58" text-anchor="end" font-weight="normal" font-style="normal" fill="#000" stroke="#000" stroke-width="1.9">100</text>
<line x1="294.00" y1="1643.00" x2="313.00" y2="1643.00" stroke="#9a9a9a" stroke-width="3"/>
<text transform="translate(265.00,1663.50) scale(1.0,1.07)" font-family="'Liberation Sans', Arial, sans-serif" font-size="58" text-anchor="end" font-weight="normal" font-style="normal" fill="#000" stroke="#000" stroke-width="1.9">120</text>
<line x1="313.00" y1="2629.00" x2="313.00" y2="2645.00" stroke="#9a9a9a" stroke-width="3"/>
<line x1="499.70" y1="2629.00" x2="499.70" y2="2645.00" stroke="#9a9a9a" stroke-width="3"/>
<line x1="686.40" y1="2629.00" x2="686.40" y2="2645.00" stroke="#9a9a9a" stroke-width="3"/>
<line x1="873.10" y1="2629.00" x2="873.10" y2="2645.00" stroke="#9a9a9a" stroke-width="3"/>
<line x1="1059.80" y1="2629.00" x2="1059.80" y2="2645.00" stroke="#9a9a9a" stroke-width="3"/>
<line x1="1246.50" y1="2629.00" x2="1246.50" y2="2645.00" stroke="#9a9a9a" stroke-width="3"/>
<line x1="1433.20" y1="2629.00" x2="1433.20" y2="2645.00" stroke="#9a9a9a" stroke-width="3"/>
<line x1="1619.90" y1="2629.00" x2="1619.90" y2="2645.00" stroke="#9a9a9a" stroke-width="3"/>
<line x1="1806.60" y1="2629.00" x2="1806.60" y2="2645.00" stroke="#9a9a9a" stroke-width="3"/>
<line x1="1993.30" y1="2629.00" x2="1993.30" y2="2645.00" stroke="#9a9a9a" stroke-width="3"/>
<line x1="2180.00" y1="2629.00" x2="2180.00" y2="2645.00" stroke="#9a9a9a" stroke-width="3"/>
<text transform="translate(406.35,2717.00) scale(1.0,1.06)" font-family="'Liberation Sans', Arial, sans-serif" font-size="57" text-anchor="middle" font-weight="normal" font-style="normal" fill="#000" stroke="#000" stroke-width="1.9">0</text>
<text transform="translate(593.05,2717.00) scale(1.0,1.06)" font-family="'Liberation Sans', Arial, sans-serif" font-size="57" text-anchor="middle" font-weight="normal" font-style="normal" fill="#000" stroke="#000" stroke-width="1.9">1</text>
<text transform="translate(779.75,2717.00) scale(1.0,1.06)" font-family="'Liberation Sans', Arial, sans-serif" font-size="57" text-anchor="middle" font-weight="normal" font-style="normal" fill="#000" stroke="#000" stroke-width="1.9">2</text>
<text transform="translate(966.45,2717.00) scale(1.0,1.06)" font-family="'Liberation Sans', Arial, sans-serif" font-size="57" text-anchor="middle" font-weight="normal" font-style="normal" fill="#000" stroke="#000" stroke-width="1.9">3</text>
<text transform="translate(1153.15,2717.00) scale(1.0,1.06)" font-family="'Liberation Sans', Arial, sans-serif" font-size="57" text-anchor="middle" font-weight="normal" font-style="normal" fill="#000" stroke="#000" stroke-width="1.9">4</text>
<text transform="translate(1339.85,2717.00) scale(1.0,1.06)" font-family="'Liberation Sans', Arial, sans-serif" font-size="57" text-anchor="middle" font-weight="normal" font-style="normal" fill="#000" stroke="#000" stroke-width="1.9">5</text>
<text transform="translate(1526.55,2717.00) scale(1.0,1.06)" font-family="'Liberation Sans', Arial, sans-serif" font-size="57" text-anchor="middle" font-weight="normal" font-style="normal" fill="#000" stroke="#000" stroke-width="1.9">6</text>
<text transform="translate(1713.25,2717.00) scale(1.0,1.06)" font-family="'Liberation Sans', Arial, sans-serif" font-size="57" text-anchor="middle" font-weight="normal" font-style="normal" fill="#000" stroke="#000" stroke-width="1.9">7</text>
<text transform="translate(1899.95,2717.00) scale(1.0,1.06)" font-family="'Liberation Sans', Arial, sans-serif" font-size="57" text-anchor="middle" font-weight="normal" font-style="normal" fill="#000" stroke="#000" stroke-width="1.9">8</text>
<text transform="translate(2086.65,2717.00) scale(1.0,1.06)" font-family="'Liberation Sans', Arial, sans-serif" font-size="57" text-anchor="middle" font-weight="normal" font-style="normal" fill="#000" stroke="#000" stroke-width="1.9">10</text>
<text transform="translate(1214.50,2820.00) scale(1.0,1.02)" font-family="'Liberation Sans', Arial, sans-serif" font-size="72.5" text-anchor="middle" font-weight="normal" font-style="normal" fill="#000" stroke="#000" stroke-width="1.9">Days</text>
<text transform="translate(93.50,2108.00) rotate(-90)" font-family="'Liberation Sans', Arial, sans-serif" font-size="77.5" text-anchor="middle" font-weight="bold" font-style="normal" fill="#000" stroke="#000" stroke-width="1.9">ABA content, mg/L</text>
<polyline points="406.4,1805.0 593.0,1821.5 779.8,1822.0 966.4,1822.0 1153.2,1823.0 1339.8,1823.0 1526.5,1823.0 1713.2,1823.0 1899.9,1823.0 2086.6,1822.0" fill="none" stroke="#000" stroke-width="12.5" stroke-linejoin="round"/>
<line x1="406.35" y1="1780.00" x2="406.35" y2="1830.00" stroke="#111" stroke-width="4.8"/>
<line x1="391.85" y1="1780.00" x2="420.85" y2="1780.00" stroke="#111" stroke-width="5.2"/>
<line x1="391.85" y1="1830.00" x2="420.85" y2="1830.00" stroke="#111" stroke-width="5.2"/>
<line x1="593.05" y1="1792.00" x2="593.05" y2="1854.00" stroke="#111" stroke-width="4.8"/>
<line x1="578.55" y1="1792.00" x2="607.55" y2="1792.00" stroke="#111" stroke-width="5.2"/>
<line x1="578.55" y1="1854.00" x2="607.55" y2="1854.00" stroke="#111" stroke-width="5.2"/>
<line x1="779.75" y1="1782.70" x2="779.75" y2="1861.00" stroke="#111" stroke-width="4.8"/>
<line x1="765.25" y1="1782.70" x2="794.25" y2="1782.70" stroke="#111" stroke-width="5.2"/>
<line x1="765.25" y1="1861.00" x2="794.25" y2="1861.00" stroke="#111" stroke-width="5.2"/>
<line x1="966.45" y1="1779.40" x2="966.45" y2="1863.00" stroke="#111" stroke-width="4.8"/>
<line x1="951.95" y1="1779.40" x2="980.95" y2="1779.40" stroke="#111" stroke-width="5.2"/>
<line x1="951.95" y1="1863.00" x2="980.95" y2="1863.00" stroke="#111" stroke-width="5.2"/>
<line x1="1153.15" y1="1789.80" x2="1153.15" y2="1857.00" stroke="#111" stroke-width="4.8"/>
<line x1="1138.65" y1="1789.80" x2="1167.65" y2="1789.80" stroke="#111" stroke-width="5.2"/>
<line x1="1138.65" y1="1857.00" x2="1167.65" y2="1857.00" stroke="#111" stroke-width="5.2"/>
<line x1="1339.85" y1="1780.00" x2="1339.85" y2="1865.70" stroke="#111" stroke-width="4.8"/>
<line x1="1325.35" y1="1780.00" x2="1354.35" y2="1780.00" stroke="#111" stroke-width="5.2"/>
<line x1="1325.35" y1="1865.70" x2="1354.35" y2="1865.70" stroke="#111" stroke-width="5.2"/>
<line x1="1526.55" y1="1782.70" x2="1526.55" y2="1863.00" stroke="#111" stroke-width="4.8"/>
<line x1="1512.05" y1="1782.70" x2="1541.05" y2="1782.70" stroke="#111" stroke-width="5.2"/>
<line x1="1512.05" y1="1863.00" x2="1541.05" y2="1863.00" stroke="#111" stroke-width="5.2"/>
<line x1="1713.25" y1="1782.70" x2="1713.25" y2="1863.00" stroke="#111" stroke-width="4.8"/>
<line x1="1698.75" y1="1782.70" x2="1727.75" y2="1782.70" stroke="#111" stroke-width="5.2"/>
<line x1="1698.75" y1="1863.00" x2="1727.75" y2="1863.00" stroke="#111" stroke-width="5.2"/>
<line x1="1899.95" y1="1782.70" x2="1899.95" y2="1866.50" stroke="#111" stroke-width="4.8"/>
<line x1="1885.45" y1="1782.70" x2="1914.45" y2="1782.70" stroke="#111" stroke-width="5.2"/>
<line x1="1885.45" y1="1866.50" x2="1914.45" y2="1866.50" stroke="#111" stroke-width="5.2"/>
<line x1="2086.65" y1="1783.40" x2="2086.65" y2="1866.50" stroke="#111" stroke-width="4.8"/>
<line x1="2072.15" y1="1783.40" x2="2101.15" y2="1783.40" stroke="#111" stroke-width="5.2"/>
<line x1="2072.15" y1="1866.50" x2="2101.15" y2="1866.50" stroke="#111" stroke-width="5.2"/>
<polygon points="406.4,1785.2 426.2,1805.0 406.4,1824.8 386.6,1805.0" fill="#1d5fd1" stroke="#000" stroke-width="6.8" stroke-linejoin="miter"/>
<polygon points="593.0,1801.7 612.8,1821.5 593.0,1841.3 573.2,1821.5" fill="#1d5fd1" stroke="#000" stroke-width="6.8" stroke-linejoin="miter"/>
<polygon points="779.8,1802.2 799.5,1822.0 779.8,1841.8 760.0,1822.0" fill="#1d5fd1" stroke="#000" stroke-width="6.8" stroke-linejoin="miter"/>
<polygon points="966.4,1802.2 986.2,1822.0 966.4,1841.8 946.6,1822.0" fill="#1d5fd1" stroke="#000" stroke-width="6.8" stroke-linejoin="miter"/>
<polygon points="1153.2,1803.2 1173.0,1823.0 1153.2,1842.8 1133.4,1823.0" fill="#1d5fd1" stroke="#000" stroke-width="6.8" stroke-linejoin="miter"/>
<polygon points="1339.8,1803.2 1359.6,1823.0 1339.8,1842.8 1320.0,1823.0" fill="#1d5fd1" stroke="#000" stroke-width="6.8" stroke-linejoin="miter"/>
<polygon points="1526.5,1803.2 1546.3,1823.0 1526.5,1842.8 1506.8,1823.0" fill="#1d5fd1" stroke="#000" stroke-width="6.8" stroke-linejoin="miter"/>
<polygon points="1713.2,1803.2 1733.0,1823.0 1713.2,1842.8 1693.5,1823.0" fill="#1d5fd1" stroke="#000" stroke-width="6.8" stroke-linejoin="miter"/>
<polygon points="1899.9,1803.2 1919.7,1823.0 1899.9,1842.8 1880.1,1823.0" fill="#1d5fd1" stroke="#000" stroke-width="6.8" stroke-linejoin="miter"/>
<polygon points="2086.6,1802.2 2106.4,1822.0 2086.6,1841.8 2066.8,1822.0" fill="#1d5fd1" stroke="#000" stroke-width="6.8" stroke-linejoin="miter"/>
<polyline points="406.4,1818.0 593.0,1903.0 779.8,1980.6 966.4,1999.2 1153.2,2017.9 1339.8,2021.2 1526.5,2036.6 1713.2,2052.0 1899.9,2067.3 2086.6,2072.3" fill="none" stroke="#000" stroke-width="12.5" stroke-linejoin="round"/>
<line x1="406.35" y1="1810.00" x2="406.35" y2="1851.00" stroke="#111" stroke-width="4.8"/>
<line x1="391.85" y1="1810.00" x2="420.85" y2="1810.00" stroke="#111" stroke-width="5.2"/>
<line x1="391.85" y1="1851.00" x2="420.85" y2="1851.00" stroke="#111" stroke-width="5.2"/>
<line x1="593.05" y1="1879.00" x2="593.05" y2="1928.50" stroke="#111" stroke-width="4.8"/>
<line x1="578.55" y1="1879.00" x2="607.55" y2="1879.00" stroke="#111" stroke-width="5.2"/>
<line x1="578.55" y1="1928.50" x2="607.55" y2="1928.50" stroke="#111" stroke-width="5.2"/>
<line x1="779.75" y1="1956.50" x2="779.75" y2="2005.50" stroke="#111" stroke-width="4.8"/>
<line x1="765.25" y1="1956.50" x2="794.25" y2="1956.50" stroke="#111" stroke-width="5.2"/>
<line x1="765.25" y1="2005.50" x2="794.25" y2="2005.50" stroke="#111" stroke-width="5.2"/>
<line x1="966.45" y1="1973.00" x2="966.45" y2="2025.40" stroke="#111" stroke-width="4.8"/>
<line x1="951.95" y1="1973.00" x2="980.95" y2="1973.00" stroke="#111" stroke-width="5.2"/>
<line x1="951.95" y1="2025.40" x2="980.95" y2="2025.40" stroke="#111" stroke-width="5.2"/>
<line x1="1153.15" y1="1997.00" x2="1153.15" y2="2044.00" stroke="#111" stroke-width="4.8"/>
<line x1="1138.65" y1="1997.00" x2="1167.65" y2="1997.00" stroke="#111" stroke-width="5.2"/>
<line x1="1138.65" y1="2044.00" x2="1167.65" y2="2044.00" stroke="#111" stroke-width="5.2"/>
<line x1="1339.85" y1="1993.00" x2="1339.85" y2="2049.00" stroke="#111" stroke-width="4.8"/>
<line x1="1325.35" y1="1993.00" x2="1354.35" y2="1993.00" stroke="#111" stroke-width="5.2"/>
<line x1="1325.35" y1="2049.00" x2="1354.35" y2="2049.00" stroke="#111" stroke-width="5.2"/>
<line x1="1526.55" y1="2009.60" x2="1526.55" y2="2064.80" stroke="#111" stroke-width="4.8"/>
<line x1="1512.05" y1="2009.60" x2="1541.05" y2="2009.60" stroke="#111" stroke-width="5.2"/>
<line x1="1512.05" y1="2064.80" x2="1541.05" y2="2064.80" stroke="#111" stroke-width="5.2"/>
<line x1="1713.25" y1="2022.00" x2="1713.25" y2="2085.00" stroke="#111" stroke-width="4.8"/>
<line x1="1698.75" y1="2022.00" x2="1727.75" y2="2022.00" stroke="#111" stroke-width="5.2"/>
<line x1="1698.75" y1="2085.00" x2="1727.75" y2="2085.00" stroke="#111" stroke-width="5.2"/>
<line x1="1899.95" y1="2034.10" x2="1899.95" y2="2099.50" stroke="#111" stroke-width="4.8"/>
<line x1="1885.45" y1="2034.10" x2="1914.45" y2="2034.10" stroke="#111" stroke-width="5.2"/>
<line x1="1885.45" y1="2099.50" x2="1914.45" y2="2099.50" stroke="#111" stroke-width="5.2"/>
<line x1="2086.65" y1="2040.60" x2="2086.65" y2="2108.80" stroke="#111" stroke-width="4.8"/>
<line x1="2072.15" y1="2040.60" x2="2101.15" y2="2040.60" stroke="#111" stroke-width="5.2"/>
<line x1="2072.15" y1="2108.80" x2="2101.15" y2="2108.80" stroke="#111" stroke-width="5.2"/>
<rect x="391.9" y="1803.5" width="29.0" height="29.0" fill="#dc0000" stroke="#8a0000" stroke-width="1.5"/>
<rect x="578.5" y="1888.5" width="29.0" height="29.0" fill="#dc0000" stroke="#8a0000" stroke-width="1.5"/>
<rect x="765.2" y="1966.1" width="29.0" height="29.0" fill="#dc0000" stroke="#8a0000" stroke-width="1.5"/>
<rect x="951.9" y="1984.7" width="29.0" height="29.0" fill="#dc0000" stroke="#8a0000" stroke-width="1.5"/>
<rect x="1138.7" y="2003.4" width="29.0" height="29.0" fill="#dc0000" stroke="#8a0000" stroke-width="1.5"/>
<rect x="1325.3" y="2006.7" width="29.0" height="29.0" fill="#dc0000" stroke="#8a0000" stroke-width="1.5"/>
<rect x="1512.0" y="2022.1" width="29.0" height="29.0" fill="#dc0000" stroke="#8a0000" stroke-width="1.5"/>
<rect x="1698.8" y="2037.5" width="29.0" height="29.0" fill="#dc0000" stroke="#8a0000" stroke-width="1.5"/>
<rect x="1885.4" y="2052.8" width="29.0" height="29.0" fill="#dc0000" stroke="#8a0000" stroke-width="1.5"/>
<rect x="2072.1" y="2057.8" width="29.0" height="29.0" fill="#dc0000" stroke="#8a0000" stroke-width="1.5"/>
<line x1="537.50" y1="2371.00" x2="661.50" y2="2371.00" stroke="#000" stroke-width="12.5" stroke-linecap="round"/>
<polygon points="599.5,2352 613.5,2371 599.5,2390 585.5,2371" fill="#1d5fd1" stroke="#0a2a80" stroke-width="3"/>
<text transform="translate(677.50,2395.00)" font-family="'Liberation Sans', Arial, sans-serif" font-size="70.8" text-anchor="start" font-weight="normal" font-style="normal" fill="#000" stroke="#000" stroke-width="1.9">Control</text>
<line x1="978.70" y1="2371.00" x2="1102.60" y2="2371.00" stroke="#000" stroke-width="12.5" stroke-linecap="round"/>
<rect x="1026.0" y="2356.0" width="27.0" height="27.0" fill="#dc0000" stroke="#8a0000" stroke-width="1.5"/>
<text transform="translate(1115.00,2395.00)" font-family="'Liberation Sans', Arial, sans-serif" font-size="72.3" text-anchor="start" font-weight="normal" font-style="italic" fill="#000" stroke="#000" stroke-width="1.9">P. plecoglossicida 2.4-D</text>
</g>
</svg>
</body></html>
